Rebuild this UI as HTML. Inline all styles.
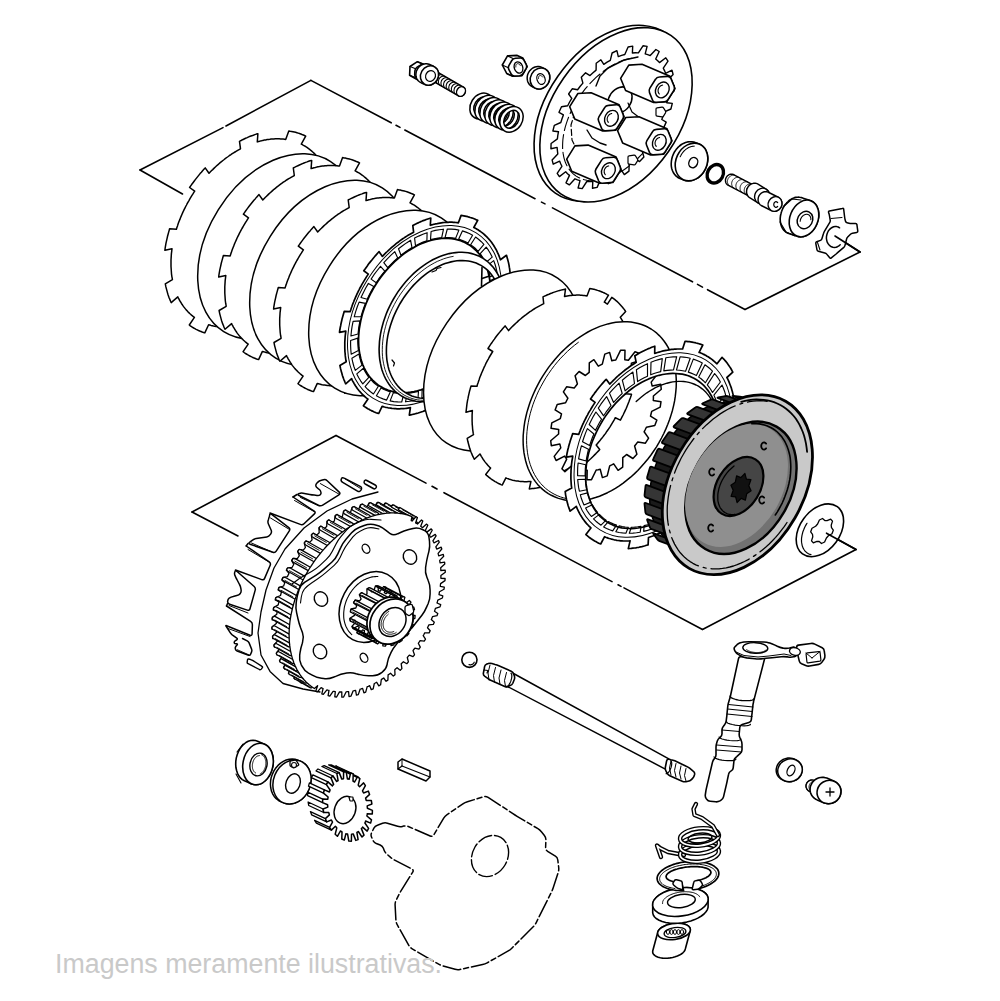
<!DOCTYPE html>
<html><head><meta charset="utf-8"><style>html,body{margin:0;padding:0;background:#fff;overflow:hidden}svg{display:block}</style></head>
<body><svg width="1000" height="1001" viewBox="0 0 1000 1001"><path d="M310.9,80.4 L226,126" stroke="#000" stroke-width="1.6" fill="none" stroke-linejoin="round" stroke-linecap="round"/>
<path d="M223,127.6 L140,170" stroke="#000" stroke-width="1.6" fill="none" stroke-linejoin="round" stroke-linecap="round"/>
<path d="M140,170 L182.5,194" stroke="#000" stroke-width="1.6" fill="none" stroke-linejoin="round" stroke-linecap="round"/>
<path d="M310.9,80.4 L391.2,122.8" stroke="#000" stroke-width="1.6" fill="none" stroke-linejoin="round" stroke-linecap="round"/>
<path d="M396,125.3 L400,127.4" stroke="#000" stroke-width="1.6" fill="none" stroke-linejoin="round" stroke-linecap="round"/>
<path d="M404.8,130 L535,198.7" stroke="#000" stroke-width="1.6" fill="none" stroke-linejoin="round" stroke-linecap="round"/>
<path d="M541.5,202.1 L545,203.9" stroke="#000" stroke-width="1.6" fill="none" stroke-linejoin="round" stroke-linecap="round"/>
<path d="M552.5,207.9 L692.5,281.8" stroke="#000" stroke-width="1.6" fill="none" stroke-linejoin="round" stroke-linecap="round"/>
<path d="M697.5,284.4 L702.5,287.1" stroke="#000" stroke-width="1.6" fill="none" stroke-linejoin="round" stroke-linecap="round"/>
<path d="M707.5,289.7 L745,309.5" stroke="#000" stroke-width="1.6" fill="none" stroke-linejoin="round" stroke-linecap="round"/>
<path d="M745,309.5 L860,252" stroke="#000" stroke-width="1.6" fill="none" stroke-linejoin="round" stroke-linecap="round"/>
<path d="M860,252 L835,236" stroke="#000" stroke-width="1.6" fill="none" stroke-linejoin="round" stroke-linecap="round"/>
<path d="M336,435.5 L192,512" stroke="#000" stroke-width="1.6" fill="none" stroke-linejoin="round" stroke-linecap="round"/>
<path d="M192,512 L238,536" stroke="#000" stroke-width="1.6" fill="none" stroke-linejoin="round" stroke-linecap="round"/>
<path d="M336,435.5 L426,483.1" stroke="#000" stroke-width="1.6" fill="none" stroke-linejoin="round" stroke-linecap="round"/>
<path d="M432,486.3 L437,489" stroke="#000" stroke-width="1.6" fill="none" stroke-linejoin="round" stroke-linecap="round"/>
<path d="M444,492.7 L612,581.6" stroke="#000" stroke-width="1.6" fill="none" stroke-linejoin="round" stroke-linecap="round"/>
<path d="M618,584.8 L621,586.4" stroke="#000" stroke-width="1.6" fill="none" stroke-linejoin="round" stroke-linecap="round"/>
<path d="M624,587.9 L702.5,629.5" stroke="#000" stroke-width="1.6" fill="none" stroke-linejoin="round" stroke-linecap="round"/>
<path d="M702.5,629.5 L856,549.5" stroke="#000" stroke-width="1.6" fill="none" stroke-linejoin="round" stroke-linecap="round"/>
<path d="M856,549.5 L826.5,533.2" stroke="#000" stroke-width="1.6" fill="none" stroke-linejoin="round" stroke-linecap="round"/>
<path d="M305.6,146.5 L306.6,147.2 L307.6,147.9 L308.6,148.6 L309.6,149.3 L310.5,150.1 L311.5,150.9 L312.4,151.7 L313.3,152.5 L314.2,153.4 L315.1,154.3 L315.9,155.2 L316.8,156.1 L317.6,157.1 L318.4,158.1 L319.2,159.1 L319.9,160.1 L320.6,161.2 L321.4,162.3 L322,163.4 L322.7,164.5 L323.4,165.6 L324,166.8 L324.6,167.9 L325.2,169.1 L325.7,170.4 L326.2,171.6 L326.8,172.9 L327.2,174.1 L327.7,175.4 L328.2,176.7 L335.1,171.7 L335.5,173.1 L335.9,174.6 L336.3,176.1 L336.7,177.6 L337.1,179.1 L337.4,180.6 L337.7,182.2 L338,183.7 L338.2,185.3 L338.5,186.9 L338.6,188.5 L338.8,190.1 L339,191.8 L331.7,195.2 L331.8,196.7 L331.9,198.2 L332,199.7 L332,201.3 L332,202.8 L332,204.4 L332,206 L331.9,207.5 L331.8,209.1 L331.7,210.7 L331.6,212.3 L331.4,213.9 L331.2,215.5 L331,217.2 L330.8,218.8 L330.5,220.4 L330.2,222 L329.9,223.7 L329.6,225.3 L329.2,227 L328.8,228.6 L328.4,230.2 L335.4,230 L334.9,231.8 L334.4,233.6 L333.9,235.4 L333.4,237.2 L332.8,239 L332.2,240.7 L331.6,242.5 L330.9,244.3 L330.3,246.1 L329.6,247.9 L328.9,249.6 L328.1,251.4 L327.4,253.2 L321.1,251.5 L320.4,253.1 L319.7,254.7 L318.9,256.3 L318.1,257.9 L317.3,259.5 L316.5,261 L315.7,262.6 L314.8,264.2 L313.9,265.7 L313,267.3 L312.1,268.8 L311.2,270.3 L310.2,271.8 L309.3,273.3 L308.3,274.8 L307.3,276.2 L306.2,277.7 L305.2,279.1 L304.2,280.6 L303.1,282 L302,283.4 L300.9,284.7 L305.3,289.4 L304.1,290.9 L302.9,292.4 L301.6,293.8 L300.4,295.3 L299.1,296.7 L297.8,298.1 L296.5,299.4 L295.2,300.8 L293.8,302.1 L292.5,303.4 L291.1,304.7 L289.7,306 L288.4,307.3 L285.3,301.1 L284,302.3 L282.8,303.4 L281.5,304.4 L280.1,305.5 L278.8,306.5 L277.5,307.6 L276.2,308.5 L274.8,309.5 L273.5,310.5 L272.1,311.4 L270.8,312.3 L269.4,313.2 L268,314 L266.6,314.8 L265.3,315.6 L263.9,316.4 L262.5,317.2 L261.1,317.9 L259.7,318.6 L258.3,319.3 L256.9,319.9 L255.5,320.5 L255.8,328.4 L254.3,329.1 L252.8,329.7 L251.2,330.3 L249.7,330.8 L248.2,331.4 L246.7,331.9 L245.1,332.3 L243.6,332.8 L242.1,333.2 L240.6,333.6 L239,333.9 L237.5,334.2 L236,334.5 L237.3,326.1 L235.9,326.4 L234.5,326.6 L233.2,326.7 L231.8,326.9 L230.4,327 L229.1,327.1 L227.7,327.2 L226.4,327.2 L225.1,327.2 L223.7,327.2 L222.4,327.1 L221.1,327 L219.8,326.9 L218.5,326.8 L217.3,326.6 L216,326.4 L214.7,326.2 L213.5,326 L212.3,325.7 L211,325.4 L209.8,325 L208.6,324.7 L204.8,332.9 L203.5,332.5 L202.2,332 L201,331.5 L199.7,331 L198.5,330.5 L197.3,329.9 L196.1,329.3 L194.9,328.6 L193.7,328 L192.6,327.3 L191.5,326.6 L190.3,325.8 L189.3,325 L194.4,317.4 L193.4,316.7 L192.5,315.9 L191.5,315.1 L190.6,314.3 L189.7,313.5 L188.8,312.6 L187.9,311.7 L187.1,310.8 L186.2,309.9 L185.4,308.9 L184.6,307.9 L183.8,306.9 L183.1,305.9 L182.4,304.8 L181.6,303.7 L181,302.6 L180.3,301.5 L179.6,300.4 L179,299.2 L178.4,298.1 L177.8,296.9 L171.2,302.6 L170.6,301.3 L170,299.9 L169.5,298.6 L168.9,297.2 L168.4,295.8 L167.9,294.3 L167.5,292.9 L167.1,291.4 L166.7,289.9 L166.3,288.4 L165.9,286.9 L165.6,285.4 L165.3,283.8 L172.4,279.6 L172.2,278.2 L171.9,276.8 L171.7,275.3 L171.5,273.8 L171.4,272.3 L171.3,270.8 L171.2,269.3 L171.1,267.8 L171,266.3 L171,264.7 L171,263.2 L171,261.6 L171,260 L171.1,258.5 L171.2,256.9 L171.3,255.3 L171.4,253.7 L171.6,252.1 L171.8,250.5 L172,248.8 L164.9,250.3 L165.1,248.5 L165.4,246.7 L165.7,244.9 L166,243.2 L166.4,241.4 L166.8,239.6 L167.2,237.8 L167.6,236 L168.1,234.2 L168.6,232.4 L169.1,230.6 L169.6,228.8 L176.4,229.2 L176.9,227.5 L177.5,225.9 L178,224.3 L178.6,222.6 L179.2,221 L179.9,219.4 L180.5,217.7 L181.2,216.1 L181.9,214.5 L182.6,212.9 L183.3,211.3 L184.1,209.7 L184.9,208.1 L185.7,206.5 L186.5,205 L187.3,203.4 L188.2,201.8 L189.1,200.3 L190,198.7 L190.9,197.2 L191.8,195.7 L192.8,194.2 L193.7,192.7 L194.7,191.2 L189.6,187.5 L190.7,185.9 L191.8,184.3 L193,182.7 L194.1,181.2 L195.3,179.6 L196.5,178.1 L197.7,176.6 L198.9,175.1 L200.1,173.6 L201.4,172.2 L202.6,170.7 L203.9,169.3 L205.2,167.9 L209,173.3 L210.2,172 L211.4,170.8 L212.7,169.6 L213.9,168.4 L215.1,167.2 L216.4,166 L217.7,164.9 L219,163.7 L220.2,162.6 L221.5,161.6 L222.9,160.5 L224.2,159.5 L225.5,158.4 L226.8,157.5 L228.2,156.5 L229.5,155.5 L230.9,154.6 L232.2,153.7 L233.6,152.8 L235,152 L236.4,151.2 L237.7,150.4 L239.1,149.6 L240.5,148.8 L239.5,141.3 L241.1,140.5 L242.6,139.7 L244.1,139 L245.6,138.3 L247.2,137.6 L248.7,136.9 L250.2,136.3 L251.8,135.7 L253.3,135.2 L254.8,134.6 L256.3,134.1 L257.9,133.7 L257.3,141.9 L258.7,141.5 L260.1,141.1 L261.5,140.8 L262.9,140.4 L264.3,140.1 L265.7,139.9 L267.1,139.6 L268.5,139.4 L269.8,139.3 L271.2,139.1 L272.6,139 L273.9,138.9 L275.3,138.8 L276.6,138.8 L277.9,138.8 L279.3,138.8 L280.6,138.9 L281.9,139 L283.2,139.1 L284.5,139.2 L285.7,139.4 L288.8,130.9 L290.2,131.2 L291.6,131.4 L292.9,131.7 L294.3,132 L295.6,132.3 L296.9,132.7 L298.2,133.1 L299.5,133.5 L300.8,134 L302,134.5 L303.3,135 L304.5,135.5 L305.7,136.1 L301.3,144.1 L302.4,144.7 L303.4,145.3 L304.5,145.9 L305.6,146.5Z" stroke="#000" stroke-width="1.5" fill="#fff" stroke-linejoin="round" stroke-linecap="round"/>
<ellipse cx="277" cy="246.5" rx="100.5" ry="69.3" transform="rotate(-58 277 246.5)" stroke="#000" stroke-width="1.5" fill="#fff" stroke-linejoin="round" stroke-linecap="round"/>
<path d="M359.4,173.2 L360.4,173.9 L361.4,174.6 L362.4,175.3 L363.4,176 L364.3,176.8 L365.3,177.6 L366.2,178.4 L367.1,179.2 L368,180.1 L368.9,181 L369.7,181.9 L370.6,182.8 L371.4,183.8 L372.2,184.8 L373,185.8 L373.7,186.8 L374.4,187.9 L375.2,189 L375.8,190.1 L376.5,191.2 L377.2,192.3 L377.8,193.5 L378.4,194.6 L379,195.8 L379.5,197.1 L380,198.3 L380.6,199.6 L381,200.8 L381.5,202.1 L382,203.4 L388.9,198.4 L389.3,199.8 L389.7,201.3 L390.1,202.8 L390.5,204.3 L390.9,205.8 L391.2,207.3 L391.5,208.9 L391.8,210.4 L392,212 L392.3,213.6 L392.4,215.2 L392.6,216.8 L392.8,218.5 L385.5,221.9 L385.6,223.4 L385.7,224.9 L385.8,226.4 L385.8,228 L385.8,229.5 L385.8,231.1 L385.8,232.7 L385.7,234.2 L385.6,235.8 L385.5,237.4 L385.4,239 L385.2,240.6 L385,242.2 L384.8,243.9 L384.6,245.5 L384.3,247.1 L384,248.7 L383.7,250.4 L383.4,252 L383,253.7 L382.6,255.3 L382.2,256.9 L389.2,256.7 L388.7,258.5 L388.2,260.3 L387.7,262.1 L387.2,263.9 L386.6,265.7 L386,267.4 L385.4,269.2 L384.7,271 L384.1,272.8 L383.4,274.6 L382.7,276.3 L381.9,278.1 L381.2,279.9 L374.9,278.2 L374.2,279.8 L373.5,281.4 L372.7,283 L371.9,284.6 L371.1,286.2 L370.3,287.7 L369.5,289.3 L368.6,290.9 L367.7,292.4 L366.8,294 L365.9,295.5 L365,297 L364,298.5 L363.1,300 L362.1,301.5 L361.1,302.9 L360,304.4 L359,305.8 L358,307.3 L356.9,308.7 L355.8,310.1 L354.7,311.4 L359.1,316.1 L357.9,317.6 L356.7,319.1 L355.4,320.5 L354.2,322 L352.9,323.4 L351.6,324.8 L350.3,326.1 L349,327.5 L347.6,328.8 L346.3,330.1 L344.9,331.4 L343.5,332.7 L342.2,334 L339.1,327.8 L337.8,329 L336.6,330.1 L335.3,331.1 L333.9,332.2 L332.6,333.2 L331.3,334.3 L330,335.2 L328.6,336.2 L327.3,337.2 L325.9,338.1 L324.6,339 L323.2,339.9 L321.8,340.7 L320.4,341.5 L319.1,342.3 L317.7,343.1 L316.3,343.9 L314.9,344.6 L313.5,345.3 L312.1,346 L310.7,346.6 L309.3,347.2 L309.6,355.1 L308.1,355.8 L306.6,356.4 L305,357 L303.5,357.5 L302,358.1 L300.5,358.6 L298.9,359 L297.4,359.5 L295.9,359.9 L294.4,360.3 L292.8,360.6 L291.3,360.9 L289.8,361.2 L291.1,352.8 L289.7,353.1 L288.3,353.3 L287,353.4 L285.6,353.6 L284.2,353.7 L282.9,353.8 L281.5,353.9 L280.2,353.9 L278.9,353.9 L277.5,353.9 L276.2,353.8 L274.9,353.7 L273.6,353.6 L272.3,353.5 L271.1,353.3 L269.8,353.1 L268.5,352.9 L267.3,352.7 L266.1,352.4 L264.8,352.1 L263.6,351.7 L262.4,351.4 L258.6,359.6 L257.3,359.2 L256,358.7 L254.8,358.2 L253.5,357.7 L252.3,357.2 L251.1,356.6 L249.9,356 L248.7,355.3 L247.5,354.7 L246.4,354 L245.3,353.3 L244.1,352.5 L243.1,351.7 L248.2,344.1 L247.2,343.4 L246.3,342.6 L245.3,341.8 L244.4,341 L243.5,340.2 L242.6,339.3 L241.7,338.4 L240.9,337.5 L240,336.6 L239.2,335.6 L238.4,334.6 L237.6,333.6 L236.9,332.6 L236.2,331.5 L235.4,330.4 L234.8,329.3 L234.1,328.2 L233.4,327.1 L232.8,325.9 L232.2,324.8 L231.6,323.6 L225,329.3 L224.4,328 L223.8,326.6 L223.3,325.3 L222.7,323.9 L222.2,322.5 L221.7,321 L221.3,319.6 L220.9,318.1 L220.5,316.6 L220.1,315.1 L219.7,313.6 L219.4,312.1 L219.1,310.5 L226.2,306.3 L226,304.9 L225.7,303.5 L225.5,302 L225.3,300.5 L225.2,299 L225.1,297.5 L225,296 L224.9,294.5 L224.8,293 L224.8,291.4 L224.8,289.9 L224.8,288.3 L224.8,286.7 L224.9,285.2 L225,283.6 L225.1,282 L225.2,280.4 L225.4,278.8 L225.6,277.2 L225.8,275.5 L218.7,277 L218.9,275.2 L219.2,273.4 L219.5,271.6 L219.8,269.9 L220.2,268.1 L220.6,266.3 L221,264.5 L221.4,262.7 L221.9,260.9 L222.4,259.1 L222.9,257.3 L223.4,255.5 L230.2,255.9 L230.7,254.2 L231.3,252.6 L231.8,251 L232.4,249.3 L233,247.7 L233.7,246.1 L234.3,244.4 L235,242.8 L235.7,241.2 L236.4,239.6 L237.1,238 L237.9,236.4 L238.7,234.8 L239.5,233.2 L240.3,231.7 L241.1,230.1 L242,228.5 L242.9,227 L243.8,225.4 L244.7,223.9 L245.6,222.4 L246.6,220.9 L247.5,219.4 L248.5,217.9 L243.4,214.2 L244.5,212.6 L245.6,211 L246.8,209.4 L247.9,207.9 L249.1,206.3 L250.3,204.8 L251.5,203.3 L252.7,201.8 L253.9,200.3 L255.2,198.9 L256.4,197.4 L257.7,196 L259,194.6 L262.8,200 L264,198.7 L265.2,197.5 L266.5,196.3 L267.7,195.1 L268.9,193.9 L270.2,192.7 L271.5,191.6 L272.8,190.4 L274,189.3 L275.3,188.3 L276.7,187.2 L278,186.2 L279.3,185.1 L280.6,184.2 L282,183.2 L283.3,182.2 L284.7,181.3 L286,180.4 L287.4,179.5 L288.8,178.7 L290.2,177.9 L291.5,177.1 L292.9,176.3 L294.3,175.5 L293.3,168 L294.9,167.2 L296.4,166.4 L297.9,165.7 L299.4,165 L301,164.3 L302.5,163.6 L304,163 L305.6,162.4 L307.1,161.9 L308.6,161.3 L310.1,160.8 L311.7,160.4 L311.1,168.6 L312.5,168.2 L313.9,167.8 L315.3,167.5 L316.7,167.1 L318.1,166.8 L319.5,166.6 L320.9,166.3 L322.3,166.1 L323.6,166 L325,165.8 L326.4,165.7 L327.7,165.6 L329.1,165.5 L330.4,165.5 L331.7,165.5 L333.1,165.5 L334.4,165.6 L335.7,165.7 L337,165.8 L338.3,165.9 L339.5,166.1 L342.6,157.6 L344,157.9 L345.4,158.1 L346.7,158.4 L348.1,158.7 L349.4,159 L350.7,159.4 L352,159.8 L353.3,160.2 L354.6,160.7 L355.8,161.2 L357.1,161.7 L358.3,162.2 L359.5,162.8 L355.1,170.8 L356.2,171.4 L357.2,172 L358.3,172.6 L359.4,173.2Z" stroke="#000" stroke-width="1.5" fill="#fff" stroke-linejoin="round" stroke-linecap="round"/>
<ellipse cx="329" cy="273" rx="100.5" ry="69.3" transform="rotate(-58 329 273)" stroke="#000" stroke-width="1.5" fill="#fff" stroke-linejoin="round" stroke-linecap="round"/>
<path d="M414.3,205.2 L415.3,205.9 L416.3,206.6 L417.3,207.3 L418.3,208 L419.2,208.8 L420.2,209.6 L421.1,210.4 L422,211.2 L422.9,212.1 L423.8,213 L424.6,213.9 L425.5,214.8 L426.3,215.8 L427.1,216.8 L427.9,217.8 L428.6,218.8 L429.3,219.9 L430.1,221 L430.7,222.1 L431.4,223.2 L432.1,224.3 L432.7,225.5 L433.3,226.6 L433.9,227.8 L434.4,229.1 L434.9,230.3 L435.5,231.6 L435.9,232.8 L436.4,234.1 L436.9,235.4 L443.8,230.4 L444.2,231.8 L444.6,233.3 L445,234.8 L445.4,236.3 L445.8,237.8 L446.1,239.3 L446.4,240.9 L446.7,242.4 L446.9,244 L447.2,245.6 L447.3,247.2 L447.5,248.8 L447.7,250.5 L440.4,253.9 L440.5,255.4 L440.6,256.9 L440.7,258.4 L440.7,260 L440.7,261.5 L440.7,263.1 L440.7,264.7 L440.6,266.2 L440.5,267.8 L440.4,269.4 L440.3,271 L440.1,272.6 L439.9,274.2 L439.7,275.9 L439.5,277.5 L439.2,279.1 L438.9,280.7 L438.6,282.4 L438.3,284 L437.9,285.7 L437.5,287.3 L437.1,288.9 L444.1,288.7 L443.6,290.5 L443.1,292.3 L442.6,294.1 L442.1,295.9 L441.5,297.7 L440.9,299.4 L440.3,301.2 L439.6,303 L439,304.8 L438.3,306.6 L437.6,308.3 L436.8,310.1 L436.1,311.9 L429.8,310.2 L429.1,311.8 L428.4,313.4 L427.6,315 L426.8,316.6 L426,318.2 L425.2,319.7 L424.4,321.3 L423.5,322.9 L422.6,324.4 L421.7,326 L420.8,327.5 L419.9,329 L418.9,330.5 L418,332 L417,333.5 L416,334.9 L414.9,336.4 L413.9,337.8 L412.9,339.3 L411.8,340.7 L410.7,342.1 L409.6,343.4 L414,348.1 L412.8,349.6 L411.6,351.1 L410.3,352.5 L409.1,354 L407.8,355.4 L406.5,356.8 L405.2,358.1 L403.9,359.5 L402.5,360.8 L401.2,362.1 L399.8,363.4 L398.4,364.7 L397.1,366 L394,359.8 L392.7,361 L391.5,362.1 L390.2,363.1 L388.8,364.2 L387.5,365.2 L386.2,366.3 L384.9,367.2 L383.5,368.2 L382.2,369.2 L380.8,370.1 L379.5,371 L378.1,371.9 L376.7,372.7 L375.3,373.5 L374,374.3 L372.6,375.1 L371.2,375.9 L369.8,376.6 L368.4,377.3 L367,378 L365.6,378.6 L364.2,379.2 L364.5,387.1 L363,387.8 L361.5,388.4 L359.9,389 L358.4,389.5 L356.9,390.1 L355.4,390.6 L353.8,391 L352.3,391.5 L350.8,391.9 L349.3,392.3 L347.7,392.6 L346.2,392.9 L344.7,393.2 L346,384.8 L344.6,385.1 L343.2,385.3 L341.9,385.4 L340.5,385.6 L339.1,385.7 L337.8,385.8 L336.4,385.9 L335.1,385.9 L333.8,385.9 L332.4,385.9 L331.1,385.8 L329.8,385.7 L328.5,385.6 L327.2,385.5 L326,385.3 L324.7,385.1 L323.4,384.9 L322.2,384.7 L321,384.4 L319.7,384.1 L318.5,383.7 L317.3,383.4 L313.5,391.6 L312.2,391.2 L310.9,390.7 L309.7,390.2 L308.4,389.7 L307.2,389.2 L306,388.6 L304.8,388 L303.6,387.3 L302.4,386.7 L301.3,386 L300.2,385.3 L299,384.5 L298,383.7 L303.1,376.1 L302.1,375.4 L301.2,374.6 L300.2,373.8 L299.3,373 L298.4,372.2 L297.5,371.3 L296.6,370.4 L295.8,369.5 L294.9,368.6 L294.1,367.6 L293.3,366.6 L292.5,365.6 L291.8,364.6 L291.1,363.5 L290.3,362.4 L289.7,361.3 L289,360.2 L288.3,359.1 L287.7,357.9 L287.1,356.8 L286.5,355.6 L279.9,361.3 L279.3,360 L278.7,358.6 L278.2,357.3 L277.6,355.9 L277.1,354.5 L276.6,353 L276.2,351.6 L275.8,350.1 L275.4,348.6 L275,347.1 L274.6,345.6 L274.3,344.1 L274,342.5 L281.1,338.3 L280.9,336.9 L280.6,335.5 L280.4,334 L280.2,332.5 L280.1,331 L280,329.5 L279.9,328 L279.8,326.5 L279.7,325 L279.7,323.4 L279.7,321.9 L279.7,320.3 L279.7,318.7 L279.8,317.2 L279.9,315.6 L280,314 L280.1,312.4 L280.3,310.8 L280.5,309.2 L280.7,307.5 L273.6,309 L273.8,307.2 L274.1,305.4 L274.4,303.6 L274.7,301.9 L275.1,300.1 L275.5,298.3 L275.9,296.5 L276.3,294.7 L276.8,292.9 L277.3,291.1 L277.8,289.3 L278.3,287.5 L285.1,287.9 L285.6,286.2 L286.2,284.6 L286.7,283 L287.3,281.3 L287.9,279.7 L288.6,278.1 L289.2,276.4 L289.9,274.8 L290.6,273.2 L291.3,271.6 L292,270 L292.8,268.4 L293.6,266.8 L294.4,265.2 L295.2,263.7 L296,262.1 L296.9,260.5 L297.8,259 L298.7,257.4 L299.6,255.9 L300.5,254.4 L301.5,252.9 L302.4,251.4 L303.4,249.9 L298.3,246.2 L299.4,244.6 L300.5,243 L301.7,241.4 L302.8,239.9 L304,238.3 L305.2,236.8 L306.4,235.3 L307.6,233.8 L308.8,232.3 L310.1,230.9 L311.3,229.4 L312.6,228 L313.9,226.6 L317.7,232 L318.9,230.7 L320.1,229.5 L321.4,228.3 L322.6,227.1 L323.8,225.9 L325.1,224.7 L326.4,223.6 L327.7,222.4 L328.9,221.3 L330.2,220.3 L331.6,219.2 L332.9,218.2 L334.2,217.1 L335.5,216.2 L336.9,215.2 L338.2,214.2 L339.6,213.3 L340.9,212.4 L342.3,211.5 L343.7,210.7 L345.1,209.9 L346.4,209.1 L347.8,208.3 L349.2,207.5 L348.2,200 L349.8,199.2 L351.3,198.4 L352.8,197.7 L354.3,197 L355.9,196.3 L357.4,195.6 L358.9,195 L360.5,194.4 L362,193.9 L363.5,193.3 L365,192.8 L366.6,192.4 L366,200.6 L367.4,200.2 L368.8,199.8 L370.2,199.5 L371.6,199.1 L373,198.8 L374.4,198.6 L375.8,198.3 L377.2,198.1 L378.5,198 L379.9,197.8 L381.3,197.7 L382.6,197.6 L384,197.5 L385.3,197.5 L386.6,197.5 L388,197.5 L389.3,197.6 L390.6,197.7 L391.9,197.8 L393.2,197.9 L394.4,198.1 L397.5,189.6 L398.9,189.9 L400.3,190.1 L401.6,190.4 L403,190.7 L404.3,191 L405.6,191.4 L406.9,191.8 L408.2,192.2 L409.5,192.7 L410.7,193.2 L412,193.7 L413.2,194.2 L414.4,194.8 L410,202.8 L411.1,203.4 L412.1,204 L413.2,204.6 L414.3,205.2Z" stroke="#000" stroke-width="1.5" fill="#fff" stroke-linejoin="round" stroke-linecap="round"/>
<ellipse cx="388" cy="303" rx="100.5" ry="69.3" transform="rotate(-58 388 303)" stroke="#000" stroke-width="1.5" fill="#fff" stroke-linejoin="round" stroke-linecap="round"/>
<path d="M478,229.8 L479,230.5 L480.1,231.2 L481,231.9 L482,232.6 L483,233.4 L483.9,234.2 L484.8,235 L485.7,235.8 L486.6,236.7 L487.5,237.6 L488.3,238.5 L489.1,239.4 L489.9,240.3 L490.7,241.3 L491.5,242.3 L492.2,243.3 L493,244.4 L493.7,245.5 L494.3,246.5 L495,247.6 L495.6,248.8 L496.3,249.9 L496.9,251.1 L497.4,252.3 L498,253.5 L498.5,254.7 L499,255.9 L499.5,257.2 L500,258.5 L500.4,259.8 L506.5,255.3 L506.9,256.7 L507.3,258.2 L507.7,259.6 L508.1,261.1 L508.5,262.6 L508.8,264.1 L509.1,265.6 L509.3,267.2 L509.6,268.7 L509.8,270.3 L510,271.9 L510.2,273.4 L510.3,275 L503.9,278 L504.1,279.5 L504.1,281 L504.2,282.6 L504.2,284.1 L504.2,285.6 L504.2,287.2 L504.2,288.7 L504.1,290.3 L504,291.9 L503.9,293.4 L503.8,295 L503.6,296.6 L503.4,298.2 L503.2,299.8 L503,301.4 L502.7,303 L502.4,304.7 L502.1,306.3 L501.8,307.9 L501.5,309.5 L501.1,311.1 L500.7,312.8 L506.8,312.6 L506.3,314.3 L505.8,316.1 L505.3,317.8 L504.8,319.6 L504.2,321.3 L503.7,323.1 L503.1,324.8 L502.4,326.6 L501.8,328.3 L501.1,330.1 L500.4,331.8 L499.7,333.6 L499,335.3 L493.4,333.8 L492.7,335.4 L492,337 L491.2,338.6 L490.5,340.2 L489.7,341.7 L488.9,343.3 L488,344.8 L487.2,346.4 L486.3,347.9 L485.4,349.4 L484.5,350.9 L483.6,352.4 L482.7,353.9 L481.7,355.4 L480.7,356.9 L479.7,358.3 L478.7,359.8 L477.7,361.2 L476.6,362.6 L475.6,364 L474.5,365.4 L473.4,366.7 L477.3,370.8 L476.1,372.3 L474.9,373.7 L473.7,375.2 L472.4,376.6 L471.2,378 L469.9,379.3 L468.6,380.7 L467.3,382 L466,383.3 L464.7,384.6 L463.4,385.9 L462,387.1 L460.7,388.4 L458,383 L456.7,384.1 L455.4,385.2 L454.2,386.2 L452.9,387.3 L451.6,388.3 L450.2,389.3 L448.9,390.3 L447.6,391.3 L446.3,392.2 L444.9,393.1 L443.6,394 L442.2,394.9 L440.9,395.7 L439.5,396.5 L438.1,397.3 L436.7,398.1 L435.4,398.8 L434,399.6 L432.6,400.3 L431.2,400.9 L429.8,401.6 L428.4,402.2 L428.8,409.1 L427.3,409.7 L425.8,410.4 L424.3,410.9 L422.8,411.5 L421.2,412 L419.7,412.5 L418.2,413 L416.7,413.4 L415.3,413.8 L413.8,414.2 L412.3,414.5 L410.8,414.8 L409.3,415.1 L410.4,407.7 L409.1,407.9 L407.7,408.1 L406.3,408.3 L405,408.5 L403.6,408.6 L402.3,408.7 L401,408.7 L399.6,408.8 L398.3,408.8 L397,408.8 L395.7,408.7 L394.4,408.6 L393.1,408.5 L391.9,408.4 L390.6,408.2 L389.3,408 L388.1,407.8 L386.9,407.5 L385.6,407.3 L384.4,407 L383.2,406.6 L382.1,406.3 L378.7,413.5 L377.4,413.1 L376.1,412.7 L374.9,412.2 L373.7,411.7 L372.5,411.1 L371.3,410.6 L370.1,410 L369,409.3 L367.8,408.7 L366.7,408 L365.6,407.3 L364.5,406.6 L363.4,405.8 L368,399.1 L367,398.4 L366,397.6 L365.1,396.8 L364.2,396 L363.3,395.2 L362.4,394.3 L361.5,393.4 L360.7,392.5 L359.9,391.6 L359.1,390.7 L358.3,389.7 L357.5,388.7 L356.8,387.7 L356,386.6 L355.3,385.5 L354.7,384.5 L354,383.4 L353.4,382.2 L352.7,381.1 L352.1,379.9 L351.6,378.7 L345.7,383.8 L345.1,382.5 L344.6,381.2 L344,379.8 L343.5,378.5 L343,377.1 L342.5,375.7 L342.1,374.3 L341.7,372.8 L341.3,371.4 L340.9,369.9 L340.5,368.4 L340.2,366.9 L339.9,365.4 L346.2,361.7 L345.9,360.3 L345.7,358.8 L345.5,357.4 L345.3,355.9 L345.2,354.4 L345.1,353 L344.9,351.5 L344.9,350 L344.8,348.4 L344.8,346.9 L344.8,345.4 L344.8,343.8 L344.8,342.3 L344.9,340.7 L345,339.1 L345.1,337.6 L345.2,336 L345.4,334.4 L345.6,332.8 L345.8,331.2 L339.5,332.4 L339.7,330.7 L340,329 L340.3,327.2 L340.7,325.5 L341,323.7 L341.4,322 L341.8,320.2 L342.2,318.4 L342.7,316.7 L343.2,314.9 L343.7,313.2 L344.2,311.4 L350.1,311.7 L350.7,310.1 L351.2,308.5 L351.8,306.8 L352.3,305.2 L352.9,303.6 L353.6,302 L354.2,300.4 L354.9,298.8 L355.6,297.2 L356.3,295.6 L357,294 L357.8,292.4 L358.5,290.8 L359.3,289.3 L360.1,287.7 L361,286.2 L361.8,284.6 L362.7,283.1 L363.6,281.6 L364.5,280.1 L365.4,278.6 L366.3,277.1 L367.3,275.6 L368.3,274.1 L363.8,270.8 L364.9,269.3 L366,267.7 L367.1,266.2 L368.2,264.6 L369.3,263.1 L370.5,261.6 L371.7,260.2 L372.9,258.7 L374.1,257.3 L375.3,255.8 L376.6,254.4 L377.8,253 L379.1,251.7 L382.4,256.4 L383.6,255.1 L384.8,253.9 L386,252.7 L387.3,251.5 L388.5,250.3 L389.8,249.2 L391,248 L392.3,246.9 L393.6,245.8 L394.8,244.8 L396.1,243.7 L397.4,242.7 L398.8,241.7 L400.1,240.7 L401.4,239.7 L402.7,238.8 L404.1,237.9 L405.4,237 L406.8,236.1 L408.1,235.3 L409.5,234.5 L410.9,233.7 L412.3,232.9 L413.6,232.2 L412.8,225.5 L414.3,224.7 L415.7,224 L417.2,223.2 L418.7,222.6 L420.2,221.9 L421.7,221.3 L423.2,220.6 L424.7,220.1 L426.2,219.5 L427.8,219 L429.3,218.5 L430.8,218 L430.3,225.3 L431.7,224.9 L433.1,224.5 L434.4,224.2 L435.8,223.8 L437.2,223.6 L438.6,223.3 L439.9,223.1 L441.3,222.9 L442.7,222.7 L444,222.5 L445.4,222.4 L446.7,222.3 L448,222.3 L449.4,222.2 L450.7,222.2 L452,222.2 L453.3,222.3 L454.6,222.4 L455.9,222.5 L457.1,222.6 L458.4,222.8 L461.1,215.4 L462.5,215.6 L463.8,215.8 L465.1,216.1 L466.5,216.4 L467.8,216.7 L469.1,217.1 L470.3,217.5 L471.6,217.9 L472.9,218.3 L474.1,218.8 L475.3,219.3 L476.5,219.9 L477.7,220.4 L473.8,227.5 L474.9,228 L475.9,228.6 L477,229.2 L478,229.8Z M468.7,244.7 L466.1,243.2 L463.4,241.9 L460.6,240.8 L457.6,239.9 L454.6,239.2 L451.5,238.7 L448.3,238.4 L445,238.4 L441.7,238.5 L438.4,238.9 L435,239.5 L431.6,240.3 L428.1,241.3 L424.7,242.4 L421.2,243.8 L417.8,245.4 L414.4,247.2 L411,249.2 L407.6,251.3 L404.3,253.7 L401.1,256.1 L397.9,258.8 L394.7,261.6 L391.7,264.6 L388.8,267.7 L385.9,270.9 L383.2,274.3 L380.5,277.7 L378,281.3 L375.6,285 L373.4,288.7 L371.3,292.5 L369.3,296.4 L367.5,300.4 L365.9,304.3 L364.4,308.3 L363,312.4 L361.9,316.4 L360.9,320.4 L360.1,324.5 L359.4,328.5 L359,332.4 L358.7,336.3 L358.6,340.2 L358.7,344 L358.9,347.7 L359.4,351.3 L360,354.8 L360.8,358.3 L361.7,361.6 L362.9,364.7 L364.2,367.8 L365.7,370.7 L367.3,373.4 L369.1,376 L371.1,378.4 L373.2,380.7 L375.4,382.7 L377.8,384.6 L380.3,386.3 L382.9,387.8 L385.6,389.1 L388.4,390.2 L391.4,391.1 L394.4,391.8 L397.5,392.3 L400.7,392.6 L404,392.6 L407.3,392.5 L410.6,392.1 L414,391.5 L417.4,390.7 L420.9,389.7 L424.3,388.6 L427.8,387.2 L431.2,385.6 L434.6,383.8 L438,381.8 L441.4,379.7 L444.7,377.3 L447.9,374.9 L451.1,372.2 L454.3,369.4 L457.3,366.4 L460.2,363.3 L463.1,360.1 L465.8,356.7 L468.5,353.3 L471,349.7 L473.4,346 L475.6,342.3 L477.7,338.5 L479.7,334.6 L481.5,330.6 L483.1,326.7 L484.6,322.7 L486,318.6 L487.1,314.6 L488.1,310.6 L488.9,306.5 L489.6,302.5 L490,298.6 L490.3,294.7 L490.4,290.8 L490.3,287 L490.1,283.3 L489.6,279.7 L489,276.2 L488.2,272.7 L487.3,269.4 L486.1,266.3 L484.8,263.2 L483.3,260.3 L481.7,257.6 L479.9,255 L477.9,252.6 L475.8,250.3 L473.6,248.3 L471.2,246.4 L468.7,244.7Z" fill="#fff" fill-rule="evenodd" stroke="#000" stroke-width="1.7" stroke-linejoin="round"/>
<path d="M468.7,244.7 L466.1,243.2 L463.4,241.9 L460.6,240.8 L457.6,239.9 L454.6,239.2 L451.5,238.7 L448.3,238.4 L445,238.4 L441.7,238.5 L438.4,238.9 L435,239.5 L431.6,240.3 L428.1,241.3 L424.7,242.4 L421.2,243.8 L417.8,245.4 L414.4,247.2 L411,249.2 L407.6,251.3 L404.3,253.7 L401.1,256.1 L397.9,258.8 L394.7,261.6 L391.7,264.6 L388.8,267.7 L385.9,270.9 L383.2,274.3 L380.5,277.7 L378,281.3 L375.6,285 L373.4,288.7 L371.3,292.5 L369.3,296.4 L367.5,300.4 L365.9,304.3 L364.4,308.3 L363,312.4 L361.9,316.4 L360.9,320.4 L360.1,324.5 L359.4,328.5 L359,332.4 L358.7,336.3 L358.6,340.2 L358.7,344 L358.9,347.7 L359.4,351.3 L360,354.8 L360.8,358.3 L361.7,361.6 L362.9,364.7 L364.2,367.8 L365.7,370.7 L367.3,373.4 L369.1,376 L371.1,378.4 L373.2,380.7 L375.4,382.7 L377.8,384.6 L380.3,386.3 L382.9,387.8 L385.6,389.1 L388.4,390.2 L391.4,391.1 L394.4,391.8 L397.5,392.3 L400.7,392.6 L404,392.6 L407.3,392.5 L410.6,392.1 L414,391.5 L417.4,390.7 L420.9,389.7 L424.3,388.6 L427.8,387.2 L431.2,385.6 L434.6,383.8 L438,381.8 L441.4,379.7 L444.7,377.3 L447.9,374.9 L451.1,372.2 L454.3,369.4 L457.3,366.4 L460.2,363.3 L463.1,360.1 L465.8,356.7 L468.5,353.3 L471,349.7 L473.4,346 L475.6,342.3 L477.7,338.5 L479.7,334.6 L481.5,330.6 L483.1,326.7 L484.6,322.7 L486,318.6 L487.1,314.6 L488.1,310.6 L488.9,306.5 L489.6,302.5 L490,298.6 L490.3,294.7 L490.4,290.8 L490.3,287 L490.1,283.3 L489.6,279.7 L489,276.2 L488.2,272.7 L487.3,269.4 L486.1,266.3 L484.8,263.2 L483.3,260.3 L481.7,257.6 L479.9,255 L477.9,252.6 L475.8,250.3 L473.6,248.3 L471.2,246.4 L468.7,244.7Z" stroke="#000" stroke-width="1.6" fill="#fff" stroke-linejoin="round" stroke-linecap="round"/>
<ellipse cx="424.5" cy="315.5" rx="97.5" ry="67.3" transform="rotate(-58 424.5 315.5)" stroke="#000" stroke-width="1.0" fill="none" stroke-linejoin="round" stroke-linecap="round"/>
<path d="M475.6,237 L478.5,239.2 L481.3,241.7 L483.9,244.3 L478.1,251.3 L475.8,248.8 L473.3,246.6 L470.6,244.7Z" stroke="#000" stroke-width="1.15" fill="none" stroke-linejoin="round" stroke-linecap="round"/>
<path d="M486.2,247.1 L488.4,250.2 L490.4,253.5 L492.2,257.1 L485.6,262.7 L484,259.6 L482.2,256.6 L480.2,253.7Z" stroke="#000" stroke-width="1.15" fill="none" stroke-linejoin="round" stroke-linecap="round"/>
<path d="M493.7,260.6 L495.1,264.5 L496.2,268.5 L497.1,272.7 L490.1,276.9 L489.2,273.1 L488.2,269.4 L487,265.9Z" stroke="#000" stroke-width="1.15" fill="none" stroke-linejoin="round" stroke-linecap="round"/>
<path d="M497.8,276.8 L498.2,281.3 L498.4,285.9 L498.4,290.5 L491.2,292.9 L491.2,288.7 L491,284.6 L490.6,280.6Z" stroke="#000" stroke-width="1.15" fill="none" stroke-linejoin="round" stroke-linecap="round"/>
<path d="M498.1,295 L497.6,299.8 L496.9,304.7 L495.9,309.6 L489,310.1 L489.9,305.7 L490.5,301.3 L491,297Z" stroke="#000" stroke-width="1.15" fill="none" stroke-linejoin="round" stroke-linecap="round"/>
<path d="M494.8,314.2 L493.4,319.1 L491.8,324 L489.9,328.9 L483.6,327.6 L485.2,323.2 L486.7,318.8 L488,314.3Z" stroke="#000" stroke-width="1.15" fill="none" stroke-linejoin="round" stroke-linecap="round"/>
<path d="M488,333.5 L485.7,338.3 L483.3,343 L480.6,347.6 L475.2,344.5 L477.6,340.3 L479.8,336.1 L481.8,331.7Z" stroke="#000" stroke-width="1.15" fill="none" stroke-linejoin="round" stroke-linecap="round"/>
<path d="M477.9,351.9 L475,356.3 L471.8,360.5 L468.5,364.7 L464.2,359.9 L467.2,356.2 L470.1,352.3 L472.8,348.3Z" stroke="#000" stroke-width="1.15" fill="none" stroke-linejoin="round" stroke-linecap="round"/>
<path d="M465.2,368.4 L461.7,372.2 L458,375.8 L454.2,379.3 L451.3,373.1 L454.7,370 L458.1,366.7 L461.3,363.3Z" stroke="#000" stroke-width="1.15" fill="none" stroke-linejoin="round" stroke-linecap="round"/>
<path d="M450.5,382.3 L446.5,385.3 L442.5,388.1 L438.4,390.7 L437,383.4 L440.7,381.1 L444.4,378.5 L448,375.8Z" stroke="#000" stroke-width="1.15" fill="none" stroke-linejoin="round" stroke-linecap="round"/>
<path d="M434.4,392.9 L430.3,394.9 L426.1,396.7 L421.9,398.3 L422.1,390.3 L425.9,388.9 L429.7,387.2 L433.5,385.3Z" stroke="#000" stroke-width="1.15" fill="none" stroke-linejoin="round" stroke-linecap="round"/>
<path d="M417.9,399.5 L413.7,400.6 L409.6,401.3 L405.5,401.8 L407.3,393.4 L411,393 L414.8,392.3 L418.5,391.4Z" stroke="#000" stroke-width="1.15" fill="none" stroke-linejoin="round" stroke-linecap="round"/>
<path d="M401.7,402 L397.7,401.9 L393.8,401.6 L390.1,400.9 L393.4,392.6 L396.8,393.2 L400.3,393.5 L403.9,393.6Z" stroke="#000" stroke-width="1.15" fill="none" stroke-linejoin="round" stroke-linecap="round"/>
<path d="M386.6,400.1 L383,398.9 L379.6,397.5 L376.4,395.8 L381,388 L384,389.5 L387.1,390.8 L390.3,391.9Z" stroke="#000" stroke-width="1.15" fill="none" stroke-linejoin="round" stroke-linecap="round"/>
<path d="M373.4,394 L370.5,391.8 L367.7,389.3 L365.1,386.7 L370.9,379.7 L373.2,382.2 L375.7,384.4 L378.4,386.3Z" stroke="#000" stroke-width="1.15" fill="none" stroke-linejoin="round" stroke-linecap="round"/>
<path d="M362.8,383.9 L360.6,380.8 L358.6,377.5 L356.8,373.9 L363.4,368.3 L365,371.4 L366.8,374.4 L368.8,377.3Z" stroke="#000" stroke-width="1.15" fill="none" stroke-linejoin="round" stroke-linecap="round"/>
<path d="M355.3,370.4 L353.9,366.5 L352.8,362.5 L351.9,358.3 L358.9,354.1 L359.8,357.9 L360.8,361.6 L362,365.1Z" stroke="#000" stroke-width="1.15" fill="none" stroke-linejoin="round" stroke-linecap="round"/>
<path d="M351.2,354.2 L350.8,349.7 L350.6,345.1 L350.6,340.5 L357.8,338.1 L357.8,342.3 L358,346.4 L358.4,350.4Z" stroke="#000" stroke-width="1.15" fill="none" stroke-linejoin="round" stroke-linecap="round"/>
<path d="M350.9,336 L351.4,331.2 L352.1,326.3 L353.1,321.4 L360,320.9 L359.1,325.3 L358.5,329.7 L358,334Z" stroke="#000" stroke-width="1.15" fill="none" stroke-linejoin="round" stroke-linecap="round"/>
<path d="M354.2,316.8 L355.6,311.9 L357.2,307 L359.1,302.1 L365.4,303.4 L363.8,307.8 L362.3,312.2 L361,316.7Z" stroke="#000" stroke-width="1.15" fill="none" stroke-linejoin="round" stroke-linecap="round"/>
<path d="M361,297.5 L363.3,292.7 L365.7,288 L368.4,283.4 L373.8,286.5 L371.4,290.7 L369.2,294.9 L367.2,299.3Z" stroke="#000" stroke-width="1.15" fill="none" stroke-linejoin="round" stroke-linecap="round"/>
<path d="M371.1,279.1 L374,274.7 L377.2,270.5 L380.5,266.3 L384.8,271.1 L381.8,274.8 L378.9,278.7 L376.2,282.7Z" stroke="#000" stroke-width="1.15" fill="none" stroke-linejoin="round" stroke-linecap="round"/>
<path d="M383.8,262.6 L387.3,258.8 L391,255.2 L394.8,251.7 L397.7,257.9 L394.3,261 L390.9,264.3 L387.7,267.7Z" stroke="#000" stroke-width="1.15" fill="none" stroke-linejoin="round" stroke-linecap="round"/>
<path d="M398.5,248.7 L402.5,245.7 L406.5,242.9 L410.6,240.3 L412,247.6 L408.3,249.9 L404.6,252.5 L401,255.2Z" stroke="#000" stroke-width="1.15" fill="none" stroke-linejoin="round" stroke-linecap="round"/>
<path d="M414.6,238.1 L418.7,236.1 L422.9,234.3 L427.1,232.7 L426.9,240.7 L423.1,242.1 L419.3,243.8 L415.5,245.7Z" stroke="#000" stroke-width="1.15" fill="none" stroke-linejoin="round" stroke-linecap="round"/>
<path d="M431.1,231.5 L435.3,230.4 L439.4,229.7 L443.5,229.2 L441.7,237.6 L438,238 L434.2,238.7 L430.5,239.6Z" stroke="#000" stroke-width="1.15" fill="none" stroke-linejoin="round" stroke-linecap="round"/>
<path d="M447.3,229 L451.3,229.1 L455.2,229.4 L458.9,230.1 L455.6,238.4 L452.2,237.8 L448.7,237.5 L445.1,237.4Z" stroke="#000" stroke-width="1.15" fill="none" stroke-linejoin="round" stroke-linecap="round"/>
<path d="M462.4,230.9 L466,232.1 L469.4,233.5 L472.6,235.2 L468,243 L465,241.5 L461.9,240.2 L458.7,239.1Z" stroke="#000" stroke-width="1.15" fill="none" stroke-linejoin="round" stroke-linecap="round"/>
<path d="M482,257.7 L484.5,259.3 L486.9,261 L489.1,263 L491.2,265.1 L493.2,267.3 L495,269.8 L496.7,272.4 L498.3,275.1 L499.7,278 L500.9,281 L502,284.1 L502.9,287.4 L503.6,290.8 L504.2,294.2 L504.6,297.8 L504.8,301.4 L504.9,305.2 L504.7,308.9 L504.5,312.7 L504,316.6 L503.4,320.5 L502.6,324.4 L501.6,328.3 L500.5,332.2 L499.2,336.1 L497.8,340 L496.2,343.8 L494.4,347.6 L492.5,351.3 L490.5,355 L488.3,358.6 L486.1,362.1 L483.6,365.5 L481.1,368.8 L478.5,372 L475.8,375 L472.9,378 L470,380.8 L467.1,383.4 L464,385.9 L460.9,388.2 L457.7,390.4 L454.5,392.4 L451.3,394.2 L448,395.8 L444.7,397.2 L441.4,398.5 L438.1,399.5 L434.9,400.4 L431.6,401 L428.4,401.4 L425.2,401.7 L422,401.7 L418.9,401.5 L415.9,401.2 L413,400.6 L410.1,399.8 L407.3,398.8 L404.6,397.7 L402,396.3 L399.5,394.7 L397.1,393 L394.9,391 L392.8,388.9 L390.8,386.7 L389,384.2 L387.3,381.6 L385.7,378.9 L384.3,376 L383.1,373 L382,369.9 L381.1,366.6 L380.4,363.2 L379.8,359.8 L379.4,356.2 L379.2,352.6 L379.1,348.8 L379.3,345.1 L379.5,341.3 L380,337.4 L380.6,333.5 L381.4,329.6 L382.4,325.7 L383.5,321.8 L384.8,317.9 L386.2,314 L387.8,310.2 L389.6,306.4 L391.5,302.7 L393.5,299 L395.7,295.4 L397.9,291.9 L400.4,288.5 L402.9,285.2 L405.5,282 L408.2,279 L411.1,276 L414,273.2 L416.9,270.6 L420,268.1 L423.1,265.8 L426.3,263.6 L429.5,261.6 L432.7,259.8 L436,258.2 L439.3,256.8 L442.6,255.5 L445.9,254.5 L449.1,253.6 L452.4,253 L455.6,252.6 L458.8,252.3 L462,252.3 L465.1,252.5 L468.1,252.8 L471,253.4 L473.9,254.2 L476.7,255.2 L479.4,256.3 L482,257.7Z M481,265.4 L478.6,264.2 L476.2,263.1 L473.6,262.2 L471,261.5 L468.3,261 L465.5,260.7 L462.7,260.5 L459.8,260.6 L456.9,260.8 L454,261.2 L451,261.9 L448,262.7 L445,263.6 L441.9,264.8 L438.9,266.2 L435.9,267.7 L433,269.4 L430,271.2 L427.1,273.2 L424.2,275.4 L421.4,277.7 L418.7,280.1 L416,282.7 L413.4,285.4 L410.9,288.3 L408.5,291.2 L406.2,294.3 L403.9,297.4 L401.8,300.7 L399.8,304 L398,307.4 L396.2,310.8 L394.6,314.3 L393.1,317.9 L391.8,321.5 L390.6,325.1 L389.5,328.7 L388.6,332.3 L387.8,335.9 L387.2,339.5 L386.8,343 L386.5,346.5 L386.4,350 L386.4,353.4 L386.6,356.8 L386.9,360.1 L387.5,363.3 L388.1,366.4 L388.9,369.4 L389.9,372.2 L391,375 L392.2,377.7 L393.6,380.2 L395.2,382.6 L396.8,384.8 L398.6,386.9 L400.5,388.8 L402.6,390.6 L404.7,392.2 L407,393.6 L409.4,394.8 L411.8,395.9 L414.4,396.8 L417,397.5 L419.7,398 L422.5,398.3 L425.3,398.5 L428.2,398.4 L431.1,398.2 L434,397.8 L437,397.1 L440,396.3 L443,395.4 L446.1,394.2 L449.1,392.8 L452.1,391.3 L455,389.6 L458,387.8 L460.9,385.8 L463.8,383.6 L466.6,381.3 L469.3,378.9 L472,376.3 L474.6,373.6 L477.1,370.7 L479.5,367.8 L481.8,364.7 L484.1,361.6 L486.2,358.3 L488.2,355 L490,351.6 L491.8,348.2 L493.4,344.7 L494.9,341.1 L496.2,337.5 L497.4,333.9 L498.5,330.3 L499.4,326.7 L500.2,323.1 L500.8,319.5 L501.2,316 L501.5,312.5 L501.6,309 L501.6,305.6 L501.4,302.2 L501.1,298.9 L500.5,295.7 L499.9,292.6 L499.1,289.6 L498.1,286.8 L497,284 L495.8,281.3 L494.4,278.8 L492.8,276.4 L491.2,274.2 L489.4,272.1 L487.5,270.2 L485.4,268.4 L483.3,266.8 L481,265.4Z" fill="#fff" fill-rule="evenodd" stroke="#000" stroke-width="1.6"/>
<path d="M432.8,399.6 L429.7,400.1 L426.6,400.3 L423.6,400.3 L420.6,400.2 L417.7,399.8 L414.8,399.3 L412,398.5 L409.4,397.6 L406.8,396.4 L404.2,395.1 L401.9,393.6 L399.6,391.9 L397.4,390.1 L395.4,388 L393.5,385.8 L391.7,383.5 L390.1,381 L388.6,378.3 L387.2,375.5 L386.1,372.6 L385,369.6 L384.2,366.4 L383.5,363.2 L382.9,359.8 L382.5,356.4 L382.3,352.8 L382.3,349.3 L382.4,345.6 L382.7,341.9 L383.1,338.2 L383.7,334.4 L384.5,330.6 L385.5,326.8 L386.5,323.1 L387.8,319.3 L389.2,315.5 L390.7,311.8 L392.4,308.2 L394.3,304.5 L396.2,301 L398.3,297.5 L400.5,294.1 L402.9,290.8 L405.3,287.6 L407.9,284.5 L410.5,281.6 L413.2,278.7 L416,276 L418.9,273.5 L421.9,271.1 L424.9,268.8 L427.9,266.7 L431,264.8 L434.2,263 L437.3,261.4 L440.5,260.1 L443.7,258.8 L446.9,257.8 L450,257 L453.2,256.4" stroke="#000" stroke-width="0.9" fill="none" stroke-linejoin="round" stroke-linecap="round"/>
<path d="M432,272 L436,270.5 L437,268.5 L441,267.5" stroke="#000" stroke-width="1.2" fill="none" stroke-linejoin="round" stroke-linecap="round"/>
<path d="M392,360 L394.5,363 L393.5,366" stroke="#000" stroke-width="1.2" fill="none" stroke-linejoin="round" stroke-linecap="round"/>
<path d="M482,267.5 L481.5,286" stroke="#000" stroke-width="1.6" fill="none" stroke-linejoin="round" stroke-linecap="round"/>
<path d="M482,278.5 L489.5,276" stroke="#000" stroke-width="1.6" fill="none" stroke-linejoin="round" stroke-linecap="round"/>
<ellipse cx="502" cy="360.5" rx="99.5" ry="66.7" transform="rotate(-56 502 360.5)" stroke="#000" stroke-width="1.5" fill="#fff" stroke-linejoin="round" stroke-linecap="round"/>
<path d="M605.3,302.7 L606.3,303.4 L607.4,304.1 L611.8,297.3 L612.9,298.1 L613.9,298.9 L614.9,299.7 L616,300.6 L617,301.4 L617.9,302.3 L618.9,303.3 L619.8,304.2 L620.7,305.2 L621.6,306.2 L622.5,307.2 L623.3,308.3 L624.2,309.4 L625,310.5 L625.7,311.6 L620.3,317.3 L621,318.4 L621.6,319.4 L622.3,320.5 L622.9,321.7 L623.6,322.8 L624.2,324 L624.7,325.2 L625.3,326.4 L625.8,327.6 L626.3,328.8 L626.8,330.1 L627.3,331.4 L627.7,332.7 L628.1,334 L628.5,335.3 L628.9,336.7 L629.2,338 L629.5,339.4 L629.8,340.8 L636.1,337 L636.4,338.5 L636.6,340.1 L636.9,341.6 L637.1,343.2 L637.3,344.8 L637.5,346.3 L637.6,347.9 L637.7,349.6 L637.8,351.2 L637.9,352.8 L637.9,354.5 L637.9,356.1 L637.9,357.8 L637.9,359.5 L637.8,361.2 L631.4,363.2 L631.3,364.8 L631.2,366.3 L631.1,367.9 L630.9,369.5 L630.7,371.1 L630.5,372.7 L630.3,374.3 L630,375.9 L629.7,377.6 L629.4,379.2 L629.1,380.8 L628.8,382.4 L628.4,384 L628,385.7 L627.6,387.3 L627.1,388.9 L626.6,390.6 L626.2,392.2 L625.6,393.8 L631.5,394.2 L631,396 L630.4,397.7 L629.7,399.5 L629.1,401.2 L628.4,403 L627.7,404.7 L627,406.5 L626.3,408.2 L625.5,409.9 L624.7,411.6 L623.9,413.3 L623.1,415 L622.2,416.7 L621.3,418.4 L620.4,420.1 L615.3,417.7 L614.5,419.3 L613.6,420.8 L612.7,422.3 L611.8,423.8 L610.9,425.3 L610,426.8 L609,428.3 L608,429.8 L607,431.2 L606,432.7 L605,434.1 L603.9,435.5 L602.9,436.9 L601.8,438.3 L600.7,439.6 L599.6,441 L598.5,442.3 L597.3,443.7 L596.2,445 L599.7,449.5 L598.5,450.9 L597.2,452.2 L595.9,453.6 L594.6,454.9 L593.3,456.2 L592,457.5 L590.7,458.8 L589.3,460 L588,461.3 L586.6,462.5 L585.2,463.6 L583.8,464.8 L582.4,465.9 L581,467 L579.6,468.1 L577.5,462.2 L576.2,463.2 L574.9,464.2 L573.6,465.1 L572.2,466 L570.9,466.9 L569.5,467.8 L568.2,468.6 L566.8,469.4 L565.4,470.2 L564,471 L562.7,471.7 L561.3,472.5 L559.9,473.2 L558.5,473.8 L557.1,474.5 L555.7,475.1 L554.4,475.7 L553,476.2 L551.6,476.8 L551.6,483.8 L550.1,484.4 L548.5,484.9 L547,485.4 L545.5,485.9 L544,486.3 L542.6,486.7 L541.1,487.1 L539.6,487.4 L538.1,487.7 L536.6,488 L535.1,488.2 L533.7,488.5 L532.2,488.6 L530.7,488.8 L529.3,488.9 L530.9,481.5 L529.6,481.6 L528.3,481.6 L526.9,481.7 L525.6,481.7 L524.3,481.7 L523,481.6 L521.7,481.5 L520.4,481.4 L519.2,481.3 L517.9,481.1 L516.6,480.9 L515.4,480.7 L514.2,480.4 L512.9,480.2 L511.7,479.9 L510.5,479.5 L509.4,479.2 L508.2,478.8 L507,478.4 L505.9,477.9 L502.2,485.1 L501,484.6 L499.8,484 L498.6,483.5 L497.4,482.9 L496.3,482.2 L495.1,481.6 L494,480.9 L492.9,480.2 L491.8,479.5 L490.7,478.7 L489.7,477.9 L488.7,477.1 L487.6,476.2 L486.6,475.4 L485.7,474.5 L490.6,468.1 L489.7,467.2 L488.8,466.3 L488,465.4 L487.2,464.5 L486.4,463.6 L485.6,462.6 L484.8,461.6 L484.1,460.6 L483.3,459.5 L482.6,458.4 L482,457.4 L481.3,456.3 L480.7,455.1 L480,454 L474.3,459.2 L473.7,458 L473,456.7 L472.4,455.4 L471.9,454.1 L471.3,452.7 L470.8,451.4 L470.3,450 L469.8,448.6 L469.4,447.2 L469,445.7 L468.6,444.3 L468.2,442.8 L467.8,441.3 L467.5,439.8 L467.2,438.3 L473.5,434.6 L473.2,433.2 L473,431.7 L472.8,430.3 L472.6,428.8 L472.5,427.3 L472.4,425.9 L472.2,424.4 L472.2,422.9 L472.1,421.3 L472.1,419.8 L472.1,418.3 L472.1,416.7 L472.1,415.2 L472.2,413.6 L472.3,412 L472.4,410.5 L466,412.2 L466.2,410.5 L466.4,408.8 L466.6,407.1 L466.8,405.3 L467,403.6 L467.3,401.9 L467.6,400.1 L468,398.4 L468.3,396.6 L468.7,394.9 L469.1,393.1 L469.5,391.3 L470,389.6 L470.5,387.8 L471,386.1 L477,386.2 L477.4,384.6 L478,383 L478.5,381.4 L479.1,379.7 L479.6,378.1 L480.2,376.5 L480.9,374.9 L481.5,373.3 L482.2,371.7 L482.9,370.1 L483.6,368.5 L484.3,366.9 L485.1,365.3 L485.8,363.7 L486.6,362.2 L487.4,360.6 L488.3,359.1 L489.1,357.5 L490,356 L490.9,354.5 L491.8,353 L492.7,351.5 L488,348.5 L489,346.9 L490,345.3 L491.1,343.7 L492.2,342.2 L493.3,340.6 L494.4,339.1 L495.5,337.5 L496.6,336 L497.8,334.5 L499,333.1 L500.2,331.6 L501.4,330.2 L502.6,328.7 L503.9,327.3 L505.1,325.9 L508.6,330.6 L509.7,329.3 L510.9,328 L512.1,326.8 L513.3,325.6 L514.6,324.4 L515.8,323.2 L517.1,322.1 L518.3,320.9 L519.6,319.8 L520.9,318.7 L522.1,317.7 L523.4,316.6 L524.7,315.6 L526.1,314.6 L527.4,313.6 L528.7,312.6 L530,311.7 L531.4,310.8 L532.7,309.9 L534.1,309 L535.4,308.2 L536.8,307.4 L538.2,306.6 L539.6,305.8 L540.9,305.1 L542.3,304.3 L543.7,303.6 L543,296.9 L544.5,296.1 L546,295.5 L547.5,294.8 L549,294.2 L550.5,293.5 L552,293 L553.5,292.4 L555.1,291.9 L556.6,291.4 L558.1,290.9 L559.6,290.5 L561,290.1 L562.5,289.7 L564,289.4 L565.5,289.1 L564.5,296.5 L565.9,296.2 L567.2,296 L568.6,295.8 L570,295.6 L571.3,295.4 L572.7,295.3 L574,295.2 L575.3,295.2 L576.7,295.1 L578,295.1 L579.3,295.1 L580.6,295.2 L581.9,295.3 L583.2,295.4 L584.4,295.5 L585.7,295.7 L587,295.9 L589.8,288.5 L591.1,288.7 L592.4,289 L593.8,289.3 L595.1,289.6 L596.4,290 L597.6,290.4 L598.9,290.8 L600.2,291.2 L601.4,291.7 L602.6,292.2 L603.8,292.8 L605,293.3 L606.2,293.9 L607.3,294.6 L608.5,295.2 L604.3,302.1 L605.3,302.7Z" stroke="#000" stroke-width="1.5" fill="#fff" stroke-linejoin="round" stroke-linecap="round"/>
<path d="M651.1,329 L654,331 L656.8,333.2 L659.3,335.6 L661.8,338.2 L664,341 L666.1,344 L668,347.2 L669.7,350.6 L671.3,354.1 L672.6,357.8 L673.7,361.6 L674.6,365.6 L675.4,369.7 L675.9,373.9 L676.2,378.2 L676.3,382.6 L676.2,387.1 L675.8,391.6 L675.3,396.2 L674.6,400.9 L673.6,405.6 L672.5,410.2 L671.1,414.9 L669.6,419.6 L667.8,424.3 L665.9,428.9 L663.8,433.5 L661.5,438 L659.1,442.4 L656.5,446.8 L653.7,451 L650.8,455.2 L647.7,459.2 L644.5,463.1 L641.2,466.8 L637.8,470.5 L634.3,473.9 L630.6,477.2 L626.9,480.2 L623.2,483.1 L619.3,485.8 L615.4,488.3 L611.5,490.6 L607.5,492.7 L603.5,494.5 L599.5,496.2 L595.5,497.5 L591.5,498.7 L587.5,499.6 L583.6,500.3 L579.7,500.7 L575.8,500.9 L572.1,500.8 L568.4,500.5 L564.7,499.9 L561.2,499.1 L557.8,498.1 L554.5,496.8 L551.3,495.3 L548.3,493.6 L545.4,491.6 L542.6,489.4 L540.1,487 L537.6,484.4 L535.4,481.6 L533.3,478.6 L531.4,475.4 L529.7,472 L528.1,468.5 L526.8,464.8 L525.7,461 L524.8,457 L524,452.9 L523.5,448.7 L523.2,444.4 L523.1,440 L523.2,435.5 L523.6,431 L524.1,426.4 L524.8,421.7 L525.8,417 L526.9,412.4 L528.3,407.7 L529.8,403 L531.6,398.3 L533.5,393.7 L535.6,389.1 L537.9,384.6 L540.3,380.2 L542.9,375.8 L545.7,371.6 L548.6,367.4 L551.7,363.4 L554.9,359.5 L558.2,355.8 L561.6,352.1 L565.1,348.7 L568.8,345.4 L572.5,342.4 L576.2,339.5 L580.1,336.8 L584,334.3 L587.9,332 L591.9,329.9 L595.9,328.1 L599.9,326.4 L603.9,325.1 L607.9,323.9 L611.9,323 L615.8,322.3 L619.7,321.9 L623.6,321.7 L627.3,321.8 L631,322.1 L634.7,322.7 L638.2,323.5 L641.6,324.5 L644.9,325.8 L648.1,327.3 L651.1,329Z M637.8,364.1 L636.3,363.2 L638.9,353.2 L635,351.8 L628.4,360.3 L626.6,360 L624.8,359.8 L625,350.2 L620.5,350.3 L615.8,360 L613.8,360.3 L611.8,360.8 L609.6,352.4 L604.8,354.1 L602.3,364.1 L600.3,365.1 L598.3,366.2 L593.9,359.7 L589.3,362.8 L589.2,372.4 L587.3,373.9 L585.4,375.5 L579.1,371.5 L575.1,375.8 L577.4,384 L575.8,386 L574.2,388.1 L566.6,386.8 L563.4,391.9 L567.9,398.2 L566.7,400.5 L565.6,402.8 L557.2,404.4 L555.1,409.9 L561.5,413.8 L560.9,416.2 L560.3,418.6 L551.8,422.8 L551,428.3 L558.7,429.5 L558.6,431.7 L558.6,434 L550.7,440.7 L551.3,445.7 L559.8,443.9 L560.3,445.9 L560.8,447.9 L554.2,456.4 L556.1,460.5 L564.6,456.1 L565.6,457.6 L566.7,459.1 L561.9,468.8 L564.9,471.7 L572.7,464.9 L574.2,465.9 L575.7,466.8 L573.1,476.8 L577,478.2 L583.6,469.7 L585.4,470 L587.2,470.2 L587,479.8 L591.5,479.7 L596.2,470 L598.2,469.7 L600.2,469.2 L602.4,477.6 L607.2,475.9 L609.7,465.9 L611.7,464.9 L613.7,463.8 L618.1,470.3 L622.7,467.2 L622.8,457.6 L624.7,456.1 L626.6,454.5 L632.9,458.5 L636.9,454.2 L634.6,446 L636.2,444 L637.8,441.9 L645.4,443.2 L648.6,438.1 L644.1,431.8 L645.3,429.5 L646.4,427.2 L654.8,425.6 L656.9,420.1 L650.5,416.2 L651.1,413.8 L651.7,411.4 L660.2,407.2 L661,401.7 L653.3,400.5 L653.4,398.3 L653.4,396 L661.3,389.3 L660.7,384.3 L652.2,386.1 L651.7,384.1 L651.2,382.1 L657.8,373.6 L655.9,369.5 L647.4,373.9 L646.4,372.4 L645.3,370.9 L650.1,361.2 L647.1,358.3 L639.3,365.1 L637.8,364.1Z" fill="#fff" fill-rule="evenodd" stroke="#000" stroke-width="1.5" stroke-linejoin="round"/>
<path d="M585.5,499 L581.7,499.4 L577.9,499.6 L574.3,499.5 L570.7,499.2 L567.1,498.7 L563.7,497.9 L560.4,496.9 L557.2,495.6 L554.1,494.1 L551.1,492.4 L548.3,490.5 L545.6,488.4 L543.1,486 L540.7,483.5 L538.5,480.8 L536.5,477.8 L534.6,474.7 L533,471.5 L531.5,468 L530.2,464.4 L529.1,460.7 L528.2,456.8 L527.5,452.8 L527,448.7 L526.7,444.5 L526.6,440.2 L526.7,435.9 L527,431.5 L527.5,427 L528.3,422.4 L529.2,417.9 L530.3,413.3 L531.6,408.8 L533.1,404.2 L534.8,399.7 L536.7,395.2 L538.7,390.7 L541,386.3 L543.4,382 L545.9,377.7 L548.6,373.6 L551.4,369.6 L554.4,365.6 L557.5,361.8 L560.7,358.2 L564.1,354.7 L567.5,351.3 L571.1,348.1 L574.7,345.1 L578.4,342.3" stroke="#000" stroke-width="1.0" fill="none" stroke-linejoin="round" stroke-linecap="round"/>
<path d="M636.2,401.6 L638.8,399.2 L641.4,397 L644.2,394.8 L646.9,392.8 L649.7,391 L652.6,389.3 L655.4,387.7 L658.3,386.4 L661.2,385.1 L664.1,384.1 L667,383.2 L669.8,382.5 L672.7,381.9 L675.5,381.6 L678.3,381.4 L681,381.4 L683.7,381.5 L686.4,381.9 L688.9,382.4 L691.4,383.1 L693.8,384 L696.1,385 L698.4,386.2 L700.5,387.6 L702.5,389.1 L704.4,390.8 L706.2,392.6 L707.9,394.6 L709.4,396.7 L710.9,399 L712.2,401.4 L713.3,403.9 L714.3,406.5 L715.2,409.2 L715.9,412.1" stroke="#000" stroke-width="1.4" fill="none" stroke-linejoin="round" stroke-linecap="round"/>
<path d="M708.1,356.8 L709.2,357.5 L710.2,358.2 L711.2,358.9 L712.2,359.7 L713.2,360.5 L714.2,361.3 L715.1,362.1 L716,363 L717,363.8 L722.1,357.3 L723,358.3 L724,359.3 L724.9,360.4 L725.8,361.4 L726.7,362.5 L727.5,363.6 L728.3,364.8 L729.1,365.9 L729.9,367.1 L730.7,368.3 L731.4,369.5 L732.1,370.8 L732.8,372.1 L726.9,377.5 L727.5,378.7 L728.1,379.9 L728.7,381.1 L729.2,382.4 L729.7,383.7 L730.2,385 L730.7,386.3 L731.2,387.6 L731.6,389 L732,390.4 L732.4,391.7 L732.7,393.1 L733.1,394.6 L733.4,396 L733.6,397.4 L733.9,398.9 L734.1,400.4 L734.3,401.9 L734.5,403.4 L734.7,404.9 L741.2,401.7 L741.4,403.3 L741.5,405 L741.6,406.7 L741.6,408.4 L741.7,410.1 L741.7,411.8 L741.7,413.5 L741.6,415.2 L741.5,417 L741.4,418.7 L741.3,420.5 L741.2,422.2 L741,424 L734.5,425.6 L734.3,427.2 L734.1,428.9 L733.8,430.5 L733.5,432.2 L733.3,433.8 L732.9,435.5 L732.6,437.2 L732.2,438.8 L731.9,440.5 L731.4,442.2 L731,443.9 L730.6,445.5 L730.1,447.2 L729.6,448.9 L729,450.6 L728.5,452.2 L727.9,453.9 L727.3,455.6 L726.7,457.2 L726,458.9 L731.9,460 L731.2,461.8 L730.4,463.6 L729.7,465.4 L728.9,467.1 L728.1,468.9 L727.2,470.7 L726.4,472.4 L725.5,474.2 L724.6,475.9 L723.7,477.6 L722.7,479.3 L721.7,481 L720.8,482.7 L715.7,479.9 L714.8,481.5 L713.9,483 L712.9,484.6 L711.9,486.1 L710.9,487.6 L709.9,489.1 L708.8,490.6 L707.8,492 L706.7,493.5 L705.6,494.9 L704.5,496.4 L703.4,497.8 L702.2,499.2 L701.1,500.5 L699.9,501.9 L698.7,503.2 L697.5,504.6 L696.3,505.9 L695.1,507.2 L693.8,508.4 L697.1,513.5 L695.8,514.8 L694.4,516.2 L693,517.5 L691.6,518.8 L690.2,520 L688.8,521.3 L687.4,522.5 L686,523.7 L684.5,524.8 L683.1,526 L681.6,527.1 L680.2,528.2 L678.7,529.3 L676.8,523 L675.4,524 L674,524.9 L672.6,525.8 L671.2,526.7 L669.8,527.6 L668.4,528.4 L667,529.3 L665.6,530.1 L664.2,530.8 L662.8,531.6 L661.3,532.3 L659.9,533 L658.5,533.6 L657.1,534.3 L655.6,534.9 L654.2,535.4 L652.8,536 L651.3,536.5 L649.9,537 L648.5,537.5 L648.1,544.9 L646.6,545.3 L645,545.8 L643.5,546.2 L641.9,546.6 L640.4,546.9 L638.9,547.3 L637.4,547.5 L635.8,547.8 L634.3,548 L632.8,548.2 L631.3,548.4 L629.8,548.5 L628.3,548.6 L630.1,540.9 L628.8,541 L627.4,541 L626,541 L624.7,541 L623.4,541 L622,540.9 L620.7,540.8 L619.4,540.6 L618.1,540.5 L616.8,540.3 L615.5,540 L614.2,539.8 L613,539.5 L611.7,539.2 L610.5,538.8 L609.3,538.5 L608.1,538.1 L606.9,537.6 L605.7,537.2 L604.6,536.7 L600.7,544 L599.4,543.5 L598.2,542.9 L597,542.3 L595.8,541.6 L594.6,541 L593.5,540.3 L592.3,539.5 L591.2,538.8 L590.1,538 L589,537.2 L588,536.3 L586.9,535.4 L585.9,534.5 L590.9,527.9 L590,527 L589,526.2 L588.2,525.3 L587.3,524.3 L586.4,523.4 L585.6,522.4 L584.8,521.4 L584,520.3 L583.2,519.3 L582.5,518.2 L581.8,517.1 L581.1,516 L580.4,514.9 L579.7,513.7 L579.1,512.5 L578.5,511.3 L577.9,510.1 L577.3,508.9 L576.8,507.6 L576.3,506.3 L570.1,511.2 L569.6,509.8 L569.1,508.4 L568.6,507 L568.1,505.5 L567.7,504 L567.3,502.5 L566.9,501 L566.5,499.5 L566.2,497.9 L565.9,496.4 L565.6,494.8 L565.4,493.2 L565.2,491.6 L571.7,488.1 L571.5,486.6 L571.3,485.1 L571.2,483.6 L571.1,482 L571,480.5 L570.9,478.9 L570.9,477.3 L570.9,475.8 L570.9,474.2 L571,472.6 L571,471 L571.1,469.3 L571.2,467.7 L571.4,466.1 L571.5,464.4 L571.7,462.8 L571.9,461.1 L572.2,459.5 L572.5,457.8 L572.7,456.2 L566.3,457.1 L566.7,455.3 L567,453.5 L567.4,451.7 L567.8,449.8 L568.3,448 L568.7,446.2 L569.2,444.4 L569.8,442.6 L570.3,440.8 L570.9,439 L571.5,437.2 L572.1,435.4 L572.7,433.6 L578.7,434.4 L579.3,432.8 L580,431.1 L580.6,429.4 L581.3,427.8 L582,426.1 L582.7,424.5 L583.5,422.9 L584.3,421.2 L585.1,419.6 L585.9,418 L586.7,416.4 L587.6,414.8 L588.4,413.2 L589.3,411.6 L590.3,410.1 L591.2,408.5 L592.1,407 L593.1,405.4 L594.1,403.9 L595.1,402.4 L590.5,399 L591.6,397.4 L592.7,395.8 L593.9,394.2 L595,392.6 L596.2,391.1 L597.4,389.5 L598.6,388 L599.8,386.5 L601.1,385 L602.3,383.6 L603.6,382.1 L604.9,380.7 L606.2,379.3 L609.7,384.1 L610.9,382.8 L612.2,381.6 L613.4,380.3 L614.7,379.1 L615.9,377.9 L617.2,376.7 L618.5,375.5 L619.8,374.4 L621.1,373.3 L622.5,372.2 L623.8,371.1 L625.1,370 L626.5,369 L627.9,368 L629.2,367 L630.6,366 L632,365.1 L633.4,364.2 L634.8,363.3 L636.2,362.4 L634.8,355.8 L636.3,354.9 L637.9,354 L639.4,353.1 L640.9,352.3 L642.4,351.5 L644,350.7 L645.5,350 L647.1,349.3 L648.6,348.6 L650.2,348 L651.7,347.3 L653.3,346.7 L654.8,346.2 L654.7,353.5 L656.1,353 L657.5,352.5 L659,352.1 L660.4,351.7 L661.8,351.3 L663.2,350.9 L664.7,350.6 L666.1,350.3 L667.5,350.1 L668.9,349.8 L670.3,349.6 L671.7,349.4 L673.1,349.3 L674.5,349.2 L675.9,349.1 L677.2,349 L678.6,349 L680,349 L681.3,349 L682.6,349 L685,341.4 L686.5,341.4 L687.9,341.6 L689.3,341.7 L690.7,341.9 L692.1,342.1 L693.5,342.4 L694.9,342.6 L696.2,343 L697.6,343.3 L698.9,343.7 L700.2,344.1 L701.5,344.5 L702.8,345 L699.1,352.4 L700.3,352.8 L701.4,353.3 L702.6,353.8 L703.7,354.4 L704.9,354.9 L706,355.5 L707,356.2 L708.1,356.8Z M696.5,379.8 L693.9,378.3 L691.1,376.9 L688.3,375.8 L685.3,374.9 L682.3,374.2 L679.1,373.8 L675.9,373.5 L672.7,373.4 L669.3,373.6 L666,374 L662.6,374.5 L659.1,375.3 L655.7,376.3 L652.2,377.5 L648.7,378.9 L645.3,380.5 L641.8,382.3 L638.4,384.3 L635,386.4 L631.7,388.8 L628.4,391.3 L625.2,394 L622.1,396.8 L619,399.8 L616,402.9 L613.2,406.1 L610.4,409.5 L607.8,413 L605.2,416.6 L602.8,420.3 L600.6,424.1 L598.5,427.9 L596.5,431.8 L594.7,435.8 L593,439.8 L591.5,443.8 L590.2,447.9 L589,451.9 L588,456 L587.2,460 L586.5,464 L586.1,468 L585.8,472 L585.7,475.8 L585.8,479.7 L586,483.4 L586.5,487 L587.1,490.6 L587.9,494 L588.9,497.3 L590,500.5 L591.3,503.6 L592.8,506.5 L594.5,509.3 L596.3,511.9 L598.2,514.3 L600.3,516.6 L602.6,518.6 L605,520.5 L607.5,522.2 L610.1,523.7 L612.9,525.1 L615.7,526.2 L618.7,527.1 L621.7,527.8 L624.9,528.2 L628.1,528.5 L631.3,528.6 L634.7,528.4 L638,528 L641.4,527.5 L644.9,526.7 L648.3,525.7 L651.8,524.5 L655.3,523.1 L658.7,521.5 L662.2,519.7 L665.6,517.7 L669,515.6 L672.3,513.2 L675.6,510.7 L678.8,508 L681.9,505.2 L685,502.2 L688,499.1 L690.8,495.9 L693.6,492.5 L696.2,489 L698.8,485.4 L701.2,481.7 L703.4,477.9 L705.5,474.1 L707.5,470.2 L709.3,466.2 L711,462.2 L712.5,458.2 L713.8,454.1 L715,450.1 L716,446 L716.8,442 L717.5,438 L717.9,434 L718.2,430 L718.3,426.2 L718.2,422.3 L718,418.6 L717.5,415 L716.9,411.4 L716.1,408 L715.1,404.7 L714,401.5 L712.7,398.4 L711.2,395.5 L709.5,392.7 L707.7,390.1 L705.8,387.7 L703.7,385.4 L701.4,383.4 L699,381.5 L696.5,379.8Z" fill="#fff" fill-rule="evenodd" stroke="#000" stroke-width="1.7" stroke-linejoin="round"/>
<ellipse cx="653" cy="445" rx="100" ry="69" transform="rotate(-58 653 445)" stroke="#000" stroke-width="1.0" fill="none" stroke-linejoin="round" stroke-linecap="round"/>
<path d="M705,364.8 L707.6,366.7 L710.1,368.8 L712.5,371.1 L705.4,382.8 L703.3,380.7 L701.1,378.8 L698.7,377.1Z" stroke="#000" stroke-width="1.15" fill="none" stroke-linejoin="round" stroke-linecap="round"/>
<path d="M714.6,373.5 L716.7,376.2 L718.7,379 L720.4,382 L712.5,392.5 L710.9,389.8 L709.2,387.3 L707.3,384.9Z" stroke="#000" stroke-width="1.15" fill="none" stroke-linejoin="round" stroke-linecap="round"/>
<path d="M722,385 L723.4,388.3 L724.7,391.7 L725.7,395.3 L717.2,404.3 L716.3,401.1 L715.1,398 L713.9,395.1Z" stroke="#000" stroke-width="1.15" fill="none" stroke-linejoin="round" stroke-linecap="round"/>
<path d="M726.6,398.8 L727.4,402.6 L727.9,406.5 L728.3,410.5 L719.5,417.8 L719.2,414.3 L718.7,410.8 L718,407.4Z" stroke="#000" stroke-width="1.15" fill="none" stroke-linejoin="round" stroke-linecap="round"/>
<path d="M728.4,414.3 L728.4,418.5 L728.3,422.7 L727.9,427 L719.1,432.5 L719.5,428.7 L719.6,425 L719.6,421.3Z" stroke="#000" stroke-width="1.15" fill="none" stroke-linejoin="round" stroke-linecap="round"/>
<path d="M727.4,431.1 L726.6,435.4 L725.7,439.8 L724.6,444.2 L716.3,447.9 L717.2,444 L718,440.1 L718.7,436.2Z" stroke="#000" stroke-width="1.15" fill="none" stroke-linejoin="round" stroke-linecap="round"/>
<path d="M723.5,448.3 L722,452.7 L720.4,457.1 L718.6,461.4 L710.9,463.2 L712.5,459.4 L713.9,455.5 L715.2,451.6Z" stroke="#000" stroke-width="1.15" fill="none" stroke-linejoin="round" stroke-linecap="round"/>
<path d="M716.8,465.5 L714.7,469.7 L712.5,473.9 L710.1,478 L703.3,478 L705.4,474.4 L707.4,470.6 L709.3,466.9Z" stroke="#000" stroke-width="1.15" fill="none" stroke-linejoin="round" stroke-linecap="round"/>
<path d="M707.7,481.9 L705.1,485.8 L702.3,489.6 L699.4,493.4 L693.8,491.7 L696.3,488.4 L698.8,485 L701.2,481.4Z" stroke="#000" stroke-width="1.15" fill="none" stroke-linejoin="round" stroke-linecap="round"/>
<path d="M696.5,496.8 L693.4,500.3 L690.2,503.6 L686.9,506.9 L682.6,503.7 L685.6,500.9 L688.4,497.9 L691.2,494.8Z" stroke="#000" stroke-width="1.15" fill="none" stroke-linejoin="round" stroke-linecap="round"/>
<path d="M683.7,509.8 L680.2,512.7 L676.7,515.4 L673.1,518 L670.3,513.6 L673.5,511.3 L676.7,508.9 L679.7,506.3Z" stroke="#000" stroke-width="1.15" fill="none" stroke-linejoin="round" stroke-linecap="round"/>
<path d="M669.6,520.2 L666,522.4 L662.2,524.4 L658.5,526.3 L657.3,521 L660.6,519.4 L663.9,517.6 L667.2,515.6Z" stroke="#000" stroke-width="1.15" fill="none" stroke-linejoin="round" stroke-linecap="round"/>
<path d="M655,527.8 L651.2,529.2 L647.5,530.4 L643.7,531.4 L644.1,525.6 L647.5,524.7 L650.8,523.7 L654.1,522.4Z" stroke="#000" stroke-width="1.15" fill="none" stroke-linejoin="round" stroke-linecap="round"/>
<path d="M640.2,532.2 L636.5,532.8 L632.9,533.1 L629.3,533.3 L631.3,527.3 L634.5,527.1 L637.7,526.8 L641,526.3Z" stroke="#000" stroke-width="1.15" fill="none" stroke-linejoin="round" stroke-linecap="round"/>
<path d="M625.9,533.2 L622.5,532.9 L619.1,532.5 L615.8,531.7 L619.2,525.9 L622.2,526.5 L625.2,527 L628.3,527.2Z" stroke="#000" stroke-width="1.15" fill="none" stroke-linejoin="round" stroke-linecap="round"/>
<path d="M612.7,530.9 L609.6,529.8 L606.6,528.4 L603.7,526.9 L608.4,521.6 L611,522.9 L613.7,524.1 L616.5,525.1Z" stroke="#000" stroke-width="1.15" fill="none" stroke-linejoin="round" stroke-linecap="round"/>
<path d="M601,525.2 L598.4,523.3 L595.9,521.2 L593.5,518.9 L599.4,514.4 L601.5,516.5 L603.7,518.4 L606.1,520.1Z" stroke="#000" stroke-width="1.15" fill="none" stroke-linejoin="round" stroke-linecap="round"/>
<path d="M591.4,516.5 L589.3,513.8 L587.3,511 L585.6,508 L592.3,504.7 L593.9,507.4 L595.6,509.9 L597.5,512.3Z" stroke="#000" stroke-width="1.15" fill="none" stroke-linejoin="round" stroke-linecap="round"/>
<path d="M584,505 L582.6,501.7 L581.3,498.3 L580.3,494.7 L587.6,492.9 L588.5,496.1 L589.7,499.2 L590.9,502.1Z" stroke="#000" stroke-width="1.15" fill="none" stroke-linejoin="round" stroke-linecap="round"/>
<path d="M579.4,491.2 L578.6,487.4 L578.1,483.5 L577.7,479.5 L585.3,479.4 L585.6,482.9 L586.1,486.4 L586.8,489.8Z" stroke="#000" stroke-width="1.15" fill="none" stroke-linejoin="round" stroke-linecap="round"/>
<path d="M577.6,475.7 L577.6,471.5 L577.7,467.3 L578.1,463 L585.7,464.7 L585.3,468.5 L585.2,472.2 L585.2,475.9Z" stroke="#000" stroke-width="1.15" fill="none" stroke-linejoin="round" stroke-linecap="round"/>
<path d="M578.6,458.9 L579.4,454.6 L580.3,450.2 L581.4,445.8 L588.5,449.3 L587.6,453.2 L586.8,457.1 L586.1,461Z" stroke="#000" stroke-width="1.15" fill="none" stroke-linejoin="round" stroke-linecap="round"/>
<path d="M582.5,441.7 L584,437.3 L585.6,432.9 L587.4,428.6 L593.9,434 L592.3,437.8 L590.9,441.7 L589.6,445.6Z" stroke="#000" stroke-width="1.15" fill="none" stroke-linejoin="round" stroke-linecap="round"/>
<path d="M589.2,424.5 L591.3,420.3 L593.5,416.1 L595.9,412 L601.5,419.2 L599.4,422.8 L597.4,426.6 L595.5,430.3Z" stroke="#000" stroke-width="1.15" fill="none" stroke-linejoin="round" stroke-linecap="round"/>
<path d="M598.3,408.1 L600.9,404.2 L603.7,400.4 L606.6,396.6 L611,405.5 L608.5,408.8 L606,412.2 L603.6,415.8Z" stroke="#000" stroke-width="1.15" fill="none" stroke-linejoin="round" stroke-linecap="round"/>
<path d="M609.5,393.2 L612.6,389.7 L615.8,386.4 L619.1,383.1 L622.2,393.5 L619.2,396.3 L616.4,399.3 L613.6,402.4Z" stroke="#000" stroke-width="1.15" fill="none" stroke-linejoin="round" stroke-linecap="round"/>
<path d="M622.3,380.2 L625.8,377.3 L629.3,374.6 L632.9,372 L634.5,383.6 L631.3,385.9 L628.1,388.3 L625.1,390.9Z" stroke="#000" stroke-width="1.15" fill="none" stroke-linejoin="round" stroke-linecap="round"/>
<path d="M636.4,369.8 L640,367.6 L643.8,365.6 L647.5,363.7 L647.5,376.2 L644.2,377.8 L640.9,379.6 L637.6,381.6Z" stroke="#000" stroke-width="1.15" fill="none" stroke-linejoin="round" stroke-linecap="round"/>
<path d="M651,362.2 L654.8,360.8 L658.5,359.6 L662.3,358.6 L660.7,371.6 L657.3,372.5 L654,373.5 L650.7,374.8Z" stroke="#000" stroke-width="1.15" fill="none" stroke-linejoin="round" stroke-linecap="round"/>
<path d="M665.8,357.8 L669.5,357.2 L673.1,356.9 L676.7,356.7 L673.5,369.9 L670.3,370.1 L667.1,370.4 L663.8,370.9Z" stroke="#000" stroke-width="1.15" fill="none" stroke-linejoin="round" stroke-linecap="round"/>
<path d="M680.1,356.8 L683.5,357.1 L686.9,357.5 L690.2,358.3 L685.6,371.3 L682.6,370.7 L679.6,370.2 L676.5,370Z" stroke="#000" stroke-width="1.15" fill="none" stroke-linejoin="round" stroke-linecap="round"/>
<path d="M693.3,359.1 L696.4,360.2 L699.4,361.6 L702.3,363.1 L696.4,375.6 L693.8,374.3 L691.1,373.1 L688.3,372.1Z" stroke="#000" stroke-width="1.15" fill="none" stroke-linejoin="round" stroke-linecap="round"/>
<ellipse cx="611" cy="113.3" rx="97.3" ry="64.8" transform="rotate(-55.1 611 113.3)" stroke="#000" stroke-width="1.6" fill="#fff" stroke-linejoin="round" stroke-linecap="round"/>
<ellipse cx="616" cy="114.8" rx="96.5" ry="64" transform="rotate(-55.1 616 114.8)" stroke="#000" stroke-width="1.6" fill="#fff" stroke-linejoin="round" stroke-linecap="round"/>
<path d="M655.7,59 L657.7,60.7 L659.5,62.6 L665.8,57.8 L668,61.1 L663.3,68.1 L664.5,70.6 L665.6,73.3 L672,70.2 L673.1,74.5 L667.4,80.5 L667.8,83.7 L668.1,87 L674.3,85.7 L674.1,90.9 L667.8,95.5 L667.4,99.1 L666.7,102.7 L672.3,103.4 L670.9,109 L664.4,111.9 L663.2,115.7 L661.8,119.5 L666.2,122.1 L663.7,127.6 L657.5,128.7 L655.6,132.4 L653.4,136 L656.6,140.4 L653,145.6 L647.6,144.7 L645,148.1 L642.3,151.3 L643.9,157.1 L639.6,161.6 L635.2,158.8 L632.2,161.6 L629.1,164.3 L629,171.1 L624.3,174.6 L621.4,170.1 L618.1,172.2 L614.9,174.1 L613.1,181.4 L608.3,183.7 L606.9,177.8 L603.6,179 L600.4,179.9 L597.1,187.4 L592.5,188.3 L592.8,181.4 L589.8,181.6 L586.8,181.5 L582.2,188.6 L578.1,188 L580,180.6 L577.5,179.8 L575,178.8 L569.3,184.9 L566,182.9 L569.5,175.4 L567.5,173.7 L565.7,171.8 L559.4,176.6 L557.2,173.3 L561.9,166.3 L560.7,163.8 L559.6,161.1 L553.2,164.2 L552.1,159.9 L557.8,153.9 L557.4,150.7 L557.1,147.4 L550.9,148.7 L551.1,143.5 L557.4,138.9 L557.8,135.3 L558.5,131.7 L552.9,131 L554.3,125.4 L560.8,122.5 L562,118.7 L563.4,114.9 L559,112.3 L561.5,106.8 L567.7,105.7 L569.6,102 L571.8,98.4 L568.6,94 L572.2,88.8 L577.6,89.7 L580.2,86.3 L582.9,83.1 L581.3,77.3 L585.6,72.8 L590,75.6 L593,72.8 L596.1,70.1 L596.2,63.3 L600.9,59.8 L603.8,64.3 L607.1,62.2 L610.3,60.3 L612.1,53 L616.9,50.7 L618.3,56.6 L621.6,55.4 L624.8,54.5 L628.1,47 L632.7,46.1 L632.4,53 L635.4,52.8 L638.4,52.9 L643,45.8 L647.1,46.4 L645.2,53.8 L647.7,54.6 L650.2,55.6 L655.9,49.5 L659.2,51.5Z" stroke="#000" stroke-width="1.4" fill="#fff" stroke-linejoin="round" stroke-linecap="round"/>
<path d="M642.7,153.3 L640.2,155.9 L637.7,158.5 L635.1,160.9 L632.5,163.3 L629.8,165.5 L627.1,167.5 L624.4,169.5 L621.6,171.3 L618.8,172.9 L616,174.5 L613.2,175.8 L610.4,177 L607.6,178 L604.9,178.9 L602.2,179.6 L599.5,180.1 L596.8,180.5 L594.2,180.7 L591.7,180.7 L589.2,180.6 L586.8,180.2 L584.5,179.7 L582.3,179.1 L580.2,178.3 L578.1,177.3 L576.2,176.1 L574.4,174.8 L572.7,173.3 L571.1,171.7 L569.6,169.9 L568.3,168 L567.1,166 L566,163.8 L565.1,161.5 L564.3,159.1 L563.7,156.6 L563.2,153.9 L562.8,151.2 L562.6,148.4 L562.6,145.5 L562.7,142.5 L562.9,139.5 L563.3,136.4 L563.8,133.3 L564.5,130.1 L565.3,126.9 L566.3,123.6 L567.4,120.4 L568.6,117.1 L570,113.9 L571.4,110.7 L573.1,107.5 L574.8,104.3 L576.6,101.1 L578.6,98.1 L580.6,95 L582.8,92.1 L585,89.2 L587.4,86.4 L589.8,83.7 L592.3,81.1 L594.8,78.6 L597.4,76.2 L600.1,74 L602.8,71.8 L605.5,69.8 L608.3,68 L611.1,66.2 L613.9,64.6 L616.7,63.2 L619.4,62 L622.2,60.8 L625,59.9 L627.7,59.1 L630.5,58.5 L633.1,58.1" stroke="#000" stroke-width="1.1" fill="none" stroke-linejoin="round" stroke-linecap="round" stroke-dasharray="14 4"/>
<ellipse cx="620" cy="100" rx="14" ry="11" transform="rotate(-55 620 100)" stroke="#000" stroke-width="1.5" fill="#fff" stroke-linejoin="round" stroke-linecap="round"/>
<path d="M596,86 L600,76 L608,68 L624,60 L638,57" stroke="#000" stroke-width="1.4" fill="none" stroke-linejoin="round" stroke-linecap="round"/>
<path d="M624,77 L628,83 L631,90" stroke="#000" stroke-width="1.2" fill="none" stroke-linejoin="round" stroke-linecap="round"/>
<path d="M587,130 L592,138 L600,143 L606,145" stroke="#000" stroke-width="1.4" fill="none" stroke-linejoin="round" stroke-linecap="round"/>
<path d="M575,112 L571,125 L572,140 L578,152" stroke="#000" stroke-width="1.2" fill="none" stroke-linejoin="round" stroke-linecap="round" stroke-dasharray="6 3"/>
<path d="M628,103 L632,112 L640,118" stroke="#000" stroke-width="1.2" fill="none" stroke-linejoin="round" stroke-linecap="round"/>
<path d="M582,148 L590,160 L596,165" stroke="#000" stroke-width="1.2" fill="none" stroke-linejoin="round" stroke-linecap="round"/>
<path d="M620.6,78.3 L628.8,65.1 L642,64.3 L670,76.3 L675,88.5 L666.8,101.7 L653.6,102.5 L625.6,90.5Z" stroke="#000" stroke-width="1.6" fill="#fff" stroke-linejoin="round" stroke-linecap="round"/>
<path d="M671,78.6 L674.1,86.2 Q675,88.5 673.7,90.6 L668.1,99.5 Q666.8,101.7 664.3,101.8 L656.1,102.4 Q653.6,102.5 652.6,100.2 L649.5,92.6 Q648.6,90.3 649.9,88.2 L655.5,79.3 Q656.8,77.1 659.3,77 L667.5,76.4 Q670,76.3 671,78.6Z" stroke="#000" stroke-width="1.6" fill="#fff" stroke-linejoin="round" stroke-linecap="round"/>
<ellipse cx="662.3" cy="89.9" rx="8.3" ry="6.5" transform="rotate(-62 662.3 89.9)" stroke="#000" stroke-width="1.4" fill="#fff" stroke-linejoin="round" stroke-linecap="round"/>
<path d="M659.4,93.9 L659.2,93.8 L659.1,93.6 L658.9,93.5 L658.8,93.3 L658.7,93.1 L658.6,92.9 L658.5,92.7 L658.4,92.5 L658.3,92.3 L658.2,92 L658.2,91.8 L658.1,91.6 L658.1,91.3 L658.1,91.1 L658.1,90.8 L658.1,90.6 L658.1,90.3 L658.1,90.1 L658.1,89.8 L658.2,89.6 L658.3,89.3 L658.3,89.1 L658.4,88.8 L658.5,88.6 L658.6,88.3 L658.7,88.1 L658.9,87.9 L659,87.6 L659.1,87.4 L659.3,87.2 L659.5,87 L659.6,86.8 L659.8,86.6 L660,86.4 L660.2,86.2 L660.4,86.1 L660.6,85.9 L660.8,85.8 L661,85.7 L661.2,85.6 L661.4,85.5 L661.7,85.4 L661.9,85.3 L662.1,85.2 L662.3,85.2 L662.6,85.1" stroke="#000" stroke-width="1.1" fill="none" stroke-linejoin="round" stroke-linecap="round"/>
<path d="M569.7,106.7 L577.9,93.5 L591.1,92.7 L619.1,104.7 L624.1,116.9 L615.9,130.1 L602.7,130.9 L574.7,118.9Z" stroke="#000" stroke-width="1.6" fill="#fff" stroke-linejoin="round" stroke-linecap="round"/>
<path d="M620.1,107 L623.2,114.6 Q624.1,116.9 622.8,119 L617.2,127.9 Q615.9,130.1 613.4,130.2 L605.2,130.8 Q602.7,130.9 601.7,128.6 L598.6,121 Q597.7,118.7 599,116.6 L604.6,107.7 Q605.9,105.5 608.4,105.4 L616.6,104.8 Q619.1,104.7 620.1,107Z" stroke="#000" stroke-width="1.6" fill="#fff" stroke-linejoin="round" stroke-linecap="round"/>
<ellipse cx="611.4" cy="118.3" rx="8.3" ry="6.5" transform="rotate(-62 611.4 118.3)" stroke="#000" stroke-width="1.4" fill="#fff" stroke-linejoin="round" stroke-linecap="round"/>
<path d="M608.5,122.3 L608.3,122.2 L608.2,122 L608,121.9 L607.9,121.7 L607.8,121.5 L607.7,121.3 L607.6,121.1 L607.5,120.9 L607.4,120.7 L607.3,120.4 L607.3,120.2 L607.2,120 L607.2,119.7 L607.2,119.5 L607.2,119.2 L607.2,119 L607.2,118.7 L607.2,118.5 L607.2,118.2 L607.3,118 L607.4,117.7 L607.4,117.5 L607.5,117.2 L607.6,117 L607.7,116.7 L607.8,116.5 L608,116.3 L608.1,116 L608.2,115.8 L608.4,115.6 L608.6,115.4 L608.7,115.2 L608.9,115 L609.1,114.8 L609.3,114.6 L609.5,114.5 L609.7,114.3 L609.9,114.2 L610.1,114.1 L610.3,114 L610.5,113.9 L610.8,113.8 L611,113.7 L611.2,113.6 L611.4,113.6 L611.7,113.5" stroke="#000" stroke-width="1.1" fill="none" stroke-linejoin="round" stroke-linecap="round"/>
<path d="M617.6,130.7 L625.8,117.5 L639,116.7 L667,128.7 L672,140.9 L663.8,154.1 L650.6,154.9 L622.6,142.9Z" stroke="#000" stroke-width="1.6" fill="#fff" stroke-linejoin="round" stroke-linecap="round"/>
<path d="M668,131 L671.1,138.6 Q672,140.9 670.7,143 L665.1,151.9 Q663.8,154.1 661.3,154.2 L653.1,154.8 Q650.6,154.9 649.6,152.6 L646.5,145 Q645.6,142.7 646.9,140.6 L652.5,131.7 Q653.8,129.5 656.3,129.4 L664.5,128.8 Q667,128.7 668,131Z" stroke="#000" stroke-width="1.6" fill="#fff" stroke-linejoin="round" stroke-linecap="round"/>
<ellipse cx="659.3" cy="142.3" rx="8.3" ry="6.5" transform="rotate(-62 659.3 142.3)" stroke="#000" stroke-width="1.4" fill="#fff" stroke-linejoin="round" stroke-linecap="round"/>
<path d="M656.4,146.3 L656.2,146.2 L656.1,146 L655.9,145.9 L655.8,145.7 L655.7,145.5 L655.6,145.3 L655.5,145.1 L655.4,144.9 L655.3,144.7 L655.2,144.4 L655.2,144.2 L655.1,144 L655.1,143.7 L655.1,143.5 L655.1,143.2 L655.1,143 L655.1,142.7 L655.1,142.5 L655.1,142.2 L655.2,142 L655.3,141.7 L655.3,141.5 L655.4,141.2 L655.5,141 L655.6,140.7 L655.7,140.5 L655.9,140.3 L656,140 L656.1,139.8 L656.3,139.6 L656.5,139.4 L656.6,139.2 L656.8,139 L657,138.8 L657.2,138.6 L657.4,138.5 L657.6,138.3 L657.8,138.2 L658,138.1 L658.2,138 L658.4,137.9 L658.7,137.8 L658.9,137.7 L659.1,137.6 L659.3,137.6 L659.6,137.5" stroke="#000" stroke-width="1.1" fill="none" stroke-linejoin="round" stroke-linecap="round"/>
<path d="M566.7,159.1 L574.9,145.9 L588.1,145.1 L616.1,157.1 L621.1,169.3 L612.9,182.5 L599.7,183.3 L571.7,171.3Z" stroke="#000" stroke-width="1.6" fill="#fff" stroke-linejoin="round" stroke-linecap="round"/>
<path d="M617.1,159.4 L620.2,167 Q621.1,169.3 619.8,171.4 L614.2,180.3 Q612.9,182.5 610.4,182.6 L602.2,183.2 Q599.7,183.3 598.7,181 L595.6,173.4 Q594.7,171.1 596,169 L601.6,160.1 Q602.9,157.9 605.4,157.8 L613.6,157.2 Q616.1,157.1 617.1,159.4Z" stroke="#000" stroke-width="1.6" fill="#fff" stroke-linejoin="round" stroke-linecap="round"/>
<ellipse cx="608.4" cy="170.7" rx="8.3" ry="6.5" transform="rotate(-62 608.4 170.7)" stroke="#000" stroke-width="1.4" fill="#fff" stroke-linejoin="round" stroke-linecap="round"/>
<path d="M605.5,174.7 L605.3,174.6 L605.2,174.4 L605,174.3 L604.9,174.1 L604.8,173.9 L604.7,173.7 L604.6,173.5 L604.5,173.3 L604.4,173.1 L604.3,172.8 L604.3,172.6 L604.2,172.4 L604.2,172.1 L604.2,171.9 L604.2,171.6 L604.2,171.4 L604.2,171.1 L604.2,170.9 L604.2,170.6 L604.3,170.4 L604.4,170.1 L604.4,169.9 L604.5,169.6 L604.6,169.4 L604.7,169.1 L604.8,168.9 L605,168.7 L605.1,168.4 L605.2,168.2 L605.4,168 L605.6,167.8 L605.7,167.6 L605.9,167.4 L606.1,167.2 L606.3,167 L606.5,166.9 L606.7,166.7 L606.9,166.6 L607.1,166.5 L607.3,166.4 L607.5,166.3 L607.8,166.2 L608,166.1 L608.2,166 L608.4,166 L608.7,165.9" stroke="#000" stroke-width="1.1" fill="none" stroke-linejoin="round" stroke-linecap="round"/>
<path d="M657,107.9 L662,107.1 Q663,107 663.5,107.9 L665.5,111.1 Q666,112 665.5,112.9 L663.5,116.1 Q663,117 662,116.9 L657,116.1 Q656,116 656,115 L656,109 Q656,108 657,107.9Z" stroke="#000" stroke-width="1.2" fill="#fff" stroke-linejoin="round" stroke-linecap="round"/>
<path d="M629,155.9 L634,155.1 Q635,155 635.5,155.9 L637.5,159.1 Q638,160 637.5,160.9 L635.5,164.1 Q635,165 634,164.9 L629,164.1 Q628,164 628,163 L628,157 Q628,156 629,155.9Z" stroke="#000" stroke-width="1.2" fill="#fff" stroke-linejoin="round" stroke-linecap="round"/>
<path d="M430.6,76.8 L430.6,76.2 L430.8,75.6 L431,75 L431.3,74.4 L431.7,73.8 L432.1,73.3 L432.6,72.9 L433.1,72.5 L433.6,72.2 L434.2,71.9 L434.7,71.8 L435.3,71.7 L435.9,71.7 L436.5,71.8 L437,71.9 L437.5,72.2 L463.5,87.2 L464,87.5 L464.4,87.9 L464.7,88.3 L465,88.8 L465.2,89.4 L465.4,89.9 L465.4,90.5 L465.4,91.2 L465.4,91.8 L465.2,92.4 L465,93 L464.7,93.6 L464.3,94.2 L463.9,94.7 L463.4,95.1 L462.9,95.5 L462.4,95.8 L461.8,96.1 L461.3,96.2 L460.7,96.3 L460.1,96.3 L459.5,96.2 L459,96.1 L458.5,95.8 L432.5,80.8 L432,80.5 L431.6,80.1 L431.3,79.7 L431,79.2 L430.8,78.6 L430.6,78.1 L430.6,77.5Z" stroke="#000" stroke-width="1.4" fill="#fff" stroke-linejoin="round" stroke-linecap="round"/>
<ellipse cx="461" cy="91.5" rx="5" ry="4.2" transform="rotate(-60 461 91.5)" stroke="#000" stroke-width="1.4" fill="#fff" stroke-linejoin="round" stroke-linecap="round"/>
<path d="M434.5,81.9 L434.3,81.7 L434.2,81.6 L434,81.4 L433.9,81.2 L433.8,81 L433.7,80.8 L433.6,80.6 L433.5,80.4 L433.4,80.2 L433.3,79.9 L433.3,79.7 L433.2,79.5 L433.2,79.2 L433.2,79 L433.2,78.7 L433.2,78.5 L433.2,78.2 L433.2,78 L433.2,77.7 L433.3,77.5 L433.4,77.2 L433.4,77 L433.5,76.7 L433.6,76.5 L433.7,76.2 L433.9,76 L434,75.8 L434.1,75.5 L434.3,75.3 L434.4,75.1 L434.6,74.9 L434.8,74.7 L435,74.5 L435.2,74.4 L435.4,74.2 L435.6,74.1 L435.8,73.9 L436,73.8 L436.2,73.7 L436.4,73.6 L436.7,73.5 L436.9,73.4 L437.1,73.3 L437.4,73.3 L437.6,73.2 L437.8,73.2 L438.1,73.2 L438.3,73.2 L438.5,73.2 L438.8,73.2 L439,73.3 L439.2,73.3 L439.4,73.4" stroke="#000" stroke-width="1.1" fill="none" stroke-linejoin="round" stroke-linecap="round"/>
<path d="M437.1,83.4 L436.9,83.2 L436.8,83.1 L436.6,82.9 L436.5,82.7 L436.4,82.5 L436.3,82.3 L436.2,82.1 L436.1,81.9 L436,81.7 L435.9,81.4 L435.9,81.2 L435.8,81 L435.8,80.7 L435.8,80.5 L435.8,80.2 L435.8,80 L435.8,79.7 L435.8,79.5 L435.8,79.2 L435.9,79 L436,78.7 L436,78.5 L436.1,78.2 L436.2,78 L436.3,77.7 L436.5,77.5 L436.6,77.3 L436.7,77 L436.9,76.8 L437,76.6 L437.2,76.4 L437.4,76.2 L437.6,76 L437.8,75.9 L438,75.7 L438.2,75.6 L438.4,75.4 L438.6,75.3 L438.8,75.2 L439,75.1 L439.3,75 L439.5,74.9 L439.7,74.8 L440,74.8 L440.2,74.7 L440.4,74.7 L440.7,74.7 L440.9,74.7 L441.1,74.7 L441.4,74.7 L441.6,74.8 L441.8,74.8 L442,74.9" stroke="#000" stroke-width="1.1" fill="none" stroke-linejoin="round" stroke-linecap="round"/>
<path d="M439.7,84.9 L439.5,84.7 L439.4,84.6 L439.2,84.4 L439.1,84.2 L439,84 L438.9,83.8 L438.8,83.6 L438.7,83.4 L438.6,83.2 L438.5,82.9 L438.5,82.7 L438.4,82.5 L438.4,82.2 L438.4,82 L438.4,81.7 L438.4,81.5 L438.4,81.2 L438.4,81 L438.4,80.7 L438.5,80.5 L438.6,80.2 L438.6,80 L438.7,79.7 L438.8,79.5 L438.9,79.2 L439.1,79 L439.2,78.8 L439.3,78.5 L439.5,78.3 L439.6,78.1 L439.8,77.9 L440,77.7 L440.2,77.5 L440.4,77.4 L440.6,77.2 L440.8,77.1 L441,76.9 L441.2,76.8 L441.4,76.7 L441.6,76.6 L441.9,76.5 L442.1,76.4 L442.3,76.3 L442.6,76.3 L442.8,76.2 L443,76.2 L443.3,76.2 L443.5,76.2 L443.7,76.2 L444,76.2 L444.2,76.3 L444.4,76.3 L444.6,76.4" stroke="#000" stroke-width="1.1" fill="none" stroke-linejoin="round" stroke-linecap="round"/>
<path d="M442.3,86.4 L442.1,86.2 L442,86.1 L441.8,85.9 L441.7,85.7 L441.6,85.5 L441.5,85.3 L441.4,85.1 L441.3,84.9 L441.2,84.7 L441.1,84.4 L441.1,84.2 L441,84 L441,83.7 L441,83.5 L441,83.2 L441,83 L441,82.7 L441,82.5 L441,82.2 L441.1,82 L441.2,81.7 L441.2,81.5 L441.3,81.2 L441.4,81 L441.5,80.7 L441.7,80.5 L441.8,80.3 L441.9,80 L442.1,79.8 L442.2,79.6 L442.4,79.4 L442.6,79.2 L442.8,79 L443,78.9 L443.2,78.7 L443.4,78.6 L443.6,78.4 L443.8,78.3 L444,78.2 L444.2,78.1 L444.5,78 L444.7,77.9 L444.9,77.8 L445.2,77.8 L445.4,77.7 L445.6,77.7 L445.9,77.7 L446.1,77.7 L446.3,77.7 L446.6,77.7 L446.8,77.8 L447,77.8 L447.2,77.9" stroke="#000" stroke-width="1.1" fill="none" stroke-linejoin="round" stroke-linecap="round"/>
<path d="M444.9,87.9 L444.7,87.7 L444.6,87.6 L444.4,87.4 L444.3,87.2 L444.2,87 L444.1,86.8 L444,86.6 L443.9,86.4 L443.8,86.2 L443.7,85.9 L443.7,85.7 L443.6,85.5 L443.6,85.2 L443.6,85 L443.6,84.7 L443.6,84.5 L443.6,84.2 L443.6,84 L443.6,83.7 L443.7,83.5 L443.8,83.2 L443.8,83 L443.9,82.7 L444,82.5 L444.1,82.2 L444.3,82 L444.4,81.8 L444.5,81.5 L444.7,81.3 L444.8,81.1 L445,80.9 L445.2,80.7 L445.4,80.5 L445.6,80.4 L445.8,80.2 L446,80.1 L446.2,79.9 L446.4,79.8 L446.6,79.7 L446.8,79.6 L447.1,79.5 L447.3,79.4 L447.5,79.3 L447.8,79.3 L448,79.2 L448.2,79.2 L448.5,79.2 L448.7,79.2 L448.9,79.2 L449.2,79.2 L449.4,79.3 L449.6,79.3 L449.8,79.4" stroke="#000" stroke-width="1.1" fill="none" stroke-linejoin="round" stroke-linecap="round"/>
<path d="M447.5,89.4 L447.3,89.2 L447.2,89.1 L447,88.9 L446.9,88.7 L446.8,88.5 L446.7,88.3 L446.6,88.1 L446.5,87.9 L446.4,87.7 L446.3,87.4 L446.3,87.2 L446.2,87 L446.2,86.7 L446.2,86.5 L446.2,86.2 L446.2,86 L446.2,85.7 L446.2,85.5 L446.2,85.2 L446.3,85 L446.4,84.7 L446.4,84.5 L446.5,84.2 L446.6,84 L446.7,83.7 L446.9,83.5 L447,83.3 L447.1,83 L447.3,82.8 L447.4,82.6 L447.6,82.4 L447.8,82.2 L448,82 L448.2,81.9 L448.4,81.7 L448.6,81.6 L448.8,81.4 L449,81.3 L449.2,81.2 L449.4,81.1 L449.7,81 L449.9,80.9 L450.1,80.8 L450.4,80.8 L450.6,80.7 L450.8,80.7 L451.1,80.7 L451.3,80.7 L451.5,80.7 L451.8,80.7 L452,80.8 L452.2,80.8 L452.4,80.9" stroke="#000" stroke-width="1.1" fill="none" stroke-linejoin="round" stroke-linecap="round"/>
<path d="M450.1,90.9 L449.9,90.7 L449.8,90.6 L449.6,90.4 L449.5,90.2 L449.4,90 L449.3,89.8 L449.2,89.6 L449.1,89.4 L449,89.2 L448.9,88.9 L448.9,88.7 L448.8,88.5 L448.8,88.2 L448.8,88 L448.8,87.7 L448.8,87.5 L448.8,87.2 L448.8,87 L448.8,86.7 L448.9,86.5 L449,86.2 L449,86 L449.1,85.7 L449.2,85.5 L449.3,85.2 L449.5,85 L449.6,84.8 L449.7,84.5 L449.9,84.3 L450,84.1 L450.2,83.9 L450.4,83.7 L450.6,83.5 L450.8,83.4 L451,83.2 L451.2,83.1 L451.4,82.9 L451.6,82.8 L451.8,82.7 L452,82.6 L452.3,82.5 L452.5,82.4 L452.7,82.3 L453,82.3 L453.2,82.2 L453.4,82.2 L453.7,82.2 L453.9,82.2 L454.1,82.2 L454.4,82.2 L454.6,82.3 L454.8,82.3 L455,82.4" stroke="#000" stroke-width="1.1" fill="none" stroke-linejoin="round" stroke-linecap="round"/>
<path d="M452.7,92.4 L452.5,92.2 L452.4,92.1 L452.2,91.9 L452.1,91.7 L452,91.5 L451.9,91.3 L451.8,91.1 L451.7,90.9 L451.6,90.7 L451.5,90.4 L451.5,90.2 L451.4,90 L451.4,89.7 L451.4,89.5 L451.4,89.2 L451.4,89 L451.4,88.7 L451.4,88.5 L451.4,88.2 L451.5,88 L451.6,87.7 L451.6,87.5 L451.7,87.2 L451.8,87 L451.9,86.7 L452.1,86.5 L452.2,86.3 L452.3,86 L452.5,85.8 L452.6,85.6 L452.8,85.4 L453,85.2 L453.2,85 L453.4,84.9 L453.6,84.7 L453.8,84.6 L454,84.4 L454.2,84.3 L454.4,84.2 L454.6,84.1 L454.9,84 L455.1,83.9 L455.3,83.8 L455.6,83.8 L455.8,83.7 L456,83.7 L456.3,83.7 L456.5,83.7 L456.7,83.7 L457,83.7 L457.2,83.8 L457.4,83.8 L457.6,83.9" stroke="#000" stroke-width="1.1" fill="none" stroke-linejoin="round" stroke-linecap="round"/>
<path d="M455.3,93.9 L455.1,93.7 L455,93.6 L454.8,93.4 L454.7,93.2 L454.6,93 L454.5,92.8 L454.4,92.6 L454.3,92.4 L454.2,92.2 L454.1,91.9 L454.1,91.7 L454,91.5 L454,91.2 L454,91 L454,90.7 L454,90.5 L454,90.2 L454,90 L454,89.7 L454.1,89.5 L454.2,89.2 L454.2,89 L454.3,88.7 L454.4,88.5 L454.5,88.2 L454.7,88 L454.8,87.8 L454.9,87.5 L455.1,87.3 L455.2,87.1 L455.4,86.9 L455.6,86.7 L455.8,86.5 L456,86.4 L456.2,86.2 L456.4,86.1 L456.6,85.9 L456.8,85.8 L457,85.7 L457.2,85.6 L457.5,85.5 L457.7,85.4 L457.9,85.3 L458.2,85.3 L458.4,85.2 L458.6,85.2 L458.9,85.2 L459.1,85.2 L459.3,85.2 L459.6,85.2 L459.8,85.3 L460,85.3 L460.2,85.4" stroke="#000" stroke-width="1.1" fill="none" stroke-linejoin="round" stroke-linecap="round"/>
<path d="M409.6,75.2 L410,66.5 L417.4,61.7 L422.4,63.7 L429.4,67.8 L429,76.5 L421.6,81.3 L416.6,79.3Z" stroke="#000" stroke-width="1.6" fill="#fff" stroke-linejoin="round" stroke-linecap="round"/>
<path d="M429.3,70.3 L429.1,74.1 Q429,76.5 426.9,77.9 L423.7,79.9 Q421.6,81.3 419.4,80 L416.8,78.5 Q414.6,77.2 414.7,74.7 L414.9,70.9 Q415,68.5 417.1,67.1 L420.3,65.1 Q422.4,63.7 424.6,65 L427.2,66.5 Q429.4,67.8 429.3,70.3Z" stroke="#000" stroke-width="1.6" fill="#fff" stroke-linejoin="round" stroke-linecap="round"/>
<path d="M414.6,77.2 L409.6,75.2" stroke="#000" stroke-width="1.1" fill="none" stroke-linejoin="round" stroke-linecap="round"/>
<path d="M415,68.5 L410,66.5" stroke="#000" stroke-width="1.1" fill="none" stroke-linejoin="round" stroke-linecap="round"/>
<path d="M422.4,63.7 L417.4,61.7" stroke="#000" stroke-width="1.1" fill="none" stroke-linejoin="round" stroke-linecap="round"/>
<path d="M415.9,74 L416.1,72.8 L416.3,71.5 L416.8,70.3 L417.4,69.1 L418.1,68 L418.9,67 L419.9,66.1 L420.9,65.4 L422,64.7 L423.1,64.3 L424.3,64 L425.5,63.8 L426.7,63.8 L427.9,64 L429,64.3 L433.5,66.3 L434.5,66.8 L435.4,67.5 L436.3,68.3 L437,69.2 L437.6,70.2 L438.1,71.3 L438.4,72.5 L438.6,73.7 L438.6,75 L438.4,76.2 L438.2,77.5 L437.7,78.7 L437.1,79.9 L436.4,81 L435.6,82 L434.6,82.9 L433.6,83.6 L432.5,84.3 L431.4,84.7 L430.2,85 L429,85.2 L427.8,85.2 L426.6,85 L425.5,84.7 L421,82.7 L420,82.2 L419.1,81.5 L418.2,80.7 L417.5,79.8 L416.9,78.8 L416.4,77.7 L416.1,76.5 L415.9,75.3Z" stroke="#000" stroke-width="1.5" fill="#fff" stroke-linejoin="round" stroke-linecap="round"/>
<ellipse cx="429.5" cy="75.5" rx="10" ry="8.8" transform="rotate(-60 429.5 75.5)" stroke="#000" stroke-width="1.5" fill="#fff" stroke-linejoin="round" stroke-linecap="round"/>
<ellipse cx="430.5" cy="76" rx="5.5" ry="4.8" transform="rotate(-60 430.5 76)" stroke="#000" stroke-width="1.2" fill="#fff" stroke-linejoin="round" stroke-linecap="round"/>
<ellipse cx="481.5" cy="106" rx="11.6" ry="8.9" transform="rotate(-58 481.5 106)" stroke="#000" stroke-width="5.4" fill="none" stroke-linejoin="round" stroke-linecap="round"/>
<ellipse cx="481.5" cy="106" rx="11.6" ry="8.9" transform="rotate(-58 481.5 106)" stroke="#fff" stroke-width="2.4" fill="none" stroke-linejoin="round" stroke-linecap="round"/>
<ellipse cx="486.5" cy="108.2" rx="11.6" ry="8.9" transform="rotate(-58 486.5 108.2)" stroke="#000" stroke-width="5.4" fill="none" stroke-linejoin="round" stroke-linecap="round"/>
<ellipse cx="486.5" cy="108.2" rx="11.6" ry="8.9" transform="rotate(-58 486.5 108.2)" stroke="#fff" stroke-width="2.4" fill="none" stroke-linejoin="round" stroke-linecap="round"/>
<ellipse cx="491.5" cy="110.4" rx="11.6" ry="8.9" transform="rotate(-58 491.5 110.4)" stroke="#000" stroke-width="5.4" fill="none" stroke-linejoin="round" stroke-linecap="round"/>
<ellipse cx="491.5" cy="110.4" rx="11.6" ry="8.9" transform="rotate(-58 491.5 110.4)" stroke="#fff" stroke-width="2.4" fill="none" stroke-linejoin="round" stroke-linecap="round"/>
<ellipse cx="496.5" cy="112.7" rx="11.6" ry="8.9" transform="rotate(-58 496.5 112.7)" stroke="#000" stroke-width="5.4" fill="none" stroke-linejoin="round" stroke-linecap="round"/>
<ellipse cx="496.5" cy="112.7" rx="11.6" ry="8.9" transform="rotate(-58 496.5 112.7)" stroke="#fff" stroke-width="2.4" fill="none" stroke-linejoin="round" stroke-linecap="round"/>
<ellipse cx="501.5" cy="114.9" rx="11.6" ry="8.9" transform="rotate(-58 501.5 114.9)" stroke="#000" stroke-width="5.4" fill="none" stroke-linejoin="round" stroke-linecap="round"/>
<ellipse cx="501.5" cy="114.9" rx="11.6" ry="8.9" transform="rotate(-58 501.5 114.9)" stroke="#fff" stroke-width="2.4" fill="none" stroke-linejoin="round" stroke-linecap="round"/>
<ellipse cx="506.5" cy="117.1" rx="11.6" ry="8.9" transform="rotate(-58 506.5 117.1)" stroke="#000" stroke-width="5.4" fill="none" stroke-linejoin="round" stroke-linecap="round"/>
<ellipse cx="506.5" cy="117.1" rx="11.6" ry="8.9" transform="rotate(-58 506.5 117.1)" stroke="#fff" stroke-width="2.4" fill="none" stroke-linejoin="round" stroke-linecap="round"/>
<ellipse cx="511.5" cy="119.3" rx="11.6" ry="8.9" transform="rotate(-58 511.5 119.3)" stroke="#000" stroke-width="5.4" fill="none" stroke-linejoin="round" stroke-linecap="round"/>
<ellipse cx="511.5" cy="119.3" rx="11.6" ry="8.9" transform="rotate(-58 511.5 119.3)" stroke="#fff" stroke-width="2.4" fill="none" stroke-linejoin="round" stroke-linecap="round"/>
<path d="M502.3,65 L507.5,55.9 L517.2,55.4 L522.8,57.9 L527.2,66.5 L522,75.6 L512.2,76.1 L506.8,73.6Z" stroke="#000" stroke-width="1.6" fill="#fff" stroke-linejoin="round" stroke-linecap="round"/>
<path d="M523.9,60.1 L526.1,64.3 Q527.2,66.5 526,68.7 L523.2,73.5 Q522,75.6 519.5,75.8 L514.7,76 Q512.2,76.1 511.1,73.9 L508.9,69.7 Q507.8,67.5 509,65.3 L511.8,60.5 Q513,58.4 515.5,58.2 L520.3,58 Q522.8,57.9 523.9,60.1Z" stroke="#000" stroke-width="1.6" fill="#fff" stroke-linejoin="round" stroke-linecap="round"/>
<path d="M512.2,76.1 L506.8,73.6" stroke="#000" stroke-width="1.1" fill="none" stroke-linejoin="round" stroke-linecap="round"/>
<path d="M507.8,67.5 L502.3,65" stroke="#000" stroke-width="1.1" fill="none" stroke-linejoin="round" stroke-linecap="round"/>
<path d="M513,58.4 L507.5,55.9" stroke="#000" stroke-width="1.1" fill="none" stroke-linejoin="round" stroke-linecap="round"/>
<ellipse cx="518.5" cy="67.5" rx="4.2" ry="5.8" transform="rotate(-20 518.5 67.5)" stroke="#000" stroke-width="1.3" fill="none" stroke-linejoin="round" stroke-linecap="round"/>
<path d="M515.8,67 L515.8,66.8 L515.8,66.6 L515.8,66.4 L515.8,66.2 L515.8,66 L515.8,65.8 L515.8,65.7 L515.9,65.5 L515.9,65.3 L515.9,65.1 L516,65 L516.1,64.8 L516.1,64.7 L516.2,64.6 L516.3,64.4 L516.4,64.3 L516.5,64.2 L516.6,64.1 L516.7,64 L516.8,63.9 L516.9,63.9 L517,63.8 L517.1,63.7 L517.3,63.7 L517.4,63.7 L517.5,63.7 L517.7,63.6 L517.8,63.6 L517.9,63.7 L518.1,63.7 L518.2,63.7 L518.4,63.8 L518.5,63.8 L518.7,63.9 L518.8,64 L518.9,64.1 L519.1,64.2 L519.2,64.3 L519.4,64.4 L519.5,64.5 L519.6,64.6 L519.8,64.8 L519.9,64.9 L520,65.1 L520.1,65.2 L520.2,65.4" stroke="#000" stroke-width="1.0" fill="none" stroke-linejoin="round" stroke-linecap="round"/>
<path d="M527.2,77.6 L527.3,76.2 L527.6,74.8 L528.1,73.5 L528.8,72.2 L529.5,71.1 L530.5,70 L531.5,69 L532.6,68.2 L533.8,67.5 L535,67 L536.3,66.7 L537.6,66.5 L538.8,66.5 L540.1,66.7 L541.3,67.1 L542.4,67.7 L545.4,69.2 L546.4,69.8 L547.4,70.7 L548.1,71.7 L548.8,72.8 L549.3,74 L549.6,75.2 L549.8,76.6 L549.8,77.9 L549.7,79.3 L549.4,80.7 L548.9,82 L548.2,83.2 L547.5,84.4 L546.5,85.5 L545.5,86.5 L544.4,87.3 L543.2,88 L542,88.5 L540.7,88.8 L539.4,89 L538.2,89 L536.9,88.8 L535.7,88.4 L534.6,87.8 L531.6,86.3 L530.6,85.7 L529.6,84.8 L528.9,83.8 L528.2,82.7 L527.7,81.5 L527.4,80.2 L527.2,78.9Z" stroke="#000" stroke-width="1.5" fill="#fff" stroke-linejoin="round" stroke-linecap="round"/>
<ellipse cx="540" cy="78.5" rx="10.8" ry="9.5" transform="rotate(-60 540 78.5)" stroke="#000" stroke-width="1.5" fill="#fff" stroke-linejoin="round" stroke-linecap="round"/>
<ellipse cx="541" cy="79" rx="4" ry="5.5" transform="rotate(-20 541 79)" stroke="#000" stroke-width="1.3" fill="#fff" stroke-linejoin="round" stroke-linecap="round"/>
<path d="M538.5,78.6 L538.5,78.4 L538.5,78.2 L538.5,78 L538.5,77.9 L538.5,77.7 L538.5,77.5 L538.6,77.4 L538.6,77.2 L538.6,77 L538.7,76.9 L538.7,76.7 L538.8,76.6 L538.8,76.5 L538.9,76.4 L539,76.2 L539.1,76.1 L539.2,76 L539.2,75.9 L539.3,75.9 L539.4,75.8 L539.5,75.7 L539.7,75.7 L539.8,75.6 L539.9,75.6 L540,75.6 L540.1,75.5 L540.3,75.5 L540.4,75.5 L540.5,75.5 L540.6,75.6 L540.8,75.6 L540.9,75.6 L541,75.7 L541.2,75.7 L541.3,75.8 L541.4,75.9 L541.6,76 L541.7,76.1 L541.8,76.2 L541.9,76.3 L542.1,76.4 L542.2,76.5 L542.3,76.7 L542.4,76.8 L542.5,77 L542.6,77.1" stroke="#000" stroke-width="1.0" fill="none" stroke-linejoin="round" stroke-linecap="round"/>
<path d="M671.2,163.7 L671.4,161.2 L671.8,158.8 L672.5,156.3 L673.5,153.9 L674.6,151.7 L676.1,149.6 L677.7,147.7 L679.5,146 L681.4,144.5 L683.4,143.4 L685.5,142.5 L687.6,141.9 L689.7,141.7 L691.8,141.7 L693.8,142.1 L695.7,142.8 L699.7,144.3 L701.5,145.3 L703.1,146.6 L704.5,148.2 L705.7,150 L706.6,152 L707.3,154.1 L707.7,156.4 L707.8,158.8 L707.6,161.3 L707.2,163.8 L706.5,166.2 L705.5,168.6 L704.4,170.8 L702.9,172.9 L701.3,174.8 L699.5,176.5 L697.6,178 L695.6,179.1 L693.5,180 L691.4,180.6 L689.3,180.8 L687.2,180.8 L685.2,180.4 L683.3,179.7 L679.3,178.2 L677.5,177.2 L675.9,175.9 L674.5,174.3 L673.3,172.5 L672.4,170.5 L671.7,168.4 L671.3,166.1Z" stroke="#000" stroke-width="1.6" fill="#fff" stroke-linejoin="round" stroke-linecap="round"/>
<ellipse cx="691.5" cy="162" rx="15.5" ry="19.5" transform="rotate(25 691.5 162)" stroke="#000" stroke-width="1.6" fill="#fff" stroke-linejoin="round" stroke-linecap="round"/>
<ellipse cx="693.3" cy="162.6" rx="4.3" ry="5.3" transform="rotate(25 693.3 162.6)" stroke="#000" stroke-width="1.4" fill="#fff" stroke-linejoin="round" stroke-linecap="round"/>
<path d="M680.2,156.7 L680.6,155.9 L681,155.2 L681.4,154.4 L681.9,153.7 L682.4,153 L682.9,152.3 L683.5,151.6 L684.1,151 L684.6,150.4 L685.3,149.9 L685.9,149.3 L686.5,148.9 L687.2,148.4 L687.9,148 L688.6,147.6 L689.3,147.3 L690,147 L690.7,146.7 L691.4,146.5 L692.1,146.4 L692.8,146.2 L693.5,146.2 L694.2,146.1" stroke="#000" stroke-width="1.1" fill="none" stroke-linejoin="round" stroke-linecap="round"/>
<ellipse cx="715.3" cy="173.8" rx="7.8" ry="9.6" transform="rotate(28 715.3 173.8)" stroke="#000" stroke-width="3.4" fill="none" stroke-linejoin="round" stroke-linecap="round"/>
<path d="M725.5,180.3 L725.5,179.5 L725.7,178.7 L726,178 L726.3,177.3 L726.8,176.6 L727.3,176.1 L727.8,175.5 L728.5,175.1 L729.1,174.7 L729.8,174.4 L730.5,174.2 L731.3,174.2 L732,174.2 L732.7,174.3 L733.4,174.5 L734,174.8 L755,185.8 L755.6,186.2 L756.1,186.7 L756.6,187.2 L756.9,187.8 L757.2,188.5 L757.4,189.2 L757.5,190 L757.5,190.7 L757.5,191.5 L757.3,192.3 L757,193 L756.7,193.7 L756.2,194.4 L755.7,194.9 L755.2,195.5 L754.5,195.9 L753.9,196.3 L753.2,196.6 L752.5,196.8 L751.7,196.8 L751,196.8 L750.3,196.7 L749.6,196.5 L749,196.2 L728,185.2 L727.4,184.8 L726.9,184.3 L726.4,183.8 L726.1,183.2 L725.8,182.5 L725.6,181.8 L725.5,181Z" stroke="#000" stroke-width="1.4" fill="#fff" stroke-linejoin="round" stroke-linecap="round"/>
<ellipse cx="752" cy="191" rx="6" ry="5.4" transform="rotate(-60 752 191)" stroke="#000" stroke-width="1.4" fill="#fff" stroke-linejoin="round" stroke-linecap="round"/>
<path d="M729.2,185.6 L729,185.5 L728.8,185.2 L728.6,185 L728.5,184.8 L728.3,184.6 L728.2,184.3 L728,184.1 L727.9,183.8 L727.8,183.5 L727.7,183.2 L727.6,182.9 L727.5,182.6 L727.5,182.3 L727.5,182 L727.4,181.7 L727.4,181.4 L727.5,181.1 L727.5,180.8 L727.5,180.5 L727.6,180.2 L727.7,179.9 L727.7,179.6 L727.9,179.3 L728,179 L728.1,178.7 L728.2,178.4 L728.4,178.2 L728.6,177.9 L728.8,177.6 L729,177.4 L729.2,177.2 L729.4,176.9 L729.6,176.7 L729.8,176.5 L730.1,176.3 L730.3,176.1 L730.6,176 L730.9,175.8 L731.1,175.7 L731.4,175.6 L731.7,175.5 L732,175.4 L732.3,175.3 L732.6,175.2 L732.9,175.2 L733.2,175.2 L733.4,175.1 L733.7,175.1 L734,175.2 L734.3,175.2 L734.6,175.3 L734.9,175.3 L735.1,175.4" stroke="#000" stroke-width="1.0" fill="none" stroke-linejoin="round" stroke-linecap="round"/>
<path d="M733.4,187.8 L733.2,187.7 L733,187.4 L732.8,187.2 L732.7,187 L732.5,186.8 L732.4,186.5 L732.2,186.3 L732.1,186 L732,185.7 L731.9,185.4 L731.8,185.1 L731.7,184.8 L731.7,184.5 L731.7,184.2 L731.6,183.9 L731.6,183.6 L731.7,183.3 L731.7,183 L731.7,182.7 L731.8,182.4 L731.9,182.1 L731.9,181.8 L732.1,181.5 L732.2,181.2 L732.3,180.9 L732.4,180.6 L732.6,180.4 L732.8,180.1 L733,179.8 L733.2,179.6 L733.4,179.4 L733.6,179.1 L733.8,178.9 L734,178.7 L734.3,178.5 L734.5,178.3 L734.8,178.2 L735.1,178 L735.3,177.9 L735.6,177.8 L735.9,177.7 L736.2,177.6 L736.5,177.5 L736.8,177.4 L737.1,177.4 L737.4,177.4 L737.6,177.3 L737.9,177.3 L738.2,177.4 L738.5,177.4 L738.8,177.5 L739.1,177.5 L739.3,177.6" stroke="#000" stroke-width="1.0" fill="none" stroke-linejoin="round" stroke-linecap="round"/>
<path d="M737.6,190 L737.4,189.9 L737.2,189.6 L737,189.4 L736.9,189.2 L736.7,189 L736.6,188.7 L736.4,188.5 L736.3,188.2 L736.2,187.9 L736.1,187.6 L736,187.3 L735.9,187 L735.9,186.7 L735.9,186.4 L735.8,186.1 L735.8,185.8 L735.9,185.5 L735.9,185.2 L735.9,184.9 L736,184.6 L736.1,184.3 L736.1,184 L736.3,183.7 L736.4,183.4 L736.5,183.1 L736.6,182.8 L736.8,182.6 L737,182.3 L737.2,182 L737.4,181.8 L737.6,181.6 L737.8,181.3 L738,181.1 L738.2,180.9 L738.5,180.7 L738.7,180.5 L739,180.4 L739.3,180.2 L739.5,180.1 L739.8,180 L740.1,179.9 L740.4,179.8 L740.7,179.7 L741,179.6 L741.3,179.6 L741.6,179.6 L741.8,179.5 L742.1,179.5 L742.4,179.6 L742.7,179.6 L743,179.7 L743.3,179.7 L743.5,179.8" stroke="#000" stroke-width="1.0" fill="none" stroke-linejoin="round" stroke-linecap="round"/>
<path d="M741.8,192.2 L741.6,192.1 L741.4,191.8 L741.2,191.6 L741.1,191.4 L740.9,191.2 L740.8,190.9 L740.6,190.7 L740.5,190.4 L740.4,190.1 L740.3,189.8 L740.2,189.5 L740.1,189.2 L740.1,188.9 L740.1,188.6 L740,188.3 L740,188 L740.1,187.7 L740.1,187.4 L740.1,187.1 L740.2,186.8 L740.3,186.5 L740.3,186.2 L740.5,185.9 L740.6,185.6 L740.7,185.3 L740.8,185 L741,184.8 L741.2,184.5 L741.4,184.2 L741.6,184 L741.8,183.8 L742,183.5 L742.2,183.3 L742.4,183.1 L742.7,182.9 L742.9,182.7 L743.2,182.6 L743.5,182.4 L743.7,182.3 L744,182.2 L744.3,182.1 L744.6,182 L744.9,181.9 L745.2,181.8 L745.5,181.8 L745.8,181.8 L746,181.7 L746.3,181.7 L746.6,181.8 L746.9,181.8 L747.2,181.9 L747.5,181.9 L747.7,182" stroke="#000" stroke-width="1.0" fill="none" stroke-linejoin="round" stroke-linecap="round"/>
<path d="M746,194.4 L745.8,194.3 L745.6,194 L745.4,193.8 L745.3,193.6 L745.1,193.4 L745,193.1 L744.8,192.9 L744.7,192.6 L744.6,192.3 L744.5,192 L744.4,191.7 L744.3,191.4 L744.3,191.1 L744.3,190.8 L744.2,190.5 L744.2,190.2 L744.3,189.9 L744.3,189.6 L744.3,189.3 L744.4,189 L744.5,188.7 L744.5,188.4 L744.7,188.1 L744.8,187.8 L744.9,187.5 L745,187.2 L745.2,187 L745.4,186.7 L745.6,186.4 L745.8,186.2 L746,186 L746.2,185.7 L746.4,185.5 L746.6,185.3 L746.9,185.1 L747.1,184.9 L747.4,184.8 L747.7,184.6 L747.9,184.5 L748.2,184.4 L748.5,184.3 L748.8,184.2 L749.1,184.1 L749.4,184 L749.7,184 L750,184 L750.2,183.9 L750.5,183.9 L750.8,184 L751.1,184 L751.4,184.1 L751.7,184.1 L751.9,184.2" stroke="#000" stroke-width="1.0" fill="none" stroke-linejoin="round" stroke-linecap="round"/>
<path d="M746.6,191.3 L746.7,190.3 L746.9,189.3 L747.3,188.3 L747.8,187.4 L748.3,186.5 L749,185.7 L749.8,185 L750.6,184.4 L751.5,183.9 L752.4,183.6 L753.4,183.3 L754.4,183.2 L755.3,183.2 L756.2,183.4 L757.1,183.7 L758,184.1 L766,189.1 L766.8,189.6 L767.5,190.2 L768.1,191 L768.6,191.8 L769,192.7 L769.2,193.7 L769.4,194.6 L769.4,195.7 L769.3,196.7 L769.1,197.7 L768.7,198.7 L768.2,199.6 L767.7,200.5 L767,201.3 L766.2,202 L765.4,202.6 L764.5,203.1 L763.6,203.4 L762.6,203.7 L761.6,203.8 L760.7,203.8 L759.8,203.6 L758.9,203.3 L758,202.9 L750,197.9 L749.2,197.4 L748.5,196.8 L747.9,196 L747.4,195.2 L747,194.3 L746.8,193.3 L746.6,192.4Z" stroke="#000" stroke-width="1.4" fill="#fff" stroke-linejoin="round" stroke-linecap="round"/>
<ellipse cx="762" cy="196" rx="8" ry="7.2" transform="rotate(-60 762 196)" stroke="#000" stroke-width="1.4" fill="#fff" stroke-linejoin="round" stroke-linecap="round"/>
<path d="M758.1,199.3 L758.2,198.4 L758.4,197.4 L758.7,196.5 L759.1,195.6 L759.7,194.8 L760.3,194.1 L761,193.4 L761.8,192.8 L762.6,192.4 L763.5,192 L764.4,191.8 L765.3,191.7 L766.2,191.7 L767.1,191.8 L768,192.1 L768.8,192.5 L778.8,197.5 L779.5,198 L780.1,198.6 L780.7,199.3 L781.2,200.1 L781.5,200.9 L781.8,201.8 L781.9,202.7 L781.9,203.7 L781.8,204.6 L781.6,205.6 L781.3,206.5 L780.9,207.4 L780.3,208.2 L779.7,208.9 L779,209.6 L778.2,210.2 L777.4,210.6 L776.5,211 L775.6,211.2 L774.7,211.3 L773.8,211.3 L772.9,211.2 L772,210.9 L771.2,210.5 L761.2,205.5 L760.5,205 L759.9,204.4 L759.3,203.7 L758.8,202.9 L758.5,202.1 L758.2,201.2 L758.1,200.3Z" stroke="#000" stroke-width="1.4" fill="#fff" stroke-linejoin="round" stroke-linecap="round"/>
<ellipse cx="775" cy="204" rx="7.5" ry="6.8" transform="rotate(-60 775 204)" stroke="#000" stroke-width="1.4" fill="#fff" stroke-linejoin="round" stroke-linecap="round"/>
<path d="M777.7,206.3 L777.6,206.4 L777.5,206.5 L777.4,206.6 L777.4,206.7 L777.3,206.8 L777.2,206.9 L777.1,207 L777,207 L776.9,207.1 L776.7,207.1 L776.6,207.2 L776.5,207.2 L776.4,207.2 L776.3,207.3 L776.2,207.3 L776.1,207.3 L776,207.3 L775.8,207.3 L775.7,207.3 L775.6,207.3 L775.5,207.2 L775.4,207.2 L775.3,207.1 L775.2,207.1 L775.1,207 L775,207 L774.9,206.9 L774.8,206.8 L774.7,206.7 L774.6,206.6 L774.5,206.5 L774.4,206.4 L774.3,206.3 L774.3,206.2 L774.2,206.1 L774.1,206 L774.1,205.8 L774,205.7 L774,205.6 L773.9,205.4 L773.9,205.3 L773.9,205.2 L773.8,205 L773.8,204.9 L773.8,204.7 L773.8,204.6 L773.8,204.4 L773.8,204.3 L773.8,204.1 L773.8,204 L773.9,203.8 L773.9,203.7 L773.9,203.6 L774,203.4 L774,203.3 L774.1,203.2 L774.1,203 L774.2,202.9 L774.3,202.8 L774.3,202.7 L774.4,202.6 L774.5,202.5 L774.6,202.4 L774.7,202.3 L774.8,202.2 L774.9,202.1 L775,202 L775.1,202 L775.2,201.9 L775.3,201.9 L775.4,201.8 L775.5,201.8 L775.6,201.7 L775.7,201.7 L775.8,201.7 L776,201.7 L776.1,201.7 L776.2,201.7 L776.3,201.7 L776.4,201.8 L776.5,201.8 L776.6,201.8 L776.7,201.9 L776.9,201.9 L777,202 L777.1,202 L777.2,202.1 L777.3,202.2 L777.4,202.3 L777.4,202.4 L777.5,202.5 L777.6,202.6 L777.7,202.7" stroke="#000" stroke-width="1.2" fill="none" stroke-linejoin="round" stroke-linecap="round"/>
<path d="M780.2,218.8 L780.2,218.4 Q780.3,217.4 780.4,216.4 L780.5,216 Q780.6,215 780.9,214 L781,213.6 Q781.2,212.6 781.5,211.7 L781.7,211.2 Q782,210.3 782.4,209.4 L782.6,208.9 Q783.1,208 783.6,207.1 L783.8,206.7 Q784.3,205.9 784.9,205.1 L785.1,204.7 Q785.7,203.9 786.4,203.2 L786.6,202.9 Q787.3,202.2 788.1,201.5 L788.3,201.3 Q789,200.6 789.8,200 L790,199.9 Q790.9,199.3 791.7,198.9 L791.9,198.8 Q792.7,198.3 793.6,198 L793.8,197.9 Q794.7,197.6 795.5,197.4 L795.7,197.4 Q796.6,197.2 797.5,197.2 L797.7,197.2 Q798.5,197.1 799.3,197.2 L799.5,197.3 Q800.4,197.3 801.2,197.6 L801.3,197.6 Q802.1,197.9 803.1,198.2 L810.2,200.6 Q811.1,200.9 811.9,201.3 L812,201.3 Q812.8,201.7 813.4,202.2 L813.6,202.3 Q814.2,202.8 814.8,203.5 L815,203.6 Q815.5,204.2 816,205 L816.2,205.1 Q816.6,205.9 817.1,206.7 L817.1,206.9 Q817.5,207.7 817.8,208.6 L817.9,208.8 Q818.2,209.8 818.4,210.7 L818.4,211 Q818.6,211.9 818.7,212.9 L818.7,213.2 Q818.8,214.2 818.8,215.2 L818.8,215.6 Q818.7,216.6 818.6,217.6 L818.5,218 Q818.4,219 818.1,220 L818,220.4 Q817.8,221.4 817.5,222.3 L817.3,222.8 Q817,223.7 816.6,224.6 L816.4,225.1 Q815.9,226 815.4,226.9 L815.2,227.3 Q814.7,228.1 814.1,228.9 L813.9,229.3 Q813.3,230.1 812.6,230.8 L812.4,231.1 Q811.7,231.8 810.9,232.5 L810.7,232.7 Q810,233.4 809.2,234 L809,234.1 Q808.1,234.7 807.3,235.1 L807.1,235.2 Q806.3,235.7 805.4,236 L805.2,236.1 Q804.3,236.4 803.5,236.6 L803.3,236.6 Q802.4,236.8 801.5,236.8 L801.3,236.8 Q800.5,236.9 799.7,236.8 L799.5,236.7 Q798.6,236.7 797.8,236.4 L797.7,236.4 Q796.9,236.1 795.9,235.8 L788.8,233.4 Q787.9,233.1 787.1,232.7 L787,232.7 Q786.2,232.3 785.6,231.8 L785.4,231.7 Q784.8,231.2 784.2,230.5 L784,230.4 Q783.5,229.8 783,229 L782.8,228.9 Q782.4,228.1 781.9,227.3 L781.9,227.1 Q781.5,226.3 781.2,225.4 L781.1,225.2 Q780.8,224.2 780.6,223.3 L780.6,223 Q780.4,222.1 780.3,221.1 L780.3,220.8 Q780.2,219.8 780.2,218.8Z" stroke="#000" stroke-width="1.6" fill="#fff" stroke-linejoin="round" stroke-linecap="round"/>
<ellipse cx="804" cy="218.5" rx="14" ry="19" transform="rotate(22 804 218.5)" stroke="#000" stroke-width="1.6" fill="#fff" stroke-linejoin="round" stroke-linecap="round"/>
<path d="M783,207 L792,199 L801,200" stroke="#000" stroke-width="1.2" fill="none" stroke-linejoin="round" stroke-linecap="round"/>
<path d="M780,222 L786,232 L795,236" stroke="#000" stroke-width="1.2" fill="none" stroke-linejoin="round" stroke-linecap="round"/>
<ellipse cx="805" cy="220" rx="7.5" ry="9" transform="rotate(28 805 220)" stroke="#000" stroke-width="1.5" fill="#fff" stroke-linejoin="round" stroke-linecap="round"/>
<path d="M800.2,221.3 L800.2,221 L800.2,220.7 L800.3,220.4 L800.4,220 L800.4,219.7 L800.5,219.4 L800.7,219.1 L800.8,218.8 L800.9,218.5 L801.1,218.2 L801.3,217.9 L801.4,217.6 L801.6,217.3 L801.8,217 L802,216.7 L802.2,216.5 L802.5,216.3 L802.7,216 L803,215.8 L803.2,215.6 L803.5,215.4 L803.7,215.2 L804,215.1 L804.3,214.9 L804.5,214.8 L804.8,214.7 L805.1,214.6 L805.4,214.5 L805.7,214.4 L805.9,214.4 L806.2,214.3 L806.5,214.3 L806.8,214.3 L807,214.3 L807.3,214.3 L807.6,214.4 L807.8,214.5 L808.1,214.5 L808.3,214.6 L808.6,214.8 L808.8,214.9 L809,215 L809.2,215.2 L809.4,215.4 L809.6,215.6 L809.8,215.8 L809.9,216 L810.1,216.2 L810.2,216.5 L810.4,216.7 L810.5,217 L810.6,217.2 L810.6,217.5 L810.7,217.8 L810.8,218.1 L810.8,218.4 L810.9,218.7 L810.9,219 L810.9,219.3 L810.8,219.7" stroke="#000" stroke-width="1.1" fill="none" stroke-linejoin="round" stroke-linecap="round"/>
<path d="M828.9,213.6 L828.6,212.5 Q828.2,211.4 829.4,211.1 L842.4,208.4 Q843.6,208.1 843.7,209.3 L844.6,216.8 Q844.7,218 845,219.2 L845.5,221.2 Q845.8,222.4 847,222.7 L849,223.2 Q850.2,223.5 851.4,223.5 L855.6,223.5 Q856.8,223.5 856.9,224.7 L857.8,231.1 Q857.9,232.3 856.7,232.5 L852.5,233.2 Q851.3,233.4 850.5,234.2 L847.7,237 Q846.9,237.8 846.6,239 L845,245.4 Q844.7,246.6 843.8,247.4 L837.9,252.4 Q837,253.2 836.1,254 L831.3,257.9 Q830.4,258.7 829.7,257.8 L826.7,254.1 Q826,253.2 824.8,252.9 L818.4,251.3 Q817.2,251 817,249.8 L815.8,243.4 Q815.6,242.2 816.7,241.8 L820.5,240.4 Q821.6,240 821.9,238.8 L823.5,233.5 Q823.8,232.3 824.4,231.3 L829.8,222.3 Q830.4,221.3 830.2,220.1 L829.5,215.9 Q829.3,214.7 828.9,213.6Z" stroke="#000" stroke-width="1.5" fill="#fff" stroke-linejoin="round" stroke-linecap="round"/>
<path d="M840.2,244.8 L838.9,245.9 L837.5,246.7 L836,247.3 L834.4,247.4 L832.9,247.3 L831.4,246.8 L830.1,245.9 L828.9,244.8 L827.9,243.4 L827.1,241.9 L826.7,240.1 L826.4,238.3 L826.5,236.4 L826.9,234.5 L827.5,232.7 L828.3,231 L829.4,229.6 L830.7,228.4 L832.1,227.5 L833.6,226.8 L835.2,226.6 L836.7,226.6 L838.2,227 L839.6,227.8" stroke="#000" stroke-width="1.5" fill="none" stroke-linejoin="round" stroke-linecap="round"/>
<path d="M817.5,242.5 L820,250" stroke="#000" stroke-width="1.1" fill="none" stroke-linejoin="round" stroke-linecap="round"/>
<path d="M831,218.5 L842,217.5" stroke="#000" stroke-width="1.0" fill="none" stroke-linejoin="round" stroke-linecap="round"/>
<path d="M327.2,480.7 L339.2,492.1 Q340.8,493.6 338.9,494.8 L322.7,505.2 Q320.8,506.4 318.8,505.4 L299,495.5 Q297,494.5 298.7,493.7 L299.1,493.6 Q300.8,492.8 303,493.2 L309.8,494.4 Q312,494.8 314.2,495.1 L317,495.5 Q319.2,495.8 320.2,494.8 L320.4,494.6 Q321.4,493.6 320.9,492 L320.8,491.6 Q320.4,490 318.5,488.8 L317.9,488.4 Q316,487.2 315.8,485.9 L315.8,485.7 Q315.6,484.4 317.2,482.8 L317.6,482.4 Q319.2,480.8 321.3,480.3 L323.5,479.7 Q325.6,479.2 327.2,480.7Z" stroke="#000" stroke-width="1.5" fill="#fff" stroke-linejoin="round" stroke-linecap="round"/>
<path d="M320.4,483.6 L338.8,494" stroke="#000" stroke-width="1.0" fill="none" stroke-linejoin="round" stroke-linecap="round"/>
<path d="M271.7,514.4 L288.8,527.6 Q290.5,529 289.3,530.8 L276.2,551.2 Q275,553 272.9,552.3 L250.1,544.2 Q248,543.5 249.8,542.2 L252.2,540.3 Q254,539 256.2,538.6 L266.8,536.9 Q269,536.5 270.2,534.7 L270.8,533.8 Q272,532 271.1,530 L268.4,524 Q267.5,522 268.3,519.9 L268.7,518.6 Q269.5,516.5 269.7,514.9 L269.8,514.6 Q270,513 271.7,514.4Z" stroke="#000" stroke-width="1.5" fill="#fff" stroke-linejoin="round" stroke-linecap="round"/>
<path d="M270.5,518 L289.5,529.5" stroke="#000" stroke-width="1.0" fill="none" stroke-linejoin="round" stroke-linecap="round"/>
<path d="M237.1,571.5 L254.2,586.5 Q255.8,588 255.2,590.1 L250,608.7 Q249.4,610.8 247.3,610.1 L229.6,604.2 Q227.5,603.5 227.6,601.6 L227.7,601.1 Q227.8,599.2 229.2,598.1 L229.6,597.9 Q231,596.8 233.2,596.4 L236.8,595.6 Q239,595.2 240.1,593.8 L240.3,593.4 Q241.4,592 241.1,589.8 L240.9,588.6 Q240.6,586.4 239.5,584.5 L236.9,579.5 Q235.8,577.6 235.1,575.8 L234.9,575.4 Q234.2,573.6 234.8,572 L234.9,571.6 Q235.5,570 237.1,571.5Z" stroke="#000" stroke-width="1.5" fill="#fff" stroke-linejoin="round" stroke-linecap="round"/>
<path d="M229,605.5 L248,613" stroke="#000" stroke-width="1.0" fill="none" stroke-linejoin="round" stroke-linecap="round"/>
<path d="M293,497 L314.2,511.2 Q316,512.4 314.4,513.9 L304,523.7 Q302.4,525.2 300.3,524.4 L270,513" stroke="#000" stroke-width="1.5" fill="none" stroke-linejoin="round" stroke-linecap="round"/>
<path d="M294.5,500.5 L314,511.5" stroke="#000" stroke-width="1.0" fill="none" stroke-linejoin="round" stroke-linecap="round"/>
<path d="M246.2,546 L269.2,561.9 Q271,563.2 270.2,565.2 L264.6,578.4 Q263.8,580.4 261.7,579.6 L235.5,570" stroke="#000" stroke-width="1.5" fill="none" stroke-linejoin="round" stroke-linecap="round"/>
<path d="M248,549.5 L269,562" stroke="#000" stroke-width="1.0" fill="none" stroke-linejoin="round" stroke-linecap="round"/>
<path d="M226.5,606 L250.6,621.3 Q252.5,622.5 252.4,624.7 L252.1,633.8 Q252,636 250,635.2 L226,625.5" stroke="#000" stroke-width="1.5" fill="none" stroke-linejoin="round" stroke-linecap="round"/>
<path d="M228,628.5 L250,636.5" stroke="#000" stroke-width="1.0" fill="none" stroke-linejoin="round" stroke-linecap="round"/>
<path d="M297,494.5 L293,497" stroke="#000" stroke-width="1.5" fill="none" stroke-linejoin="round" stroke-linecap="round"/>
<path d="M248,543.5 L246.2,546" stroke="#000" stroke-width="1.5" fill="none" stroke-linejoin="round" stroke-linecap="round"/>
<path d="M227.5,603.5 L226.5,606" stroke="#000" stroke-width="1.5" fill="none" stroke-linejoin="round" stroke-linecap="round"/>
<path d="M251.5,543 L272,552" stroke="#000" stroke-width="1.0" fill="none" stroke-linejoin="round" stroke-linecap="round"/>
<path d="M300.5,497.5 L319,506" stroke="#000" stroke-width="1.0" fill="none" stroke-linejoin="round" stroke-linecap="round"/>
<path d="M344.2,478.2 L360.2,486.4 Q362.4,487.6 361.1,489.8 L360.9,490.2 Q359.6,492.4 357.5,491.1 L342.7,482.3 Q340.6,481 341.2,479.2 L341.4,478.8 Q342,477 344.2,478.2Z" stroke="#000" stroke-width="1.5" fill="#fff" stroke-linejoin="round" stroke-linecap="round"/>
<path d="M345,478.8 L360.4,488.4" stroke="#000" stroke-width="1.0" fill="none" stroke-linejoin="round" stroke-linecap="round"/>
<path d="M366.8,480.5 L375.2,485 Q377,486 376.1,487.6 L375.9,487.9 Q375,489.5 373.3,488.5 L365.2,484 Q363.5,483 364.2,481.4 L364.3,481.1 Q365,479.5 366.8,480.5Z" stroke="#000" stroke-width="1.5" fill="#fff" stroke-linejoin="round" stroke-linecap="round"/>
<path d="M226,626 L230.2,632.7 Q231,634 232.2,634.9 L236.8,638.1 Q238,639 236.7,639.8 L235.5,640.7 Q234.2,641.5 234.2,642.5 L234.2,642.7 Q234.2,643.7 235.7,643.7 L236.5,643.7 Q238,643.7 237.1,644.9 L235.9,646.3 Q235,647.5 235.3,648.9 L235.4,649.1 Q235.7,650.5 237.1,651 L248.6,655.2 Q250,655.7 250.6,654.3 L251.6,651.9 Q252.2,650.5 251.6,649.1 L249.1,642.9 Q248.5,641.5 247.2,640.8 L242.5,638.5" stroke="#000" stroke-width="1.5" fill="none" stroke-linejoin="round" stroke-linecap="round"/>
<path d="M237.2,649.7 L249.2,655" stroke="#000" stroke-width="0.9" fill="none" stroke-linejoin="round" stroke-linecap="round"/>
<path d="M247.5,659.9 L247.2,662 Q247,663.2 248.1,663.7 L259.4,669.5 Q260.5,670 261.3,669.1 L262.2,667.9 Q263,667 262,666.4 L253,660.6 Q252,660 250.9,659.7 L248.8,659 Q247.7,658.7 247.5,659.9Z" stroke="#000" stroke-width="1.4" fill="#fff" stroke-linejoin="round" stroke-linecap="round"/>
<path d="M378,492 L352,499 L327,511 L304,528 L285,549 L274,568 L266,590 L261,612 L258,633 L261,655 L270,671.4 L283,683.5 L303,689 L320,692" stroke="#000" stroke-width="1.3" fill="none" stroke-linejoin="round" stroke-linecap="round"/>
<path d="M400.7,514.5 L401.6,515.1 L405.8,511.2 L407.3,512.3 L405.3,517.8 L406.3,518.7 L407.1,519.4 L411.5,516 L412.8,517.3 L410.4,522.6 L411.3,523.7 L412,524.5 L416.5,521.6 L417.7,523.2 L414.8,528.4 L415.6,529.6 L416.2,530.6 L420.8,528.2 L421.7,529.9 L418.5,534.9 L419.1,536.3 L419.6,537.3 L424.2,535.5 L424.9,537.4 L421.4,542.1 L421.8,543.6 L422.2,544.8 L426.8,543.5 L427.3,545.6 L423.4,550 L423.7,551.6 L423.9,552.8 L428.5,552.1 L428.7,554.4 L424.6,558.3 L424.7,560.1 L424.8,561.4 L429.2,561.3 L429.3,563.6 L424.9,567.1 L424.9,569 L424.8,570.3 L429.1,570.8 L428.9,573.2 L424.4,576.3 L424.2,578.2 L424,579.5 L428,580.6 L427.6,583.1 L423,585.7 L422.6,587.5 L422.3,589 L426,590.6 L425.4,593.1 L420.7,595.1 L420.2,597 L419.7,598.5 L423.1,600.7 L422.3,603.2 L417.6,604.6 L416.9,606.5 L416.4,607.9 L419.4,610.6 L418.3,613.1 L413.8,614 L412.9,615.8 L412.2,617.2 L414.9,620.4 L413.6,622.8 L409.2,623.1 L408.2,624.9 L407.4,626.3 L409.6,629.9 L408.2,632.3 L403.9,632 L402.7,633.7 L401.9,635 L403.6,639.1 L402,641.3 L398,640.4 L396.7,642 L395.8,643.2 L397,647.6 L395.3,649.7 L391.5,648.2 L390.1,649.7 L389.1,650.8 L389.9,655.6 L388,657.5 L384.5,655.5 L383.1,656.8 L382,657.9 L382.3,662.9 L380.3,664.6 L377.2,662 L375.7,663.2 L374.5,664.1 L374.3,669.4 L372.3,670.9 L369.5,667.8 L368,668.8 L366.8,669.6 L366.1,675 L364,676.2 L361.6,672.7 L360,673.6 L358.8,674.2 L357.6,679.6 L355.5,680.7 L353.6,676.7 L352,677.4 L350.8,677.9 L349.1,683.3 L347,684.1 L345.6,679.7 L344,680.2 L342.8,680.6 L340.6,686 L338.5,686.5 L337.6,681.8 L336,682.1 L334.8,682.3 L332.2,687.6 L330.2,687.8 L329.7,682.8 L328.2,682.9 L327.1,683 L324.1,688.1 L322.1,688 L322.1,682.9 L320.7,682.7 L319.6,682.6 L316.2,687.5 L314.3,687.2 L314.9,681.9 L313.5,681.5 L312.4,681.3 L308.8,685.8 L307,685.3 L308,679.8 L306.7,679.3 L305.8,678.9 L301.8,683.1 L300.2,682.3 L301.7,676.8 L300.5,676.1 L299.6,675.5 L295.4,679.4 L293.9,678.3 L295.9,672.8 L294.9,671.9 L294.1,671.2 L289.7,674.6 L288.4,673.3 L290.8,668 L289.9,666.9 L289.2,666.1 L284.7,669 L283.5,667.4 L286.4,662.2 L285.6,661 L285,660 L280.4,662.4 L279.5,660.7 L282.7,655.7 L282.1,654.3 L281.6,653.3 L277,655.1 L276.3,653.2 L279.8,648.5 L279.4,647 L279,645.8 L274.4,647.1 L273.9,645 L277.8,640.6 L277.5,639 L277.3,637.8 L272.7,638.5 L272.5,636.2 L276.6,632.3 L276.5,630.5 L276.4,629.2 L272,629.3 L271.9,627 L276.3,623.5 L276.3,621.6 L276.4,620.3 L272.1,619.8 L272.3,617.4 L276.8,614.3 L277,612.4 L277.2,611.1 L273.2,610 L273.6,607.5 L278.2,604.9 L278.6,603.1 L278.9,601.6 L275.2,600 L275.8,597.5 L280.5,595.5 L281,593.6 L281.5,592.1 L278.1,589.9 L278.9,587.4 L283.6,586 L284.3,584.1 L284.8,582.7 L281.8,580 L282.9,577.5 L287.4,576.6 L288.3,574.8 L289,573.4 L286.3,570.2 L287.6,567.8 L292,567.5 L293,565.7 L293.8,564.3 L291.6,560.7 L293,558.3 L297.3,558.6 L298.5,556.9 L299.3,555.6 L297.6,551.5 L299.2,549.3 L303.2,550.2 L304.5,548.6 L305.4,547.4 L304.2,543 L305.9,540.9 L309.7,542.4 L311.1,540.9 L312.1,539.8 L311.3,535 L313.2,533.1 L316.7,535.1 L318.1,533.8 L319.2,532.7 L318.9,527.7 L320.9,526 L324,528.6 L325.5,527.4 L326.7,526.5 L326.9,521.2 L328.9,519.7 L331.7,522.8 L333.2,521.8 L334.4,521 L335.1,515.6 L337.2,514.4 L339.6,517.9 L341.2,517 L342.4,516.4 L343.6,511 L345.7,509.9 L347.6,513.9 L349.2,513.2 L350.4,512.7 L352.1,507.3 L354.2,506.5 L355.6,510.9 L357.2,510.4 L358.4,510 L360.6,504.6 L362.7,504.1 L363.6,508.8 L365.2,508.5 L366.4,508.3 L369,503 L371,502.8 L371.5,507.8 L373,507.7 L374.1,507.6 L377.1,502.5 L379.1,502.6 L379.1,507.7 L380.5,507.9 L381.6,508 L385,503.1 L386.9,503.4 L386.3,508.7 L387.7,509.1 L388.8,509.3 L392.4,504.8 L394.2,505.3 L393.2,510.8 L394.5,511.3 L395.4,511.7 L399.4,507.5 L401,508.3 L399.5,513.8Z" stroke="#000" stroke-width="1.3" fill="#fff" stroke-linejoin="round" stroke-linecap="round"/>
<path d="M294.4,677.2 L294.5,677 Q294.9,675.9 295.9,676.4 L309.8,684.3 Q310.9,684.9 311.8,685.6 L312.1,685.8 Q313.1,686.5 312.2,687.2 L312,687.4 Q311.1,688.2 310.1,687.6 L296.2,679.7 Q295.1,679.2 294.6,678.8 L294.5,678.7 Q294,678.4 294.4,677.2Z" stroke="#000" stroke-width="1.3" fill="#fff" stroke-linejoin="round" stroke-linecap="round"/>
<path d="M297.5,679.9 L309.2,686.4" stroke="#000" stroke-width="0.9" fill="none" stroke-linejoin="round" stroke-linecap="round"/>
<path d="M288.9,672.3 L289,672 Q289.5,670.9 290.6,671.5 L304.5,679.3 Q305.5,679.9 306.4,680.8 L306.6,681 Q307.5,681.9 306.5,682.6 L306.3,682.7 Q305.4,683.4 304.4,682.8 L290.5,675 Q289.4,674.4 289,673.9 L288.9,673.8 Q288.5,673.4 288.9,672.3Z" stroke="#000" stroke-width="1.3" fill="#fff" stroke-linejoin="round" stroke-linecap="round"/>
<path d="M291.9,675.1 L303.5,681.6" stroke="#000" stroke-width="0.9" fill="none" stroke-linejoin="round" stroke-linecap="round"/>
<path d="M284.2,666.5 L284.3,666.2 Q284.9,665.1 285.9,665.7 L299.8,673.5 Q300.9,674.1 301.6,675.1 L301.8,675.4 Q302.5,676.4 301.6,677 L301.4,677.1 Q300.4,677.7 299.4,677.1 L285.5,669.2 Q284.4,668.7 284.1,668.2 L284,668 Q283.6,667.5 284.2,666.5Z" stroke="#000" stroke-width="1.3" fill="#fff" stroke-linejoin="round" stroke-linecap="round"/>
<path d="M286.9,669.3 L298.6,675.9" stroke="#000" stroke-width="0.9" fill="none" stroke-linejoin="round" stroke-linecap="round"/>
<path d="M280.2,659.8 L280.3,659.5 Q281,658.5 282,659.1 L295.9,666.9 Q297,667.5 297.5,668.5 L297.8,669 Q298.4,670.1 297.4,670.5 L297.2,670.6 Q296.2,671.1 295.2,670.5 L281.3,662.7 Q280.2,662.1 279.9,661.5 L279.8,661.4 Q279.5,660.8 280.2,659.8Z" stroke="#000" stroke-width="1.3" fill="#fff" stroke-linejoin="round" stroke-linecap="round"/>
<path d="M282.8,662.8 L294.5,669.3" stroke="#000" stroke-width="0.9" fill="none" stroke-linejoin="round" stroke-linecap="round"/>
<path d="M277,652.4 L277.2,652.1 Q277.9,651.1 278.9,651.7 L292.8,659.5 Q293.9,660.1 294.3,661.2 L294.5,661.9 Q295,663 294,663.3 L293.8,663.4 Q292.8,663.7 291.8,663.1 L277.9,655.3 Q276.8,654.7 276.6,654.1 L276.5,654 Q276.3,653.3 277,652.4Z" stroke="#000" stroke-width="1.3" fill="#fff" stroke-linejoin="round" stroke-linecap="round"/>
<path d="M279.4,655.4 L291.1,662" stroke="#000" stroke-width="0.9" fill="none" stroke-linejoin="round" stroke-linecap="round"/>
<path d="M274.7,644.2 L274.9,644 Q275.7,643.1 276.7,643.7 L290.6,651.5 Q291.7,652.1 292,653.3 L292.1,654 Q292.4,655.2 291.5,655.4 L291.3,655.5 Q290.3,655.7 289.3,655.1 L275.3,647.3 Q274.3,646.7 274.1,646 L274.1,645.8 Q273.9,645.2 274.7,644.2Z" stroke="#000" stroke-width="1.3" fill="#fff" stroke-linejoin="round" stroke-linecap="round"/>
<path d="M277,647.4 L288.7,653.9" stroke="#000" stroke-width="0.9" fill="none" stroke-linejoin="round" stroke-linecap="round"/>
<path d="M273.3,635.6 L273.5,635.4 Q274.3,634.5 275.4,635.1 L289.3,642.9 Q290.3,643.5 290.5,644.7 L290.6,645.6 Q290.7,646.8 289.8,646.9 L289.6,646.9 Q288.7,647 287.6,646.4 L273.7,638.6 Q272.7,638 272.6,637.3 L272.6,637.1 Q272.5,636.4 273.3,635.6Z" stroke="#000" stroke-width="1.3" fill="#fff" stroke-linejoin="round" stroke-linecap="round"/>
<path d="M275.4,638.7 L287.1,645.3" stroke="#000" stroke-width="0.9" fill="none" stroke-linejoin="round" stroke-linecap="round"/>
<path d="M272.8,626.4 L273,626.2 Q273.9,625.5 274.9,626 L288.8,633.9 Q289.9,634.5 289.9,635.7 L289.9,636.7 Q290,637.9 289.1,637.9 L288.9,637.9 Q288,637.9 286.9,637.3 L273,629.5 Q272,628.9 271.9,628.1 L271.9,627.9 Q271.9,627.2 272.8,626.4Z" stroke="#000" stroke-width="1.3" fill="#fff" stroke-linejoin="round" stroke-linecap="round"/>
<path d="M274.7,629.6 L286.4,636.2" stroke="#000" stroke-width="0.9" fill="none" stroke-linejoin="round" stroke-linecap="round"/>
<path d="M272.2,618.5 L272.2,618.4 Q272.3,617.6 273.2,616.9 L273.4,616.7 Q274.4,616.1 275.4,616.6 L289.3,624.5 Q290.4,625.1 290.3,626.3 L290.2,627.5 Q290.1,628.7 289.2,628.5 L289,628.5 Q288.2,628.3 287.1,627.7 L273.2,619.9 Q272.2,619.3 272.2,618.5Z" stroke="#000" stroke-width="1.3" fill="#fff" stroke-linejoin="round" stroke-linecap="round"/>
<path d="M275,620.1 L286.7,626.6" stroke="#000" stroke-width="0.9" fill="none" stroke-linejoin="round" stroke-linecap="round"/>
<path d="M273.4,608.7 L273.5,608.5 Q273.6,607.7 274.5,607.1 L274.7,607 Q275.7,606.4 276.7,607 L290.6,614.8 Q291.7,615.4 291.5,616.6 L291.3,617.9 Q291.1,619.1 290.3,618.8 L290.1,618.8 Q289.3,618.5 288.3,617.9 L274.3,610.1 Q273.3,609.5 273.4,608.7Z" stroke="#000" stroke-width="1.3" fill="#fff" stroke-linejoin="round" stroke-linecap="round"/>
<path d="M276.2,610.3 L287.8,616.8" stroke="#000" stroke-width="0.9" fill="none" stroke-linejoin="round" stroke-linecap="round"/>
<path d="M275.5,598.7 L275.6,598.5 Q275.8,597.7 276.7,597.2 L277,597.1 Q277.9,596.6 279,597.2 L292.9,605.1 Q293.9,605.6 293.6,606.8 L293.3,608.2 Q293,609.4 292.2,609 L292.1,608.9 Q291.3,608.5 290.3,607.9 L276.4,600.1 Q275.3,599.5 275.5,598.7Z" stroke="#000" stroke-width="1.3" fill="#fff" stroke-linejoin="round" stroke-linecap="round"/>
<path d="M278.2,600.3 L289.9,606.9" stroke="#000" stroke-width="0.9" fill="none" stroke-linejoin="round" stroke-linecap="round"/>
<path d="M278.5,588.6 L278.6,588.5 Q278.9,587.6 279.8,587.3 L280,587.2 Q281,586.9 282,587.4 L296,595.3 Q297,595.9 296.6,597 L296.1,598.4 Q295.7,599.6 294.7,599 L280.8,591.2 Q279.7,590.6 279.1,590.1 L278.9,590 Q278.2,589.5 278.5,588.6Z" stroke="#000" stroke-width="1.3" fill="#fff" stroke-linejoin="round" stroke-linecap="round"/>
<path d="M281.2,590.3 L292.9,596.9" stroke="#000" stroke-width="0.9" fill="none" stroke-linejoin="round" stroke-linecap="round"/>
<path d="M282.4,578.7 L282.4,578.5 Q282.8,577.7 283.7,577.5 L283.9,577.4 Q284.9,577.2 285.9,577.8 L299.8,585.6 Q300.9,586.2 300.4,587.3 L299.8,588.7 Q299.3,589.8 298.3,589.2 L284.4,581.4 Q283.3,580.8 282.7,580.2 L282.6,580.1 Q282,579.5 282.4,578.7Z" stroke="#000" stroke-width="1.3" fill="#fff" stroke-linejoin="round" stroke-linecap="round"/>
<path d="M285,580.4 L296.6,587" stroke="#000" stroke-width="0.9" fill="none" stroke-linejoin="round" stroke-linecap="round"/>
<path d="M287,568.9 L287.1,568.7 Q287.5,567.9 288.4,567.8 L288.6,567.8 Q289.6,567.7 290.6,568.3 L304.5,576.1 Q305.6,576.7 305,577.8 L304.3,579.2 Q303.7,580.3 302.7,579.7 L288.7,571.8 Q287.7,571.3 287.2,570.5 L287.1,570.4 Q286.6,569.7 287,568.9Z" stroke="#000" stroke-width="1.3" fill="#fff" stroke-linejoin="round" stroke-linecap="round"/>
<path d="M289.5,570.7 L301.2,577.2" stroke="#000" stroke-width="0.9" fill="none" stroke-linejoin="round" stroke-linecap="round"/>
<path d="M292.4,559.4 L292.5,559.3 Q292.9,558.5 293.8,558.5 L294,558.5 Q294.9,558.5 296,559.1 L309.9,567 Q310.9,567.5 310.3,568.6 L309.4,570 Q308.8,571 307.8,570.4 L293.9,562.6 Q292.8,562 292.4,561.2 L292.3,561 Q291.9,560.2 292.4,559.4Z" stroke="#000" stroke-width="1.3" fill="#fff" stroke-linejoin="round" stroke-linecap="round"/>
<path d="M294.9,561.2 L306.6,567.8" stroke="#000" stroke-width="0.9" fill="none" stroke-linejoin="round" stroke-linecap="round"/>
<path d="M298.4,550.4 L298.5,550.2 Q299.1,549.5 299.9,549.7 L300.1,549.7 Q301,549.8 302,550.4 L315.9,558.2 Q317,558.8 316.3,559.8 L315.3,561.1 Q314.6,562.1 313.6,561.5 L299.7,553.7 Q298.6,553.1 298.3,552.2 L298.2,552 Q297.9,551.1 298.4,550.4Z" stroke="#000" stroke-width="1.3" fill="#fff" stroke-linejoin="round" stroke-linecap="round"/>
<path d="M300.9,552.2 L312.6,558.8" stroke="#000" stroke-width="0.9" fill="none" stroke-linejoin="round" stroke-linecap="round"/>
<path d="M305.1,541.9 L305.2,541.7 Q305.8,541.1 306.6,541.3 L306.8,541.4 Q307.6,541.6 308.6,542.2 L322.5,550 Q323.6,550.6 322.8,551.5 L321.8,552.8 Q321,553.7 320,553.1 L306.1,545.3 Q305,544.7 304.8,543.7 L304.7,543.5 Q304.5,542.5 305.1,541.9Z" stroke="#000" stroke-width="1.3" fill="#fff" stroke-linejoin="round" stroke-linecap="round"/>
<path d="M307.5,543.7 L319.2,550.3" stroke="#000" stroke-width="0.9" fill="none" stroke-linejoin="round" stroke-linecap="round"/>
<path d="M312.3,534 L312.4,533.9 Q313,533.2 313.8,533.6 L314,533.7 Q314.7,534.1 315.8,534.7 L329.7,542.5 Q330.7,543.1 329.9,543.9 L328.8,545 Q327.9,545.9 326.9,545.3 L313,537.4 Q311.9,536.9 311.8,535.8 L311.8,535.6 Q311.7,534.6 312.3,534Z" stroke="#000" stroke-width="1.3" fill="#fff" stroke-linejoin="round" stroke-linecap="round"/>
<path d="M314.7,535.9 L326.3,542.4" stroke="#000" stroke-width="0.9" fill="none" stroke-linejoin="round" stroke-linecap="round"/>
<path d="M320,526.8 L320.1,526.7 Q320.7,526.1 321.8,526.7 L335.7,534.6 Q336.7,535.1 337.4,535.6 L337.6,535.7 Q338.2,536.2 337.3,537 L336.2,538 Q335.3,538.7 334.3,538.2 L320.4,530.3 Q319.3,529.7 319.3,528.7 L319.3,528.4 Q319.3,527.4 320,526.8Z" stroke="#000" stroke-width="1.3" fill="#fff" stroke-linejoin="round" stroke-linecap="round"/>
<path d="M322.3,528.7 L333.9,535.3" stroke="#000" stroke-width="0.9" fill="none" stroke-linejoin="round" stroke-linecap="round"/>
<path d="M327.2,522.3 L327.2,522 Q327.3,520.9 328,520.5 L328.1,520.3 Q328.8,519.9 329.8,520.5 L343.7,528.3 Q344.8,528.9 345.4,529.5 L345.5,529.6 Q346.1,530.2 345.1,530.9 L344.1,531.7 Q343.1,532.4 342,531.8 L328.1,524 Q327.1,523.4 327.2,522.3Z" stroke="#000" stroke-width="1.3" fill="#fff" stroke-linejoin="round" stroke-linecap="round"/>
<path d="M330.2,522.4 L341.9,528.9" stroke="#000" stroke-width="0.9" fill="none" stroke-linejoin="round" stroke-linecap="round"/>
<path d="M335.3,516.7 L335.4,516.5 Q335.6,515.4 336.2,515 L336.4,514.9 Q337.1,514.5 338.1,515.1 L352,522.9 Q353.1,523.5 353.6,524.2 L353.7,524.3 Q354.2,525 353.2,525.6 L352.2,526.3 Q351.1,526.9 350.1,526.3 L336.2,518.5 Q335.1,517.9 335.3,516.7Z" stroke="#000" stroke-width="1.3" fill="#fff" stroke-linejoin="round" stroke-linecap="round"/>
<path d="M338.5,516.9 L350.1,523.4" stroke="#000" stroke-width="0.9" fill="none" stroke-linejoin="round" stroke-linecap="round"/>
<path d="M343.6,512.1 L343.7,511.9 Q344,510.7 344.7,510.4 L344.8,510.3 Q345.5,510 346.6,510.6 L360.5,518.4 Q361.5,519 362,519.8 L362.1,520 Q362.5,520.8 361.4,521.3 L360.4,521.8 Q359.3,522.3 358.3,521.7 L344.4,513.9 Q343.3,513.3 343.6,512.1Z" stroke="#000" stroke-width="1.3" fill="#fff" stroke-linejoin="round" stroke-linecap="round"/>
<path d="M346.9,512.3 L358.5,518.9" stroke="#000" stroke-width="0.9" fill="none" stroke-linejoin="round" stroke-linecap="round"/>
<path d="M352,508.5 L352.1,508.2 Q352.5,507.1 353.2,506.9 L353.4,506.8 Q354.1,506.6 355.1,507.1 L369,515 Q370.1,515.6 370.4,516.4 L370.5,516.6 Q370.8,517.5 369.7,517.9 L368.8,518.2 Q367.6,518.6 366.6,518 L352.7,510.2 Q351.6,509.6 352,508.5Z" stroke="#000" stroke-width="1.3" fill="#fff" stroke-linejoin="round" stroke-linecap="round"/>
<path d="M355.3,508.7 L367,515.3" stroke="#000" stroke-width="0.9" fill="none" stroke-linejoin="round" stroke-linecap="round"/>
<path d="M360.4,505.9 L360.5,505.6 Q361,504.5 361.7,504.3 L361.8,504.3 Q362.5,504.1 363.6,504.7 L377.5,512.6 Q378.5,513.1 378.8,514.1 L378.8,514.3 Q379.1,515.2 377.9,515.5 L377.1,515.7 Q375.9,516 374.9,515.4 L361,507.6 Q359.9,507 360.4,505.9Z" stroke="#000" stroke-width="1.3" fill="#fff" stroke-linejoin="round" stroke-linecap="round"/>
<path d="M363.8,506.2 L375.5,512.8" stroke="#000" stroke-width="0.9" fill="none" stroke-linejoin="round" stroke-linecap="round"/>
<path d="M368.7,504.3 L368.8,504 Q369.4,503 370.1,502.9 L370.2,502.9 Q370.9,502.8 371.9,503.4 L385.8,511.2 Q386.9,511.8 387,512.8 L387,513 Q387.2,514 386,514.2 L385.3,514.3 Q384.1,514.4 383.1,513.8 L369.1,506 Q368.1,505.4 368.7,504.3Z" stroke="#000" stroke-width="1.3" fill="#fff" stroke-linejoin="round" stroke-linecap="round"/>
<path d="M372.1,504.7 L383.8,511.3" stroke="#000" stroke-width="0.9" fill="none" stroke-linejoin="round" stroke-linecap="round"/>
<path d="M376.7,503.8 L376.9,503.5 Q377.5,502.5 378.2,502.5 L378.3,502.5 Q379,502.6 380,503.1 L393.9,511 Q395,511.6 395,512.6 L395,512.8 Q395,513.9 393.8,513.9 L393.3,513.9 Q392.1,513.8 391,513.2 L377.1,505.4 Q376.1,504.8 376.7,503.8Z" stroke="#000" stroke-width="1.3" fill="#fff" stroke-linejoin="round" stroke-linecap="round"/>
<path d="M380.2,504.3 L391.9,510.9" stroke="#000" stroke-width="0.9" fill="none" stroke-linejoin="round" stroke-linecap="round"/>
<path d="M384.5,504.4 L384.7,504.1 Q385.4,503.1 386,503.3 L386.1,503.3 Q386.7,503.4 387.8,504 L401.7,511.8 Q402.7,512.4 402.7,513.5 L402.6,513.7 Q402.6,514.8 401.4,514.6 L400.9,514.5 Q399.8,514.4 398.7,513.8 L384.8,505.9 Q383.8,505.4 384.5,504.4Z" stroke="#000" stroke-width="1.3" fill="#fff" stroke-linejoin="round" stroke-linecap="round"/>
<path d="M388,505 L399.7,511.6" stroke="#000" stroke-width="0.9" fill="none" stroke-linejoin="round" stroke-linecap="round"/>
<path d="M391.8,506 L392,505.8 Q392.8,504.9 393.4,505.1 L393.5,505.1 Q394.1,505.3 395.1,505.9 L409,513.7 Q410.1,514.3 409.9,515.4 L409.9,515.7 Q409.7,516.8 408.5,516.4 L408.2,516.3 Q407,515.9 406,515.3 L392.1,507.5 Q391,506.9 391.8,506Z" stroke="#000" stroke-width="1.3" fill="#fff" stroke-linejoin="round" stroke-linecap="round"/>
<path d="M395.3,506.8 L407,513.4" stroke="#000" stroke-width="0.9" fill="none" stroke-linejoin="round" stroke-linecap="round"/>
<path d="M398.7,508.7 L398.9,508.5 Q399.7,507.6 400.3,507.9 L400.4,508 Q400.9,508.2 402,508.8 L415.9,516.7 Q416.9,517.2 416.6,518.4 L416.6,518.6 Q416.3,519.8 415.2,519.2 L414.9,519.1 Q413.8,518.5 412.8,517.9 L398.9,510.1 Q397.8,509.5 398.7,508.7Z" stroke="#000" stroke-width="1.3" fill="#fff" stroke-linejoin="round" stroke-linecap="round"/>
<path d="M402.2,509.6 L413.9,516.2" stroke="#000" stroke-width="0.9" fill="none" stroke-linejoin="round" stroke-linecap="round"/>
<path d="M416.7,523.5 L417.5,524 L421.5,520 L422.8,521 L420.7,526.3 L421.7,527.1 L422.4,527.7 L426.6,524.1 L427.8,525.3 L425.3,530.5 L426.2,531.4 L426.8,532.1 L431.2,528.9 L432.2,530.2 L429.4,535.3 L430.1,536.4 L430.7,537.2 L435.2,534.4 L436.1,535.9 L432.9,540.8 L433.5,542 L434,542.8 L438.5,540.5 L439.3,542.2 L435.8,546.8 L436.3,548.1 L436.7,549.1 L441.2,547.2 L441.8,549 L438.1,553.4 L438.4,554.7 L438.7,555.8 L443.3,554.4 L443.7,556.3 L439.7,560.4 L439.9,561.8 L440.1,562.9 L444.6,562.1 L444.8,564.1 L440.7,567.8 L440.8,569.3 L440.8,570.5 L445.2,570.1 L445.3,572.2 L440.9,575.5 L440.9,577.1 L440.9,578.3 L445.1,578.5 L445,580.6 L440.6,583.6 L440.4,585.2 L440.3,586.4 L444.3,587.1 L444,589.3 L439.5,591.7 L439.2,593.4 L439,594.6 L442.8,595.8 L442.4,598 L437.8,600.1 L437.4,601.7 L437,603 L440.7,604.7 L440,606.9 L435.4,608.4 L434.9,610.1 L434.5,611.3 L437.8,613.5 L437,615.7 L432.5,616.7 L431.8,618.4 L431.3,619.6 L434.3,622.2 L433.3,624.4 L428.9,624.9 L428.1,626.5 L427.5,627.7 L430.2,630.8 L429.1,632.9 L424.7,632.9 L423.9,634.5 L423.2,635.7 L425.5,639.1 L424.2,641.2 L420.1,640.7 L419.1,642.2 L418.3,643.3 L420.3,647.1 L418.9,649.1 L414.9,648.1 L413.8,649.5 L413,650.6 L414.5,654.8 L413,656.6 L409.3,655.1 L408.2,656.4 L407.3,657.5 L408.4,661.9 L406.8,663.7 L403.4,661.7 L402.1,662.9 L401.2,663.8 L401.9,668.6 L400.2,670.2 L397.1,667.7 L395.8,668.8 L394.8,669.7 L395,674.7 L393.3,676.1 L390.5,673.2 L389.1,674.2 L388.1,674.9 L387.9,680.1 L386.1,681.3 L383.7,678 L382.3,678.9 L381.3,679.6 L380.6,684.8 L378.8,685.9 L376.7,682.2 L375.3,683 L374.3,683.5 L373.2,688.9 L371.3,689.7 L369.7,685.7 L368.3,686.3 L367.2,686.7 L365.7,692.1 L363.9,692.8 L362.6,688.4 L361.2,688.9 L360.1,689.2 L358.3,694.6 L356.4,695 L355.6,690.4 L354.2,690.7 L353.1,690.9 L350.9,696.2 L349,696.5 L348.6,691.6 L347.2,691.7 L346.2,691.8 L343.6,697 L341.8,697.1 L341.8,692 L340.5,692 L339.5,691.9 L336.6,697 L334.8,696.8 L335.3,691.6 L334,691.4 L333.1,691.3 L329.8,696.1 L328.1,695.7 L329,690.4 L327.8,690.1 L326.9,689.8 L323.3,694.4 L321.8,693.8 L323.1,688.5 L322,688 L321.1,687.6 L317.3,691.9 L315.8,691.1 L317.6,685.7 L314.4,688.5 L313.6,688 L312.5,687.3 L311.2,686.4 L310.2,685.6 L309.2,684.8 L308.4,684.1 L307.5,683.3 L306.3,682.2 L305.4,681.2 L304.5,680.3 L303.8,679.5 L303,678.5 L301.9,677.3 L301.1,676.2 L300.4,675.1 L299.8,674.3 L299.1,673.1 L298.2,671.7 L297.5,670.5 L296.8,669.3 L296.4,668.4 L295.8,667.1 L295,665.5 L294.5,664.2 L293.9,662.9 L293.6,661.9 L293.1,660.5 L292.5,658.8 L292.1,657.4 L291.7,656 L291.4,654.9 L291.1,653.4 L290.7,651.6 L290.4,650.1 L290.2,648.6 L290,647.4 L289.8,645.9 L289.6,643.9 L289.4,642.3 L289.3,640.8 L289.2,639.6 L289.2,637.9 L289.1,635.9 L289.1,634.3 L289.1,632.6 L289.2,631.4 L289.2,629.7 L289.4,627.6 L289.5,625.9 L289.7,624.2 L289.8,623 L290,621.2 L290.3,619.1 L290.6,617.4 L290.9,615.7 L291.1,614.4 L291.5,612.6 L292,610.5 L292.4,608.7 L292.8,607 L293.2,605.7 L293.7,603.9 L294.3,601.8 L294.8,600 L295.4,598.3 L295.9,597 L296.5,595.3 L297.3,593.1 L297.9,591.4 L298.6,589.7 L299.2,588.4 L299.9,586.7 L300.9,584.5 L301.7,582.8 L302.5,581.1 L303.1,579.9 L304,578.2 L305.1,576.1 L306,574.5 L306.9,572.8 L307.6,571.6 L308.6,570 L309.8,568 L310.9,566.4 L311.9,564.8 L312.7,563.7 L313.7,562.1 L315.1,560.2 L316.2,558.7 L317.4,557.2 L318.2,556.1 L319.4,554.6 L320.8,552.8 L322,551.4 L323.3,549.9 L324.2,548.9 L325.4,547.5 L327,545.8 L328.3,544.5 L329.6,543.2 L330.5,542.2 L331.9,541 L333.5,539.4 L334.9,538.2 L336.2,537 L337.2,536.1 L338.6,535 L340.3,533.6 L341.7,532.5 L343.1,531.4 L344.2,530.7 L345.6,529.6 L347.4,528.4 L348.8,527.5 L350.2,526.5 L351.3,525.9 L352.8,525 L354.6,523.9 L356.1,523.1 L357.5,522.3 L358.6,521.7 L360.1,521 L361.9,520.1 L363.4,519.5 L364.9,518.8 L366,518.4 L367.5,517.8 L369.3,517.1 L370.8,516.6 L372.2,516.2 L373.4,515.8 L374.8,515.4 L376.7,514.9 L378.1,514.6 L379.6,514.3 L380.7,514 L382.1,513.8 L383.9,513.5 L385.3,513.3 L386.8,513.2 L387.8,513.1 L389.3,513 L391,512.9 L392.4,512.9 L393.8,512.9 L394.8,513 L396.2,513 L397.9,513.2 L399.2,513.3 L400.6,513.5 L401.6,513.6 L402.9,513.9 L404.5,514.2 L405.8,514.5 L407,514.9 L408,515.2 L409.2,515.6 L410.7,516.1 L411.9,516.6 L411.2,520.6 L412.1,521 L415.9,516.7 L417.4,517.5 L415.6,522.9Z" stroke="#000" stroke-width="1.3" fill="#fff" stroke-linejoin="round" stroke-linecap="round"/>
<path d="M304.9,582.2 L315.8,575.4 Q320,572.7 323.7,569.4 L332,562 Q335.7,558.7 337.7,554.1 L340.7,547.6 Q342.7,543 346,539.2 L351.6,532.8 Q354.9,529 359.6,527.2 L364.2,525.5 Q368.9,523.7 373.6,524.5 L374.7,524.7 Q379.4,525.5 382.5,527.8 L383.2,528.4 Q386.4,530.7 389.5,533.1 L390.2,533.6 Q393.4,536 397.9,533.7 L399.4,533 Q403.9,530.7 408.8,529.5 L413,528.4 Q417.9,527.2 422.4,529.5 L423.9,530.2 Q428.4,532.5 429,537.5 L429.5,541.5 Q430.1,546.5 428.9,551.4 L427.8,555.6 Q426.6,560.5 425.9,565.5 L425.6,567.7 Q424.9,572.7 426.9,577.3 L428.1,580.3 Q430.1,584.9 430.1,589.9 L430.1,593.9 Q430.1,598.9 428.2,603.5 L426.8,606.6 Q424.9,611.2 421.9,615.2 L415,624 Q412,628 408.5,631.5 L403.5,636.5 Q400,640 397,643.6 L396.4,644.3 Q393.4,647.9 391.1,652.4 L390.4,653.9 Q388.1,658.4 387.3,663.1 L387.2,664.1 Q386.4,668.8 382.5,671.9 L381.6,672.7 Q377.7,675.8 372.7,675.8 L368.7,675.8 Q363.7,675.8 358.9,674.4 L356.2,673.7 Q351.4,672.3 346.7,673.1 L345.6,673.3 Q340.9,674.1 336.3,676.1 L333.3,677.3 Q328.7,679.3 323.7,678.6 L321.5,678.3 Q316.5,677.6 312.2,675.1 L308.5,673.1 Q304.2,670.6 302,666.1 L301.2,664.6 Q299,660.1 299.7,655.1 L300,652.9 Q300.7,647.9 302.3,643.2 L302.6,642.1 Q304.2,637.4 302.5,632.7 L300.7,628.1 Q299,623.4 297.9,618.5 L296.6,612.6 Q295.5,607.7 296.2,602.7 L296.5,600.4 Q297.2,595.4 298.8,590.7 L299.1,589.6 Q300.7,584.9 304.9,582.2Z" stroke="#000" stroke-width="1.5" fill="#fff" stroke-linejoin="round" stroke-linecap="round"/>
<path d="M300.5,603 L301.3,597 Q302,592 304.2,589.3 L304.8,588.7 Q307,586 311.2,583.2 L317.8,578.8 Q322,576 325.8,572.7 L334.2,565.3 Q338,562 340.1,557.5 L342.9,551.5 Q345,547 348.1,543.1 L352.9,536.9 Q356,533 360.5,530.9 L364.5,529.1 Q369,527 373.5,527.9 L379,529" stroke="#000" stroke-width="1.1" fill="none" stroke-linejoin="round" stroke-linecap="round"/>
<path d="M292,584 L296.4,580.7 Q300,578 304.4,575.5 L311.6,571.5 Q316,569 319.7,565.6 L326.3,559.4 Q330,556 332.2,551.5 L335.8,544.5 Q338,540 341.3,536.2 L346.7,529.8 Q350,526 354.6,524 L361.4,521 Q366,519 371,519.3 L381,520" stroke="#000" stroke-width="1.2" fill="none" stroke-linejoin="round" stroke-linecap="round"/>
<ellipse cx="366" cy="548.7" rx="3.5" ry="4.8" transform="rotate(-30 366 548.7)" stroke="#000" stroke-width="1.3" fill="none" stroke-linejoin="round" stroke-linecap="round"/>
<ellipse cx="410" cy="557" rx="6.5" ry="7.5" transform="rotate(-30 410 557)" stroke="#000" stroke-width="1.4" fill="none" stroke-linejoin="round" stroke-linecap="round"/>
<ellipse cx="321" cy="599" rx="6.5" ry="7.5" transform="rotate(-30 321 599)" stroke="#000" stroke-width="1.4" fill="none" stroke-linejoin="round" stroke-linecap="round"/>
<ellipse cx="320" cy="651.5" rx="6.5" ry="7.5" transform="rotate(-30 320 651.5)" stroke="#000" stroke-width="1.4" fill="none" stroke-linejoin="round" stroke-linecap="round"/>
<ellipse cx="364" cy="657.8" rx="3.5" ry="4.8" transform="rotate(-30 364 657.8)" stroke="#000" stroke-width="1.3" fill="none" stroke-linejoin="round" stroke-linecap="round"/>
<ellipse cx="370" cy="607" rx="29" ry="37" transform="rotate(28 370 607)" stroke="#000" stroke-width="1.5" fill="#fff" stroke-linejoin="round" stroke-linecap="round"/>
<path d="M351.8,634.6 L350.8,633.7 L349.9,632.7 L349,631.7 L348.2,630.5 L347.4,629.3 L346.8,628.1 L346.1,626.8 L345.6,625.5 L345.1,624.1 L344.7,622.6 L344.3,621.1 L344,619.6 L343.8,618.1 L343.7,616.5 L343.7,614.9 L343.7,613.3 L343.8,611.7 L344,610 L344.2,608.4 L344.5,606.7 L344.9,605.1 L345.4,603.4 L345.9,601.8 L346.5,600.2 L347.2,598.6 L348,597.1 L348.8,595.5 L349.6,594 L350.5,592.6 L351.5,591.2 L352.5,589.8 L353.6,588.5 L354.8,587.2 L355.9,586 L357.1,584.8 L358.4,583.8 L359.7,582.7 L361,581.8 L362.3,580.9 L363.7,580.1 L365.1,579.4 L366.5,578.7 L367.9,578.2 L369.3,577.7 L370.8,577.3 L372.2,576.9 L373.6,576.7 L375.1,576.6 L376.5,576.5 L377.9,576.5" stroke="#000" stroke-width="1.1" fill="none" stroke-linejoin="round" stroke-linecap="round"/>
<path d="M385.4,593.3 L386,593.8 L390.3,590.4 L392,592.2 L388.9,596.9 L389.5,598 L389.9,598.7 L394.7,597 L395.5,599.5 L391.2,603 L391.4,604.4 L391.5,605.3 L396.1,605.5 L395.9,608.4 L391.2,610.3 L390.8,611.7 L390.6,612.6 L394.5,614.7 L393.3,617.6 L388.6,617.6 L387.8,619 L387.3,619.8 L389.9,623.5 L387.9,625.9 L384,624 L382.8,625.1 L382.1,625.7 L383.1,630.5 L380.5,632.3 L377.8,628.7 L376.5,629.4 L375.7,629.7 L374.9,634.9 L372.1,635.7 L371.1,631 L369.7,631.1 L368.9,631.1 L366.4,636.1 L363.8,635.8 L364.5,630.6 L363.4,630.2 L362.7,629.9 L358.8,633.9 L356.8,632.6 L359.2,627.5 L358.3,626.6 L357.8,626 L353.2,628.6 L351.9,626.4 L355.7,622.2 L355.2,621 L355,620.2 L350.2,621 L349.9,618.2 L354.5,615.4 L354.6,614 L354.6,613.1 L350.3,611.9 L351,609 L355.8,608 L356.4,606.6 L356.8,605.7 L353.5,602.8 L355.1,600 L359.5,601 L360.4,599.8 L361.1,599 L359.3,594.7 L361.6,592.6 L364.9,595.4 L366.2,594.5 L367,594 L366.9,588.9 L369.6,587.6 L371.5,591.8 L372.9,591.4 L373.7,591.2 L375.4,586 L378.1,585.8 L378.3,590.9 L379.6,591 L380.3,591.2 L383.6,586.5 L385.9,587.4 L384.3,592.6Z" stroke="#000" stroke-width="1.3" fill="#fff" stroke-linejoin="round" stroke-linecap="round"/>
<path d="M376.9,643.3 L376.7,643.2 Q375.8,642.6 374.7,642 L357.8,633.1 Q356.8,632.6 357.7,633.2 L357.9,633.3 Q358.8,633.9 359.9,634.5 L376.8,643.4 Q377.8,643.9 376.9,643.3Z" stroke="#000" stroke-width="1.4" fill="#fff" stroke-linejoin="round" stroke-linecap="round"/>
<path d="M360.4,634.1 L375.6,642.1" stroke="#000" stroke-width="0.9" fill="none" stroke-linejoin="round" stroke-linecap="round"/>
<path d="M371.6,637.6 L371.5,637.4 Q370.9,636.4 369.8,635.8 L353,627 Q351.9,626.4 352.5,627.4 L352.6,627.6 Q353.2,628.6 354.2,629.2 L371.1,638.1 Q372.2,638.6 371.6,637.6Z" stroke="#000" stroke-width="1.4" fill="#fff" stroke-linejoin="round" stroke-linecap="round"/>
<path d="M355.1,628.6 L370.3,636.6" stroke="#000" stroke-width="0.9" fill="none" stroke-linejoin="round" stroke-linecap="round"/>
<path d="M369.1,629.8 L369,629.4 Q368.9,628.2 367.8,627.6 L350.9,618.7 Q349.9,618.2 350,619.4 L350.1,619.8 Q350.2,621 351.3,621.5 L368.1,630.4 Q369.2,631 369.1,629.8Z" stroke="#000" stroke-width="1.4" fill="#fff" stroke-linejoin="round" stroke-linecap="round"/>
<path d="M352.4,620.9 L367.6,628.9" stroke="#000" stroke-width="0.9" fill="none" stroke-linejoin="round" stroke-linecap="round"/>
<path d="M369.6,620.8 L369.7,620.1 Q370,619 368.9,618.4 L352.1,609.5 Q351,609 350.7,610.1 L350.6,610.8 Q350.3,611.9 351.4,612.5 L368.2,621.4 Q369.3,621.9 369.6,620.8Z" stroke="#000" stroke-width="1.4" fill="#fff" stroke-linejoin="round" stroke-linecap="round"/>
<path d="M352.8,612 L368,620" stroke="#000" stroke-width="0.9" fill="none" stroke-linejoin="round" stroke-linecap="round"/>
<path d="M373.1,611.7 L373.5,611.1 Q374.1,610 373,609.5 L356.1,600.6 Q355.1,600 354.5,601.1 L354.1,601.7 Q353.5,602.8 354.5,603.3 L371.4,612.2 Q372.5,612.8 373.1,611.7Z" stroke="#000" stroke-width="1.4" fill="#fff" stroke-linejoin="round" stroke-linecap="round"/>
<path d="M356.2,603.1 L371.4,611.1" stroke="#000" stroke-width="0.9" fill="none" stroke-linejoin="round" stroke-linecap="round"/>
<path d="M379.2,603.9 L379.7,603.4 Q380.6,602.6 379.5,602 L362.6,593.1 Q361.6,592.6 360.7,593.4 L360.2,593.9 Q359.3,594.7 360.3,595.3 L377.2,604.2 Q378.3,604.7 379.2,603.9Z" stroke="#000" stroke-width="1.4" fill="#fff" stroke-linejoin="round" stroke-linecap="round"/>
<path d="M362.1,595.4 L377.3,603.4" stroke="#000" stroke-width="0.9" fill="none" stroke-linejoin="round" stroke-linecap="round"/>
<path d="M387,598.4 L387.5,598.1 Q388.6,597.6 387.6,597.1 L370.7,588.2 Q369.6,587.6 368.5,588.1 L368,588.4 Q366.9,588.9 368,589.4 L384.9,598.3 Q385.9,598.9 387,598.4Z" stroke="#000" stroke-width="1.4" fill="#fff" stroke-linejoin="round" stroke-linecap="round"/>
<path d="M369.8,589.9 L385,597.9" stroke="#000" stroke-width="0.9" fill="none" stroke-linejoin="round" stroke-linecap="round"/>
<path d="M395.6,595.9 L395.9,595.9 Q397.1,595.8 396.1,595.3 L379.2,586.4 Q378.1,585.8 376.9,585.9 L376.6,585.9 Q375.4,586 376.5,586.6 L393.4,595.5 Q394.4,596 395.6,595.9Z" stroke="#000" stroke-width="1.4" fill="#fff" stroke-linejoin="round" stroke-linecap="round"/>
<path d="M378.1,587.4 L393.3,595.4" stroke="#000" stroke-width="0.9" fill="none" stroke-linejoin="round" stroke-linecap="round"/>
<path d="M403.6,596.9 L403.9,597 Q404.9,597.4 403.9,596.9 L387,588 Q385.9,587.4 384.9,587 L384.6,586.9 Q383.6,586.5 384.6,587.1 L401.5,596 Q402.6,596.5 403.6,596.9Z" stroke="#000" stroke-width="1.4" fill="#fff" stroke-linejoin="round" stroke-linecap="round"/>
<path d="M386,588.3 L401.2,596.3" stroke="#000" stroke-width="0.9" fill="none" stroke-linejoin="round" stroke-linecap="round"/>
<path d="M404.4,603.3 L405,603.8 L409.3,600.4 L411,602.2 L407.9,606.9 L408.5,608 L408.9,608.7 L413.7,607 L414.5,609.5 L410.2,613 L410.4,614.4 L410.5,615.3 L415.1,615.5 L414.9,618.4 L410.2,620.3 L409.8,621.7 L409.6,622.6 L413.5,624.7 L412.3,627.6 L407.6,627.6 L406.8,629 L406.3,629.8 L408.9,633.5 L406.9,635.9 L403,634 L401.8,635.1 L401.1,635.7 L402.1,640.5 L399.5,642.3 L396.8,638.7 L395.5,639.4 L394.7,639.7 L393.9,644.9 L391.1,645.7 L390.1,641 L388.7,641.1 L387.9,641.1 L385.4,646.1 L382.8,645.8 L383.5,640.6 L382.4,640.2 L381.7,639.9 L377.8,643.9 L375.8,642.6 L378.2,637.5 L377.3,636.6 L376.8,636 L372.2,638.6 L370.9,636.4 L374.7,632.2 L374.2,631 L374,630.2 L369.2,631 L368.9,628.2 L373.5,625.4 L373.6,624 L373.6,623.1 L369.3,621.9 L370,619 L374.8,618 L375.4,616.6 L375.8,615.7 L372.5,612.8 L374.1,610 L378.5,611 L379.4,609.8 L380.1,609 L378.3,604.7 L380.6,602.6 L383.9,605.4 L385.2,604.5 L386,604 L385.9,598.9 L388.6,597.6 L390.5,601.8 L391.9,601.4 L392.7,601.2 L394.4,596 L397.1,595.8 L397.3,600.9 L398.6,601 L399.3,601.2 L402.6,596.5 L404.9,597.4 L403.3,602.6Z" stroke="#000" stroke-width="1.3" fill="#fff" stroke-linejoin="round" stroke-linecap="round"/>
<path d="M366.9,624.2 L367.1,620.6 L367.8,617.1 L368.9,613.6 L370.6,610.3 L372.7,607.2 L375.2,604.4 L378.1,602 L381.2,599.9 L384.4,598.4 L387.8,597.4 L391.2,597 L394.5,597.1 L397.7,597.7 L400.6,598.9 L403.3,600.6 L406.3,602.6 L408.6,604.8 L410.4,607.3 L411.8,610.2 L412.7,613.4 L413.1,616.8 L412.9,620.4 L412.2,623.9 L411.1,627.4 L409.4,630.7 L407.3,633.8 L404.8,636.6 L401.9,639 L398.8,641.1 L395.6,642.6 L392.2,643.6 L388.8,644 L385.5,643.9 L382.3,643.3 L379.4,642.1 L376.7,640.4 L373.7,638.4 L371.4,636.2 L369.6,633.7 L368.2,630.8 L367.3,627.6Z" stroke="#000" stroke-width="1.7" fill="#fff" stroke-linejoin="round" stroke-linecap="round"/>
<ellipse cx="391.5" cy="621.5" rx="24" ry="20" transform="rotate(-52 391.5 621.5)" stroke="#000" stroke-width="1.7" fill="#fff" stroke-linejoin="round" stroke-linecap="round"/>
<ellipse cx="392.5" cy="622" rx="15.5" ry="12.5" transform="rotate(-55 392.5 622)" stroke="#000" stroke-width="1.5" fill="#fff" stroke-linejoin="round" stroke-linecap="round"/>
<path d="M396.2,632.5 L395.7,632.9 L395.1,633.1 L394.5,633.4 L393.9,633.6 L393.3,633.8 L392.7,633.9 L392.1,634.1 L391.5,634.2 L390.9,634.2 L390.3,634.2 L389.8,634.2 L389.2,634.2 L388.6,634.1 L388.1,634 L387.5,633.8 L387,633.7 L386.5,633.5 L386,633.2 L385.5,632.9 L385,632.6 L384.6,632.3 L384.2,632 L383.8,631.6 L383.4,631.2 L383.1,630.7 L382.8,630.3 L382.5,629.8 L382.2,629.3 L382,628.8 L381.7,628.2 L381.6,627.7 L381.4,627.1 L381.3,626.5 L381.2,625.9 L381.1,625.3 L381.1,624.6 L381.1,624 L381.2,623.4 L381.2,622.7 L381.3,622.1 L381.5,621.5 L381.6,620.8 L381.8,620.2 L382,619.6 L382.3,618.9 L382.5,618.3 L382.8,617.7 L383.2,617.1 L383.5,616.5 L383.9,616 L384.3,615.4 L384.7,614.9 L385.2,614.4 L385.6,613.9 L386.1,613.4 L386.6,613 L387.1,612.6 L387.7,612.2 L388.2,611.8 L388.8,611.5" stroke="#000" stroke-width="1.0" fill="none" stroke-linejoin="round" stroke-linecap="round"/>
<path d="M393.8,631.5 L393.3,631.7 L392.8,631.9 L392.3,632 L391.8,632.1 L391.3,632.2 L390.8,632.2 L390.3,632.2 L389.9,632.2 L389.4,632.2 L388.9,632.1 L388.5,632 L388,631.9 L387.6,631.8 L387.2,631.6 L386.8,631.4 L386.4,631.2 L386,630.9 L385.7,630.6 L385.4,630.3 L385,630 L384.7,629.6 L384.5,629.3 L384.2,628.9 L384,628.5 L383.8,628 L383.6,627.6 L383.5,627.1 L383.4,626.7 L383.3,626.2 L383.2,625.7 L383.1,625.2 L383.1,624.6 L383.1,624.1 L383.1,623.6 L383.2,623.1 L383.3,622.5 L383.4,622 L383.5,621.4 L383.7,620.9 L383.8,620.4 L384.1,619.8 L384.3,619.3 L384.5,618.8 L384.8,618.3 L385.1,617.8 L385.4,617.3 L385.7,616.8 L386.1,616.4 L386.5,615.9 L386.9,615.5 L387.3,615.1 L387.7,614.7 L388.1,614.3" stroke="#000" stroke-width="1.0" fill="none" stroke-linejoin="round" stroke-linecap="round"/>
<path d="M406.4,605.6 L410.6,604.4 Q412,604 412.4,605.5 L413.6,610.5 Q414,612 412.8,612.9 L410.2,615.1 Q409,616 407.8,615.1 L406.2,613.9 Q405,613 405,611.5 L405,607.5 Q405,606 406.4,605.6Z" stroke="#000" stroke-width="1.3" fill="#fff" stroke-linejoin="round" stroke-linecap="round"/>
<path d="M690.8,546.8 L689,544.9 L687.3,542.8 L685.8,540.7 L684.3,538.4 L682.9,536 L681.7,533.5 L680.6,530.8 L679.6,528.1 L678.8,525.2 L678.1,522.3 L677.5,519.3 L677.1,516.2 L676.8,513 L676.7,509.8 L676.6,506.5 L676.8,503.2 L677,499.8 L677.4,496.4 L677.9,492.9 L678.6,489.5 L679.4,486 L680.3,482.5 L681.4,479 L682.6,475.6 L683.9,472.2 L685.3,468.8 L686.9,465.4 L688.6,462.1 L690.3,458.8 L692.2,455.6 L694.2,452.4 L696.3,449.4 L698.5,446.4 L700.8,443.5 L703.1,440.6 L705.6,437.9 L708.1,435.3 L710.6,432.8 L713.3,430.5 L716,428.2 L718.7,426.1 L721.5,424.1 L724.3,422.3 L727.1,420.6 L730,419 L732.9,417.6 L735.8,416.3 L738.7,415.2 L741.6,414.3 L744.5,413.5 L747.3,412.9 L750.2,412.4 L753,412.1 L755.8,412 L758.5,412 L761.2,412.2 L763.8,412.6 L766.4,413.1 L768.9,413.8 L771.4,414.7 L744.4,404.7 L741.9,403.8 L739.4,403.1 L736.8,402.6 L734.2,402.2 L731.5,402 L728.8,402 L726,402.1 L723.2,402.4 L720.3,402.9 L717.5,403.5 L714.6,404.3 L711.7,405.2 L708.8,406.3 L705.9,407.6 L703,409 L700.1,410.6 L697.3,412.3 L694.5,414.1 L691.7,416.1 L689,418.2 L686.3,420.5 L683.6,422.8 L681.1,425.3 L678.6,427.9 L676.1,430.6 L673.8,433.5 L671.5,436.4 L669.3,439.4 L667.2,442.4 L665.2,445.6 L663.3,448.8 L661.6,452.1 L659.9,455.4 L658.3,458.8 L656.9,462.2 L655.6,465.6 L654.4,469 L653.3,472.5 L652.4,476 L651.6,479.5 L650.9,482.9 L650.4,486.4 L650,489.8 L649.8,493.2 L649.6,496.5 L649.7,499.8 L649.8,503 L650.1,506.2 L650.5,509.3 L651.1,512.3 L651.8,515.2 L652.6,518.1 L653.6,520.8 L654.7,523.5 L655.9,526 L657.3,528.4 L658.8,530.7 L660.3,532.8 L662,534.9 L663.8,536.8Z" stroke="#000" stroke-width="1.5" fill="#1a1a1a" stroke-linejoin="round" stroke-linecap="round"/>
<path d="M684.4,549.4 L680.4,544 Q679.5,542.8 678.1,542.3 L653.9,533.3 Q652.5,532.8 653.4,534 L657.4,539.4 Q658.3,540.6 659.7,541.1 L683.8,550 Q685.3,550.6 684.4,549.4Z" stroke="#000" stroke-width="1.8" fill="#353535" stroke-linejoin="round" stroke-linecap="round"/>
<path d="M676.8,537.2 L674.2,530.2 Q673.7,528.8 672.3,528.3 L648.1,519.3 Q646.7,518.8 647.2,520.2 L649.8,527.2 Q650.3,528.6 651.7,529.2 L675.9,538.1 Q677.3,538.6 676.8,537.2Z" stroke="#000" stroke-width="1.8" fill="#353535" stroke-linejoin="round" stroke-linecap="round"/>
<path d="M672.4,522.3 L671.5,514 Q671.4,512.5 670,511.9 L645.8,503 Q644.4,502.5 644.5,504 L645.4,512.3 Q645.6,513.8 647,514.3 L671.2,523.3 Q672.6,523.8 672.4,522.3Z" stroke="#000" stroke-width="1.8" fill="#353535" stroke-linejoin="round" stroke-linecap="round"/>
<path d="M671.5,505.4 L672.5,496.1 Q672.6,494.6 671.2,494.1 L647,485.1 Q645.6,484.6 645.5,486.1 L644.5,495.4 Q644.4,496.9 645.8,497.4 L670,506.4 Q671.4,506.9 671.5,505.4Z" stroke="#000" stroke-width="1.8" fill="#353535" stroke-linejoin="round" stroke-linecap="round"/>
<path d="M674.1,487.3 L676.9,477.7 Q677.3,476.3 675.9,475.7 L651.7,466.8 Q650.3,466.3 649.9,467.7 L647.1,477.3 Q646.7,478.8 648.1,479.3 L672.3,488.2 Q673.7,488.8 674.1,487.3Z" stroke="#000" stroke-width="1.8" fill="#353535" stroke-linejoin="round" stroke-linecap="round"/>
<path d="M680.2,469.1 L684.6,459.7 Q685.3,458.3 683.8,457.8 L659.7,448.9 Q658.3,448.3 657.6,449.7 L653.2,459.1 Q652.5,460.4 653.9,460.9 L678.1,469.9 Q679.5,470.4 680.2,469.1Z" stroke="#000" stroke-width="1.8" fill="#353535" stroke-linejoin="round" stroke-linecap="round"/>
<path d="M689.3,451.6 L695.2,443.1 Q696,441.9 694.6,441.3 L670.4,432.4 Q669,431.9 668.2,433.1 L662.3,441.6 Q661.4,442.9 662.8,443.4 L687,452.3 Q688.4,452.9 689.3,451.6Z" stroke="#000" stroke-width="1.8" fill="#353535" stroke-linejoin="round" stroke-linecap="round"/>
<path d="M701,436 L708,428.8 Q709,427.7 707.6,427.2 L683.4,418.2 Q682,417.7 681,418.8 L674,426 Q673,427 674.4,427.6 L698.5,436.5 Q700,437 701,436Z" stroke="#000" stroke-width="1.8" fill="#353535" stroke-linejoin="round" stroke-linecap="round"/>
<path d="M714.7,422.9 L722.3,417.5 Q723.5,416.6 722.1,416.1 L697.9,407.1 Q696.5,406.6 695.3,407.5 L687.7,412.9 Q686.5,413.8 687.9,414.3 L712.1,423.2 Q713.5,423.8 714.7,422.9Z" stroke="#000" stroke-width="1.8" fill="#353535" stroke-linejoin="round" stroke-linecap="round"/>
<path d="M729.7,413.2 L737.4,409.8 Q738.8,409.2 737.4,408.7 L713.2,399.7 Q711.8,399.2 710.4,399.8 L702.7,403.2 Q701.4,403.8 702.8,404.3 L727,413.3 Q728.4,413.8 729.7,413.2Z" stroke="#000" stroke-width="1.8" fill="#353535" stroke-linejoin="round" stroke-linecap="round"/>
<path d="M745.2,407.4 L752.5,406.1 Q754,405.8 752.6,405.3 L728.4,396.4 Q727,395.8 725.5,396.1 L718.2,397.4 Q716.7,397.7 718.1,398.2 L742.3,407.1 Q743.7,407.7 745.2,407.4Z" stroke="#000" stroke-width="1.8" fill="#353535" stroke-linejoin="round" stroke-linecap="round"/>
<path d="M760.2,405.8 L766.8,406.6 Q768.3,406.8 766.9,406.2 L742.7,397.3 Q741.3,396.8 739.8,396.6 L733.2,395.8 Q731.7,395.7 733.1,396.2 L757.3,405.1 Q758.7,405.7 760.2,405.8Z" stroke="#000" stroke-width="1.8" fill="#353535" stroke-linejoin="round" stroke-linecap="round"/>
<path d="M773.9,408.6 L779.6,411.2 Q780.9,411.9 779.5,411.4 L755.3,402.4 Q753.9,401.9 752.6,401.2 L746.9,398.6 Q745.5,398 746.9,398.5 L771.1,407.4 Q772.5,408 773.9,408.6Z" stroke="#000" stroke-width="1.8" fill="#353535" stroke-linejoin="round" stroke-linecap="round"/>
<ellipse cx="737.4" cy="484.8" rx="96.5" ry="66.4" transform="rotate(-60 737.4 484.8)" stroke="#000" stroke-width="2.8" fill="#c9c9c9" stroke-linejoin="round" stroke-linecap="round"/>
<path d="M787,522.5 L784.4,526.4 L781.5,530.2 L778.6,533.9 L775.6,537.4 L772.4,540.8 L769.2,544 L765.9,547 L762.4,549.9 L759,552.6 L755.4,555.1 L751.8,557.5 L748.2,559.6 L744.5,561.5 L740.9,563.2 L737.2,564.7 L733.5,566 L729.8,567 L726.2,567.8 L722.5,568.4 L719,568.8 L715.4,568.9 L711.9,568.8 L708.5,568.4 L705.2,567.9 L702,567.1 L698.9,566 L695.8,564.8 L692.9,563.3 L690.1,561.6 L687.5,559.7 L684.9,557.6 L682.6,555.3 L680.3,552.8 L678.3,550.1 L676.4,547.2 L674.6,544.1 L673.1,540.9 L671.7,537.6 L670.5,534.1 L669.5,530.4 L668.6,526.6 L668,522.7 L667.5,518.8 L667.3,514.7 L667.2,510.5 L667.3,506.2 L667.7,501.9 L668.2,497.6 L668.9,493.2 L669.8,488.8 L670.9,484.4 L672.2,480 L673.6,475.6 L675.2,471.2 L677,466.8 L679,462.6 L681.1,458.3 L683.4,454.2 L685.8,450.1 L688.4,446.1 L691.1,442.3 L693.9,438.5 L696.9,434.9 L700,431.4 L703.1,428.1 L706.4,424.9 L709.8,421.9 L713.2,419 L716.7,416.4 L720.2,413.9 L723.8,411.6 L727.5,409.5 L731.1,407.7 L734.8,406 L738.5,404.6 L742.2,403.4 L745.9,402.4 L749.5,401.6 L753.1,401.1 L756.7,400.8 L760.2,400.7 L763.7,400.9 L767.1,401.3" stroke="#000" stroke-width="1.3" fill="none" stroke-linejoin="round" stroke-linecap="round" stroke-dasharray="40 5 3 5"/>
<path d="M741.2,401.9 L745.1,400.9 L748.9,400.2 L752.7,399.7 L756.4,399.5 L760.1,399.6 L763.7,399.9 L767.3,400.4 L770.7,401.2 L774,402.2 L777.2,403.5 L780.3,405 L783.3,406.8 L786.1,408.8 L788.8,411 L791.3,413.4 L793.7,416 L795.9,418.8 L797.9,421.9 L799.7,425.1 L801.3,428.5 L802.8,432 L804.1,435.7 L805.1,439.6 L806,443.6 L806.6,447.7 L807.1,451.9" stroke="#000" stroke-width="1.8" fill="none" stroke-linejoin="round" stroke-linecap="round"/>
<ellipse cx="740.9" cy="487.8" rx="70.8" ry="49.5" transform="rotate(-59.8 740.9 487.8)" stroke="#000" stroke-width="2.4" fill="#727272" stroke-linejoin="round" stroke-linecap="round"/>
<ellipse cx="736.5" cy="485.5" rx="66" ry="45.5" transform="rotate(-59.8 736.5 485.5)" stroke="#000" stroke-width="0" fill="#8f8f8f" stroke-linejoin="round" stroke-linecap="round"/>
<path d="M751.7,423.7 L754.3,423.6 L756.9,423.7 L759.5,423.9 L762,424.4 L764.4,425 L766.8,425.7 L769,426.7 L771.2,427.8 L773.3,429 L775.3,430.4 L777.3,432 L779,433.7 L780.7,435.6 L782.3,437.6 L783.7,439.7 L785.1,442 L786.2,444.4 L787.3,446.9 L788.2,449.5 L789,452.2 L789.7,455 L790.2,457.9 L790.5,460.9 L790.7,463.9 L790.8,467 L790.7,470.2 L790.5,473.4 L790.2,476.6 L789.7,479.9 L789,483.2 L788.2,486.5 L787.3,489.8 L786.2,493 L785,496.3 L783.7,499.6 L782.3,502.8 L780.7,505.9 L779,509 L777.2,512.1 L775.3,515" stroke="#000" stroke-width="1.6" fill="none" stroke-linejoin="round" stroke-linecap="round"/>
<ellipse cx="738.5" cy="486.5" rx="32" ry="21.5" transform="rotate(-58 738.5 486.5)" stroke="#000" stroke-width="2.2" fill="#454545" stroke-linejoin="round" stroke-linecap="round"/>
<path d="M735.2,514.3 L734.1,514.5 L732.9,514.6 L731.8,514.6 L730.7,514.5 L729.7,514.3 L728.6,514.1 L727.6,513.8 L726.7,513.5 L725.8,513 L724.9,512.5 L724,511.9 L723.2,511.3 L722.5,510.6 L721.8,509.8 L721.1,509 L720.5,508.1 L720,507.2 L719.5,506.2 L719.1,505.1 L718.7,504 L718.4,502.9 L718.1,501.7 L717.9,500.4 L717.8,499.2 L717.8,497.9 L717.8,496.6 L717.8,495.2 L717.9,493.8 L718.1,492.5 L718.4,491.1 L718.7,489.7 L719,488.2 L719.5,486.8 L719.9,485.4 L720.5,484 L721.1,482.6 L721.7,481.2 L722.4,479.8 L723.2,478.5 L724,477.2 L724.8,475.9 L725.7,474.6 L726.6,473.4 L727.6,472.2 L728.6,471 L729.6,469.9 L730.7,468.9 L731.8,467.9 L732.9,466.9 L734,466" stroke="#000" stroke-width="1.3" fill="none" stroke-linejoin="round" stroke-linecap="round"/>
<path d="M744.9,473.5 L746.4,479.1 L750.9,479.7 L748.8,485.8 L751.1,490.7 L746.7,493.8 L745.4,500.2 L741.2,498.4 L737.1,502.5 L735.6,496.9 L731.1,496.3 L733.2,490.2 L730.9,485.3 L735.3,482.2 L736.6,475.8 L740.8,477.6Z" stroke="#000" stroke-width="1.2" fill="#111" stroke-linejoin="round" stroke-linecap="round"/>
<path d="M766.1,448.3 L765.3,449.2 L764.2,449.6 L763,449.4 L762.1,448.6 L761.4,447.4 L761.2,446 L761.4,444.6 L762.1,443.4 L763,442.6 L764.2,442.4 L765.3,442.8 L766.1,443.7" stroke="#000" stroke-width="1.8" fill="none" stroke-linejoin="round" stroke-linecap="round"/>
<path d="M714.1,474.3 L713.3,475.2 L712.2,475.6 L711,475.4 L710.1,474.6 L709.4,473.4 L709.2,472 L709.4,470.6 L710.1,469.4 L711,468.6 L712.2,468.4 L713.3,468.8 L714.1,469.7" stroke="#000" stroke-width="1.8" fill="none" stroke-linejoin="round" stroke-linecap="round"/>
<path d="M764.1,502.3 L763.3,503.2 L762.2,503.6 L761,503.4 L760.1,502.6 L759.4,501.4 L759.2,500 L759.4,498.6 L760.1,497.4 L761,496.6 L762.2,496.4 L763.3,496.8 L764.1,497.7" stroke="#000" stroke-width="1.8" fill="none" stroke-linejoin="round" stroke-linecap="round"/>
<path d="M713.1,530.3 L712.3,531.2 L711.2,531.6 L710,531.4 L709.1,530.6 L708.4,529.4 L708.2,528 L708.4,526.6 L709.1,525.4 L710,524.6 L711.2,524.4 L712.3,524.8 L713.1,525.7" stroke="#000" stroke-width="1.8" fill="none" stroke-linejoin="round" stroke-linecap="round"/>
<ellipse cx="819.9" cy="530.3" rx="29.3" ry="20" transform="rotate(-53.6 819.9 530.3)" stroke="#000" stroke-width="1.6" fill="#fff" stroke-linejoin="round" stroke-linecap="round"/>
<path d="M811.1,554.7 L810.2,554.4 L809.3,554.1 L808.5,553.7 L807.7,553.2 L806.9,552.7 L806.2,552.1 L805.5,551.5 L804.9,550.8 L804.3,550 L803.8,549.2 L803.3,548.4 L802.9,547.5 L802.5,546.6 L802.2,545.6 L802,544.6 L801.8,543.5 L801.6,542.4 L801.5,541.3 L801.5,540.2 L801.5,539 L801.6,537.8 L801.8,536.6 L802,535.4 L802.3,534.2 L802.6,533 L802.9,531.7 L803.4,530.5 L803.9,529.3 L804.4,528 L805,526.8 L805.6,525.6 L806.3,524.4 L807,523.3" stroke="#000" stroke-width="1.2" fill="none" stroke-linejoin="round" stroke-linecap="round"/>
<path d="M830.7,519.2 L832.5,521.1 L831.2,525.2 L831.5,527.7 L833.3,530.2 L832,533.7 L828.4,535.7 L826.4,538 L824.6,542 L821.5,543.5 L819.2,541.5 L816.9,541.3 L813.3,542.8 L811.5,540.9 L812.8,536.8 L812.5,534.3 L810.7,531.8 L812,528.3 L815.6,526.3 L817.6,524 L819.4,520 L822.5,518.5 L824.8,520.5 L827.1,520.7Z" stroke="#000" stroke-width="1.3" fill="none" stroke-linejoin="round" stroke-linecap="round"/>
<ellipse cx="469.4" cy="659.8" rx="7.6" ry="7.6" transform="rotate(0 469.4 659.8)" stroke="#000" stroke-width="1.6" fill="#fff" stroke-linejoin="round" stroke-linecap="round"/>
<path d="M474.2,662.2 L474.1,662.4 L474,662.6 L473.9,662.7 L473.8,662.9 L473.7,663.1 L473.6,663.3 L473.4,663.4 L473.3,663.6 L473.1,663.7 L473,663.9 L472.8,664 L472.6,664.1 L472.5,664.2 L472.3,664.3 L472.1,664.4 L471.9,664.5 L471.7,664.6 L471.5,664.6 L471.3,664.7 L471.1,664.7 L470.9,664.8 L470.7,664.8 L470.5,664.8 L470.3,664.8 L470.1,664.8 L469.8,664.8 L469.6,664.7 L469.4,664.7 L469.2,664.6 L469,664.6" stroke="#000" stroke-width="1.2" fill="none" stroke-linejoin="round" stroke-linecap="round"/>
<path d="M512.6,673 L668.8,758.8 L664.8,768.8 L504.6,685Z" stroke="#000" stroke-width="0" fill="#fff" stroke-linejoin="round" stroke-linecap="round"/>
<path d="M512.6,673 L668.8,758.8" stroke="#000" stroke-width="1.5" fill="none" stroke-linejoin="round" stroke-linecap="round"/>
<path d="M504.6,685 L664.8,768.8" stroke="#000" stroke-width="1.5" fill="none" stroke-linejoin="round" stroke-linecap="round"/>
<path d="M486.9,663.9 L488.1,663.6 Q490,663 491.9,663.5 L495.1,664.5 Q497,665 498.8,665.8 L511.2,671.2 Q513,672 513.6,673.9 L514.4,676.1 Q515,678 514.2,679.8 L512.8,683.2 Q512,685 510.1,685.6 L507.9,686.4 Q506,687 504.2,686.2 L491.8,680.8 Q490,680 488.4,678.8 L484.6,676.2 Q483,675 483.4,673 L483.6,672 Q484,670 484.4,668 L484.6,666.5 Q485,664.5 486.9,663.9Z" stroke="#000" stroke-width="1.6" fill="#fff" stroke-linejoin="round" stroke-linecap="round"/>
<path d="M490,665 L488,673 L489,680" stroke="#000" stroke-width="1.0" fill="none" stroke-linejoin="round" stroke-linecap="round"/>
<path d="M495.5,667.5 L493.5,675.5 L494.5,682.2" stroke="#000" stroke-width="1.0" fill="none" stroke-linejoin="round" stroke-linecap="round"/>
<path d="M501,670 L499,678 L500,684.4" stroke="#000" stroke-width="1.0" fill="none" stroke-linejoin="round" stroke-linecap="round"/>
<path d="M506.5,672.5 L504.5,680.5 L505.5,686.6" stroke="#000" stroke-width="1.0" fill="none" stroke-linejoin="round" stroke-linecap="round"/>
<path d="M511,673.2 L511.1,673.4 L511.2,673.5 L511.3,673.7 L511.4,673.9 L511.5,674.1 L511.6,674.3 L511.7,674.5 L511.7,674.7 L511.7,675 L511.8,675.3 L511.8,675.6 L511.8,675.9 L511.8,676.2 L511.8,676.5 L511.8,676.8 L511.7,677.2 L511.7,677.5 L511.7,677.9 L511.6,678.2 L511.5,678.6 L511.4,679 L511.3,679.3 L511.2,679.7 L511.1,680.1 L511,680.5 L510.9,680.8 L510.8,681.2 L510.6,681.6 L510.5,681.9 L510.3,682.3 L510.1,682.7 L510,683 L509.8,683.3 L509.6,683.7 L509.4,684 L509.2,684.3 L509.1,684.6 L508.9,684.9 L508.7,685.1 L508.5,685.4 L508.3,685.6 L508.1,685.8 L507.9,686 L507.7,686.2 L507.5,686.4 L507.3,686.6 L507.1,686.7 L506.9,686.8 L506.7,686.9 L506.5,687 L506.3,687.1 L506.1,687.1 L506,687.1" stroke="#000" stroke-width="1.2" fill="none" stroke-linejoin="round" stroke-linecap="round"/>
<path d="M484,670 L488,670.5 L487,673" stroke="#000" stroke-width="1.2" fill="none" stroke-linejoin="round" stroke-linecap="round"/>
<path d="M669,759.3 L671,759.7 Q673,760 674.8,760.8 L686.2,766.2 Q688,767 689.6,768.2 L693.4,771.3 Q695,772.5 694.6,774.5 L694.4,775 Q694,777 692.6,778.4 L691.4,779.6 Q690,781 688,781.3 L686,781.7 Q684,782 682.2,781.2 L669.8,775.8 Q668,775 667.1,773.2 L665.9,770.8 Q665,769 665.4,767 L666.6,761 Q667,759 669,759.3Z" stroke="#000" stroke-width="1.6" fill="#fff" stroke-linejoin="round" stroke-linecap="round"/>
<path d="M671,761 L669.5,768 L671,775" stroke="#000" stroke-width="1.0" fill="none" stroke-linejoin="round" stroke-linecap="round"/>
<path d="M676,763.5 L674.5,770.5 L676,777" stroke="#000" stroke-width="1.0" fill="none" stroke-linejoin="round" stroke-linecap="round"/>
<path d="M681,766 L679.5,773 L681,779" stroke="#000" stroke-width="1.0" fill="none" stroke-linejoin="round" stroke-linecap="round"/>
<path d="M686,768.5 L684.5,775.5 L686,781" stroke="#000" stroke-width="1.0" fill="none" stroke-linejoin="round" stroke-linecap="round"/>
<path d="M670.8,760.7 L671,760.8 L671.1,761 L671.2,761.1 L671.3,761.3 L671.4,761.5 L671.4,761.7 L671.5,761.9 L671.6,762.1 L671.6,762.4 L671.6,762.6 L671.7,762.9 L671.7,763.2 L671.7,763.5 L671.7,763.8 L671.7,764.1 L671.7,764.4 L671.6,764.7 L671.6,765.1 L671.5,765.4 L671.5,765.8 L671.4,766.1 L671.3,766.5 L671.2,766.8 L671.1,767.2 L671,767.5 L670.9,767.9 L670.8,768.2 L670.6,768.5 L670.5,768.9 L670.3,769.2 L670.2,769.5 L670,769.9 L669.9,770.2 L669.7,770.5 L669.5,770.8 L669.3,771.1 L669.1,771.3 L669,771.6 L668.8,771.8 L668.6,772.1 L668.4,772.3 L668.2,772.5 L668,772.7 L667.8,772.9 L667.6,773 L667.4,773.2 L667.2,773.3 L667,773.4 L666.8,773.5 L666.7,773.6 L666.5,773.6 L666.3,773.6 L666.1,773.7" stroke="#000" stroke-width="1.2" fill="none" stroke-linejoin="round" stroke-linecap="round"/>
<path d="M764.5,659.1 L754.5,697.9 Q754,700 753.5,701.8 L753.5,702.2 Q753,704 752.8,706.2 L752.2,711.8 Q752,714 751.7,716.2 L751.3,719.8 Q751,722 748.9,722.6 L742.1,724.4 Q740,725 739.8,727.2 L739.2,733.8 Q739,736 740,738 L741,740 Q742,742 742,744.2 L742,749.8 Q742,752 740.3,753.4 L736.7,756.6 Q735,758 734.5,758.9 L734.5,759.1 Q734,760 733.8,762.2 L733.2,767.8 Q733,770 731.2,770.9 L730.8,771.1 Q729,772 728.6,774.2 L727.4,779.8 Q727,782 726.5,784.1 L723.5,796.9 Q723,799 721.1,800.1 L719.9,800.9 Q718,802 715.8,801.8 L710.2,801.2 Q708,801 706.7,799.2 L706.3,798.8 Q705,797 705.3,794.8 L705.7,792.2 Q706,790 706.5,787.9 L712.5,762.1 Q713,760 714.4,758.6 L714.6,758.4 Q716,757 716,754.8 L716,747.2 Q716,745 716.7,742.9 L717.3,741.1 Q718,739 719.8,737.7 L720.2,737.3 Q722,736 722,733.8 L722,730.2 Q722,728 723.4,726.3 L724.6,724.7 Q726,723 726.2,720.8 L726.8,716.2 Q727,714 727.2,711.8 L727.8,706.2 Q728,704 728.7,701.9 L729.3,700.1 Q730,698 730.5,695.8 L738.5,658.7 Q739,656.5 741.2,656.5 L762.8,657 Q765,657 764.5,659.1Z" stroke="#000" stroke-width="1.6" fill="#fff" stroke-linejoin="round" stroke-linecap="round"/>
<path d="M753.9,698.8 L753.4,699.5 L752.2,700.1 L750.2,700.5 L747.7,700.7 L744.8,700.7 L741.7,700.5 L738.6,700.1 L735.8,699.5 L733.3,698.7 L731.5,697.9 L730.4,697.1 L730.1,696.2" stroke="#000" stroke-width="1.3" fill="none" stroke-linejoin="round" stroke-linecap="round"/>
<path d="M728.5,704.5 L753,707" stroke="#000" stroke-width="1.1" fill="none" stroke-linejoin="round" stroke-linecap="round"/>
<path d="M727.5,709 L752.5,711.5" stroke="#000" stroke-width="1.1" fill="none" stroke-linejoin="round" stroke-linecap="round"/>
<path d="M727,714 L752,716.5" stroke="#000" stroke-width="1.2" fill="none" stroke-linejoin="round" stroke-linecap="round"/>
<path d="M750.4,724.3 L750,724.9 L748.7,725.3 L746.8,725.6 L744.2,725.8 L741.3,725.7 L738.2,725.5 L735.2,725.1 L732.3,724.5 L729.9,723.9 L728,723.2 L726.9,722.4 L726.6,721.7" stroke="#000" stroke-width="1.2" fill="none" stroke-linejoin="round" stroke-linecap="round"/>
<path d="M722,730 L739.5,731.5" stroke="#000" stroke-width="1.0" fill="none" stroke-linejoin="round" stroke-linecap="round"/>
<path d="M740.9,739.1 L740.5,739.8 L739.3,740.2 L737.6,740.6 L735.2,740.7 L732.6,740.7 L729.7,740.5 L726.9,740.1 L724.3,739.6 L722.1,738.9 L720.4,738.2 L719.4,737.5 L719.1,736.9" stroke="#000" stroke-width="1.1" fill="none" stroke-linejoin="round" stroke-linecap="round"/>
<path d="M716.5,745 L741.5,747" stroke="#000" stroke-width="1.0" fill="none" stroke-linejoin="round" stroke-linecap="round"/>
<path d="M716.5,750 L741.5,752" stroke="#000" stroke-width="1.0" fill="none" stroke-linejoin="round" stroke-linecap="round"/>
<path d="M735.9,759.1 L735.5,759.8 L734.3,760.2 L732.6,760.6 L730.2,760.7 L727.6,760.7 L724.7,760.5 L721.9,760.1 L719.3,759.6 L717.1,758.9 L715.4,758.2 L714.4,757.5 L714.1,756.9" stroke="#000" stroke-width="1.2" fill="none" stroke-linejoin="round" stroke-linecap="round"/>
<path d="M736.9,644.8 L737.3,644.4 Q739.3,642.7 742.3,642.3 L744,642 Q747,641.6 750,641.7 L763.8,642 Q766.8,642.1 769.3,642.9 L769.8,643 Q772.3,643.8 775,645.1 L777.3,646.3 Q780,647.6 783,648.1 L783.6,648.2 Q786.6,648.7 789.5,648 L792.5,647.2 Q795.4,646.5 795.9,649.5 L796.5,653 Q797,656 794.3,656.7 L793.7,656.8 Q791,657.5 788,657 L787.4,656.9 Q784.4,656.4 781.4,656.7 L772,657.7 Q769,658 766,658.3 L761,658.9 Q758,659.2 755,658.8 L746.7,657.9 Q743.7,657.5 741.1,656 L738.6,654.6 Q736,653.1 735,651.1 L734.8,650.7 Q733.8,648.7 734.3,647.7 L734.4,647.5 Q734.9,646.5 736.9,644.8Z" stroke="#000" stroke-width="1.6" fill="#fff" stroke-linejoin="round" stroke-linecap="round"/>
<path d="M736,652 L744,655.5 L758,657 L769,656 L784,654 L791,655.5" stroke="#000" stroke-width="1.0" fill="none" stroke-linejoin="round" stroke-linecap="round"/>
<ellipse cx="755.3" cy="648" rx="12.5" ry="5.3" transform="rotate(3 755.3 648)" stroke="#000" stroke-width="1.4" fill="#fff" stroke-linejoin="round" stroke-linecap="round"/>
<path d="M765.3,650.4 L765.1,650.5 L764.9,650.7 L764.6,650.9 L764.3,651.1 L764,651.2 L763.7,651.4 L763.4,651.5 L763,651.7 L762.6,651.8 L762.2,651.9 L761.8,652 L761.3,652.1 L760.9,652.2 L760.4,652.3 L759.9,652.4 L759.4,652.4 L758.9,652.5 L758.4,652.5 L757.9,652.5 L757.4,652.5 L756.9,652.5 L756.3,652.5 L755.8,652.5 L755.3,652.5 L754.7,652.4 L754.2,652.4 L753.7,652.3 L753.2,652.2 L752.7,652.1 L752.2,652 L751.7,651.9 L751.2,651.8 L750.8,651.7 L750.3,651.5 L749.9,651.4 L749.5,651.2 L749.1,651.1 L748.7,650.9 L748.4,650.7 L748,650.6 L747.7,650.4 L747.4,650.2 L747.2,650 L746.9,649.8 L746.7,649.6 L746.5,649.4" stroke="#000" stroke-width="0.9" fill="none" stroke-linejoin="round" stroke-linecap="round"/>
<path d="M798.5,645.1 L811,643.5 Q813,643.2 814.8,644.1 L822.2,647.8 Q824,648.7 824.2,650.7 L824.9,655.5 Q825.1,657.5 824,659.2 L821.8,662.4 Q820.7,664.1 818.7,664.4 L809.5,666 Q807.5,666.3 805.7,665.5 L801.6,663.8 Q799.8,663 799.3,661.1 L798.1,656.1 Q797.6,654.2 797.4,652.2 L796.7,647.4 Q796.5,645.4 798.5,645.1Z" stroke="#000" stroke-width="1.6" fill="#fff" stroke-linejoin="round" stroke-linecap="round"/>
<path d="M807.2,652.9 L818.8,651.6 Q820,651.5 820.1,652.7 L820.9,659.8 Q821,661 819.8,661.2 L808.2,662.8 Q807,663 806.9,661.8 L806.1,654.2 Q806,653 807.2,652.9Z" stroke="#000" stroke-width="1.2" fill="none" stroke-linejoin="round" stroke-linecap="round"/>
<path d="M806,653 L812,658" stroke="#000" stroke-width="1.0" fill="none" stroke-linejoin="round" stroke-linecap="round"/>
<path d="M820,651.5 L812,658" stroke="#000" stroke-width="1.0" fill="none" stroke-linejoin="round" stroke-linecap="round"/>
<ellipse cx="794.9" cy="651.5" rx="5.5" ry="3.8" transform="rotate(15 794.9 651.5)" stroke="#000" stroke-width="1.4" fill="#fff" stroke-linejoin="round" stroke-linecap="round"/>
<path d="M776.2,770.9 L776.2,769.4 L776.5,767.9 L776.9,766.4 L777.5,765 L778.3,763.7 L779.3,762.4 L780.5,761.3 L781.7,760.3 L783.1,759.5 L784.6,758.9 L786.2,758.4 L787.8,758.1 L789.4,758.1 L791,758.2 L792.5,758.5 L794,759 L795.4,759.7 L796.9,760.5 L798.2,761.3 L799.3,762.3 L800.3,763.5 L801.1,764.7 L801.7,766 L802.1,767.5 L802.3,768.9 L802.3,770.4 L802,771.9 L801.6,773.4 L801,774.8 L800.2,776.1 L799.2,777.4 L798,778.5 L796.8,779.5 L795.4,780.3 L793.9,780.9 L792.3,781.4 L790.7,781.7 L789.1,781.7 L787.5,781.6 L786,781.3 L784.5,780.8 L783.1,780.1 L781.6,779.3 L780.3,778.5 L779.2,777.5 L778.2,776.4 L777.4,775.1 L776.8,773.8 L776.4,772.3Z" stroke="#000" stroke-width="1.5" fill="#fff" stroke-linejoin="round" stroke-linecap="round"/>
<ellipse cx="790" cy="770.3" rx="11.3" ry="12.4" transform="rotate(70 790 770.3)" stroke="#000" stroke-width="1.5" fill="#fff" stroke-linejoin="round" stroke-linecap="round"/>
<ellipse cx="791" cy="770.5" rx="3.6" ry="5.6" transform="rotate(25 791 770.5)" stroke="#000" stroke-width="1.3" fill="#fff" stroke-linejoin="round" stroke-linecap="round"/>
<path d="M806,786 L806,785.2 L806.2,784.5 L806.5,783.7 L806.8,783 L807.2,782.4 L807.8,781.8 L808.4,781.2 L809,780.8 L809.7,780.5 L810.5,780.2 L811.2,780 L812,780 L812.8,780 L813.5,780.2 L814.3,780.5 L822.3,783.5 L823,783.8 L823.6,784.2 L824.2,784.8 L824.8,785.4 L825.2,786 L825.5,786.7 L825.8,787.5 L826,788.2 L826,789 L826,789.8 L825.8,790.5 L825.5,791.3 L825.2,792 L824.8,792.6 L824.2,793.2 L823.6,793.8 L823,794.2 L822.3,794.5 L821.5,794.8 L820.8,795 L820,795 L819.2,795 L818.5,794.8 L817.7,794.5 L809.7,791.5 L809,791.2 L808.4,790.8 L807.8,790.2 L807.2,789.6 L806.8,789 L806.5,788.3 L806.2,787.5 L806,786.8Z" stroke="#000" stroke-width="1.4" fill="#fff" stroke-linejoin="round" stroke-linecap="round"/>
<ellipse cx="820" cy="789" rx="6" ry="6" transform="rotate(0 820 789)" stroke="#000" stroke-width="1.4" fill="#fff" stroke-linejoin="round" stroke-linecap="round"/>
<path d="M811,791.9 L810.6,791.8 L810.3,791.8 L810,791.7 L809.7,791.6 L809.5,791.4 L809.2,791.3 L808.9,791.1 L808.6,791 L808.4,790.8 L808.1,790.6 L807.9,790.4 L807.7,790.2 L807.5,789.9 L807.3,789.7 L807.1,789.4 L806.9,789.2 L806.7,788.9 L806.6,788.6 L806.5,788.3 L806.3,788 L806.3,787.7 L806.2,787.4 L806.1,787.1 L806.1,786.8 L806,786.5 L806,786.2 L806,785.8 L806,785.5 L806.1,785.2 L806.1,784.9 L806.2,784.6 L806.3,784.3 L806.3,784 L806.5,783.7 L806.6,783.4 L806.7,783.1 L806.9,782.8 L807.1,782.6 L807.3,782.3 L807.5,782.1 L807.7,781.8 L807.9,781.6 L808.1,781.4 L808.4,781.2 L808.6,781 L808.9,780.9 L809.2,780.7 L809.5,780.6 L809.7,780.4 L810,780.3 L810.3,780.2 L810.6,780.2 L811,780.1" stroke="#000" stroke-width="1.0" fill="none" stroke-linejoin="round" stroke-linecap="round"/>
<path d="M814,792.9 L813.6,792.8 L813.3,792.8 L813,792.7 L812.7,792.6 L812.5,792.4 L812.2,792.3 L811.9,792.1 L811.6,792 L811.4,791.8 L811.1,791.6 L810.9,791.4 L810.7,791.2 L810.5,790.9 L810.3,790.7 L810.1,790.4 L809.9,790.2 L809.7,789.9 L809.6,789.6 L809.5,789.3 L809.3,789 L809.3,788.7 L809.2,788.4 L809.1,788.1 L809.1,787.8 L809,787.5 L809,787.2 L809,786.8 L809,786.5 L809.1,786.2 L809.1,785.9 L809.2,785.6 L809.3,785.3 L809.3,785 L809.5,784.7 L809.6,784.4 L809.7,784.1 L809.9,783.8 L810.1,783.6 L810.3,783.3 L810.5,783.1 L810.7,782.8 L810.9,782.6 L811.1,782.4 L811.4,782.2 L811.6,782 L811.9,781.9 L812.2,781.7 L812.5,781.6 L812.7,781.4 L813,781.3 L813.3,781.2 L813.6,781.2 L814,781.1" stroke="#000" stroke-width="1.0" fill="none" stroke-linejoin="round" stroke-linecap="round"/>
<path d="M810.1,789.2 L810.2,787.7 L810.5,786.2 L811.1,784.8 L811.8,783.4 L812.7,782.1 L813.7,780.9 L814.9,779.9 L816.2,779 L817.7,778.3 L819.1,777.8 L820.7,777.5 L822.2,777.4 L823.8,777.4 L825.3,777.7 L826.8,778.1 L833.8,781.1 L835.2,781.8 L836.5,782.6 L837.6,783.6 L838.6,784.7 L839.5,786 L840.1,787.3 L840.6,788.8 L840.9,790.2 L840.9,791.8 L840.8,793.3 L840.5,794.8 L839.9,796.2 L839.2,797.6 L838.3,798.9 L837.3,800.1 L836.1,801.1 L834.8,802 L833.3,802.7 L831.9,803.2 L830.3,803.5 L828.8,803.6 L827.2,803.6 L825.7,803.3 L824.2,802.9 L817.2,799.9 L815.8,799.2 L814.5,798.4 L813.4,797.4 L812.4,796.3 L811.5,795 L810.9,793.7 L810.4,792.2 L810.1,790.8Z" stroke="#000" stroke-width="1.6" fill="#fff" stroke-linejoin="round" stroke-linecap="round"/>
<ellipse cx="829" cy="792" rx="11.5" ry="12.1" transform="rotate(60 829 792)" stroke="#000" stroke-width="1.6" fill="#fff" stroke-linejoin="round" stroke-linecap="round"/>
<path d="M826,792 L834,792" stroke="#000" stroke-width="1.3" fill="none" stroke-linejoin="round" stroke-linecap="round"/>
<path d="M830,788 L830,796" stroke="#000" stroke-width="1.3" fill="none" stroke-linejoin="round" stroke-linecap="round"/>
<path d="M235.7,764.4 L235.8,761.1 L236.3,757.9 L237.2,754.7 L238.4,751.7 L239.9,748.9 L241.7,746.4 L243.7,744.3 L245.9,742.5 L248.2,741.3 L250.6,740.5 L253,740.2 L255.4,740.5 L257.6,741.2 L264.6,744.2 L266.7,745.4 L268.6,747.1 L270.2,749.2 L271.5,751.7 L272.4,754.5 L273.1,757.5 L273.3,760.6 L273.2,763.9 L272.7,767.1 L271.8,770.3 L270.6,773.3 L269.1,776.1 L267.3,778.6 L265.3,780.7 L263.1,782.5 L260.8,783.7 L258.4,784.5 L256,784.8 L253.6,784.5 L251.4,783.8 L244.4,780.8 L242.3,779.6 L240.4,777.9 L238.8,775.8 L237.5,773.3 L236.6,770.5 L235.9,767.5Z" stroke="#000" stroke-width="1.6" fill="#fff" stroke-linejoin="round" stroke-linecap="round"/>
<ellipse cx="258" cy="764" rx="15" ry="21" transform="rotate(12 258 764)" stroke="#000" stroke-width="1.6" fill="#fff" stroke-linejoin="round" stroke-linecap="round"/>
<ellipse cx="258.5" cy="764.5" rx="8.5" ry="11.5" transform="rotate(12 258.5 764.5)" stroke="#000" stroke-width="1.4" fill="#fff" stroke-linejoin="round" stroke-linecap="round"/>
<path d="M255.6,773 L255.4,772.8 L255.1,772.6 L254.8,772.4 L254.6,772.2 L254.3,771.9 L254.1,771.7 L253.9,771.4 L253.7,771.1 L253.5,770.8 L253.3,770.4 L253.1,770.1 L253,769.7 L252.8,769.3 L252.7,768.9 L252.6,768.5 L252.5,768.1 L252.5,767.6 L252.4,767.2 L252.4,766.7 L252.3,766.3 L252.3,765.8 L252.4,765.4 L252.4,764.9 L252.4,764.4 L252.5,764 L252.6,763.5 L252.7,763 L252.8,762.6 L252.9,762.1 L253.1,761.7 L253.2,761.2 L253.4,760.8 L253.6,760.4 L253.8,760 L254,759.6 L254.2,759.2 L254.5,758.8 L254.7,758.5 L255,758.1 L255.3,757.8 L255.6,757.5 L255.8,757.2 L256.1,757 L256.4,756.7 L256.8,756.5 L257.1,756.3 L257.4,756.1 L257.7,756 L258,755.9 L258.4,755.8 L258.7,755.7 L259,755.6 L259.3,755.6" stroke="#000" stroke-width="1.0" fill="none" stroke-linejoin="round" stroke-linecap="round"/>
<path d="M261.8,754.9 L262.2,755.1 L262.5,755.3 L262.8,755.6 L263.1,755.8 L263.4,756.1 L263.7,756.4 L264,756.8 L264.2,757.1 L264.5,757.5 L264.7,757.9 L264.9,758.3 L265.1,758.7 L265.2,759.2 L265.4,759.6 L265.5,760.1 L265.6,760.6 L265.7,761.1 L265.8,761.6 L265.8,762.1 L265.8,762.6 L265.9,763.2 L265.8,763.7 L265.8,764.2 L265.7,764.8 L265.7,765.3 L265.6,765.8 L265.5,766.4 L265.3,766.9 L265.2,767.4 L265,767.9 L264.8,768.4 L264.6,768.9 L264.4,769.4 L264.1,769.8 L263.9,770.3 L263.6,770.7 L263.3,771.1 L263,771.5 L262.7,771.9 L262.3,772.3 L262,772.6 L261.7,772.9 L261.3,773.2 L260.9,773.4 L260.6,773.7 L260.2,773.9" stroke="#000" stroke-width="0.9" fill="none" stroke-linejoin="round" stroke-linecap="round"/>
<path d="M237,752 L243,744" stroke="#000" stroke-width="1.1" fill="none" stroke-linejoin="round" stroke-linecap="round"/>
<path d="M236,774 L241,783" stroke="#000" stroke-width="1.1" fill="none" stroke-linejoin="round" stroke-linecap="round"/>
<path d="M270.4,784.3 L270.6,780.9 L271.2,777.4 L272.4,774.1 L273.9,770.9 L275.8,768 L278,765.4 L280.6,763.1 L283.3,761.4 L286.2,760 L289.2,759.3 L292.2,759 L295.1,759.3 L297.9,760.1 L300.4,761.1 L303,762.5 L305.3,764.3 L307.3,766.6 L308.9,769.2 L310.1,772.1 L310.8,775.3 L311.1,778.7 L310.9,782.1 L310.3,785.6 L309.1,788.9 L307.6,792.1 L305.7,795 L303.5,797.6 L300.9,799.9 L298.2,801.6 L295.3,803 L292.3,803.7 L289.3,804 L286.4,803.7 L283.6,802.9 L281.1,801.9 L278.5,800.5 L276.2,798.7 L274.2,796.4 L272.6,793.8 L271.4,790.9 L270.7,787.7Z" stroke="#000" stroke-width="1.5" fill="#fff" stroke-linejoin="round" stroke-linecap="round"/>
<ellipse cx="292" cy="782" rx="18.5" ry="22.5" transform="rotate(22 292 782)" stroke="#000" stroke-width="1.5" fill="#fff" stroke-linejoin="round" stroke-linecap="round"/>
<ellipse cx="293" cy="783.5" rx="7" ry="10" transform="rotate(20 293 783.5)" stroke="#000" stroke-width="1.4" fill="#fff" stroke-linejoin="round" stroke-linecap="round"/>
<path d="M291,760.8 L295,760.2 Q296,760 296.5,760.9 L298.5,764.1 Q299,765 298.1,765.5 L294.9,767.5 Q294,768 293.1,767.6 L290.9,766.4 Q290,766 290,765 L290,762 Q290,761 291,760.8Z" stroke="#000" stroke-width="1.3" fill="#fff" stroke-linejoin="round" stroke-linecap="round"/>
<ellipse cx="294" cy="765" rx="2.5" ry="2.5" transform="rotate(0 294 765)" stroke="#000" stroke-width="1.1" fill="#fff" stroke-linejoin="round" stroke-linecap="round"/>
<path d="M331.4,830.1 L329.6,827.3 L314.6,820.3 L316.4,823.1Z" stroke="#000" stroke-width="1.3" fill="#fff" stroke-linejoin="round" stroke-linecap="round"/>
<path d="M326.7,821.9 L325.4,818.6 L310.4,811.6 L311.7,814.9Z" stroke="#000" stroke-width="1.3" fill="#fff" stroke-linejoin="round" stroke-linecap="round"/>
<path d="M323.7,812.5 L323.1,809 L308.1,802 L308.7,805.5Z" stroke="#000" stroke-width="1.3" fill="#fff" stroke-linejoin="round" stroke-linecap="round"/>
<path d="M322.6,802.6 L322.7,799.1 L307.7,792.1 L307.6,795.6Z" stroke="#000" stroke-width="1.3" fill="#fff" stroke-linejoin="round" stroke-linecap="round"/>
<path d="M323.5,793.1 L324.4,789.9 L309.4,782.9 L308.5,786.1Z" stroke="#000" stroke-width="1.3" fill="#fff" stroke-linejoin="round" stroke-linecap="round"/>
<path d="M326.4,784.6 L327.9,781.9 L312.9,774.9 L311.4,777.6Z" stroke="#000" stroke-width="1.3" fill="#fff" stroke-linejoin="round" stroke-linecap="round"/>
<path d="M331,777.9 L333,776 L318,769 L316,770.9Z" stroke="#000" stroke-width="1.3" fill="#fff" stroke-linejoin="round" stroke-linecap="round"/>
<path d="M336.9,773.5 L339.2,772.6 L324.2,765.6 L321.9,766.5Z" stroke="#000" stroke-width="1.3" fill="#fff" stroke-linejoin="round" stroke-linecap="round"/>
<path d="M343.6,771.8 L346.2,771.9 L331.2,764.9 L328.6,764.8Z" stroke="#000" stroke-width="1.3" fill="#fff" stroke-linejoin="round" stroke-linecap="round"/>
<path d="M350.7,772.9 L353.2,774 L338.2,767 L335.7,765.9Z" stroke="#000" stroke-width="1.3" fill="#fff" stroke-linejoin="round" stroke-linecap="round"/>
<path d="M357.6,776.7 L359.8,778.7 L344.8,771.7 L342.6,769.7Z" stroke="#000" stroke-width="1.3" fill="#fff" stroke-linejoin="round" stroke-linecap="round"/>
<path d="M352.4,834.1 L351.5,834.2 L351.4,841.2 L348.8,841.1 L347.6,834.1 L346.7,833.9 L345.9,833.7 L344.3,840.1 L341.8,839 L342,832 L341.2,831.5 L340.4,831 L337.4,836.3 L335.2,834.3 L336.8,827.9 L336.1,827.1 L335.4,826.3 L331.4,830.1 L329.6,827.3 L332.5,822.1 L332,821.1 L331.4,820 L326.7,821.9 L325.4,818.6 L329.4,814.9 L329.1,813.8 L328.8,812.6 L323.7,812.5 L323.1,809 L327.8,807.1 L327.7,805.9 L327.6,804.8 L322.6,802.6 L322.7,799.1 L327.8,799.3 L327.9,798.1 L328.1,797 L323.5,793.1 L324.4,789.9 L329.4,792 L329.7,791 L330.1,790 L326.4,784.6 L327.9,781.9 L332.4,785.9 L333,785.1 L333.6,784.4 L331,777.9 L333,776 L336.7,781.5 L337.4,781 L338.1,780.6 L336.9,773.5 L339.2,772.6 L341.8,779.1 L342.6,778.9 L343.5,778.8 L343.6,771.8 L346.2,771.9 L347.4,778.9 L348.3,779.1 L349.1,779.3 L350.7,772.9 L353.2,774 L353,781 L353.8,781.5 L354.6,782 L357.6,776.7 L359.8,778.7 L358.2,785.1 L358.9,785.9 L359.6,786.7 L363.6,782.9 L365.4,785.7 L362.5,790.9 L363,791.9 L363.6,793 L368.3,791.1 L369.6,794.4 L365.6,798.1 L365.9,799.2 L366.2,800.4 L371.3,800.5 L371.9,804 L367.2,805.9 L367.3,807.1 L367.4,808.2 L372.4,810.4 L372.3,813.9 L367.2,813.7 L367.1,814.9 L366.9,816 L371.5,819.9 L370.6,823.1 L365.6,821 L365.3,822 L364.9,823 L368.6,828.4 L367.1,831.1 L362.6,827.1 L362,827.9 L361.4,828.6 L364,835.1 L362,837 L358.3,831.5 L357.6,832 L356.9,832.4 L358.1,839.5 L355.8,840.4 L353.2,833.9 L352.4,834.1Z" stroke="#000" stroke-width="1.5" fill="#fff" stroke-linejoin="round" stroke-linecap="round"/>
<ellipse cx="345" cy="810" rx="10.5" ry="14" transform="rotate(20 345 810)" stroke="#000" stroke-width="1.4" fill="#fff" stroke-linejoin="round" stroke-linecap="round"/>
<path d="M349.5,797 L352.5,797 Q353,797 353,797.5 L353,800.5 Q353,801 352.5,801 L350.5,801 Q350,801 349.9,800.5 L349.1,797.5 Q349,797 349.5,797Z" stroke="#000" stroke-width="1.2" fill="#fff" stroke-linejoin="round" stroke-linecap="round"/>
<path d="M398,762 L402,759 L430,771 L430,777 L426,781 L398,769Z" stroke="#000" stroke-width="1.5" fill="#fff" stroke-linejoin="round" stroke-linecap="round"/>
<path d="M402,759 L402,766" stroke="#000" stroke-width="1.0" fill="none" stroke-linejoin="round" stroke-linecap="round"/>
<path d="M398,769 L402,766" stroke="#000" stroke-width="1.2" fill="none" stroke-linejoin="round" stroke-linecap="round"/>
<path d="M402,766 L430,777" stroke="#000" stroke-width="1.2" fill="none" stroke-linejoin="round" stroke-linecap="round"/>
<path d="M387.4,823.2 L397.6,826.3 Q400,827 402.4,826.4 L403.6,826.1 Q406,825.5 408.3,826.5 L430.2,836 Q432.5,837 433.8,834.9 L443.7,818.1 Q445,816 447.1,814.6 L462.9,803.9 Q465,802.5 467.4,801.8 L483.6,796.7 Q486,796 488.1,797.4 L512.9,813.6 Q515,815 517.1,816.3 L537.9,828.7 Q540,830 541.6,832 L544.4,835.5 Q546,837.5 545.9,840 L545.6,847.5 Q545.5,850 547.6,851.3 L555.4,856.2 Q557.5,857.5 557.8,860 L558.7,867.5 Q559,870 558.2,872.4 L553.3,887.6 Q552.5,890 551.4,892.2 L536.1,922.8 Q535,925 533.2,926.8 L511.8,948.2 Q510,950 507.8,951.2 L487.2,962.8 Q485,964 482.6,964.5 L459.9,969.5 Q457.5,970 455.1,969.3 L442.4,965.7 Q440,965 437.8,963.7 L412.2,948.8 Q410,947.5 408.8,945.3 L397.2,924.7 Q396,922.5 395.9,920 L395.1,905 Q395,902.5 396.1,900.3 L398.9,894.7 Q400,892.5 401.3,890.4 L412.7,872.1 Q414,870 411.8,868.9 L394.7,860.1 Q392.5,859 390.6,857.4 L386.9,854.1 Q385,852.5 384.1,850.2 L383.4,848.3 Q382.5,846 380.2,845 L376.3,843.5 Q374,842.5 372.9,840.2 L371.6,837.3 Q370.5,835 371.6,832.8 L373.9,828.2 Q375,826 377.4,825.2 L382.6,823.3 Q385,822.5 387.4,823.2Z" stroke="#000" stroke-width="1.5" fill="none" stroke-linejoin="round" stroke-linecap="round" stroke-dasharray="18 3 5 3"/>
<ellipse cx="490" cy="856" rx="17.5" ry="21.5" transform="rotate(30 490 856)" stroke="#000" stroke-width="1.4" fill="none" stroke-linejoin="round" stroke-linecap="round" stroke-dasharray="14 3"/>
<path d="M673,931.5 L673,931.4 L673,931.2 L673.1,931 L673.2,930.9 L673.3,930.8 L673.4,930.7 L673.5,930.6 L673.7,930.5 L673.9,930.5 L674,930.5 L674.1,930.5 L674.3,930.5 L674.5,930.6 L674.6,930.7 L674.7,930.8 L674.8,930.9 L674.9,931 L675,931.2 L675,931.4 L675,931.5 L675,931.6 L675,931.8 L674.9,932 L674.8,932.1 L674.7,932.2 L674.6,932.3 L674.5,932.4 L674.3,932.5 L674.1,932.5 L674,932.5 L673.9,932.5 L673.7,932.5 L673.5,932.4 L673.4,932.3 L673.3,932.2 L673.2,932.1 L673.1,932 L673,931.8 L673,931.6Z" stroke="#000" stroke-width="0" fill="#fff" stroke-linejoin="round" stroke-linecap="round"/>
<ellipse cx="674" cy="931.5" rx="1" ry="1" transform="rotate(0 674 931.5)" stroke="#000" stroke-width="0" fill="#fff" stroke-linejoin="round" stroke-linecap="round"/>
<path d="M652.7,952.3 L652.7,951 L657.7,932.5 L658.1,931.2 L658.9,930 L660.1,928.7 L661.7,927.5 L663.5,926.4 L665.6,925.5 L667.9,924.7 L670.3,924 L672.9,923.6 L675.5,923.3 L678,923.3 L680.4,923.4 L682.7,923.7 L684.8,924.3 L686.6,925 L688,925.9 L689.2,926.9 L690,928 L690.3,929.2 L690.3,930.5 L685.3,949 L684.9,950.3 L684.1,951.5 L682.9,952.8 L681.3,954 L679.5,955.1 L677.4,956 L675.1,956.8 L672.7,957.5 L670.1,957.9 L667.5,958.2 L665,958.2 L662.6,958.1 L660.3,957.8 L658.2,957.2 L656.4,956.5 L655,955.6 L653.8,954.6 L653,953.5Z" stroke="#000" stroke-width="1.6" fill="#fff" stroke-linejoin="round" stroke-linecap="round"/>
<ellipse cx="674" cy="931.5" rx="16.5" ry="8" transform="rotate(-8 674 931.5)" stroke="#000" stroke-width="1.6" fill="#fff" stroke-linejoin="round" stroke-linecap="round"/>
<ellipse cx="675" cy="932.5" rx="11" ry="5" transform="rotate(-8 675 932.5)" stroke="#000" stroke-width="1.3" fill="#fff" stroke-linejoin="round" stroke-linecap="round"/>
<ellipse cx="668" cy="932" rx="1.6" ry="2.4" transform="rotate(0 668 932)" stroke="#000" stroke-width="1.0" fill="none" stroke-linejoin="round" stroke-linecap="round"/>
<ellipse cx="671.5" cy="932" rx="1.6" ry="2.4" transform="rotate(0 671.5 932)" stroke="#000" stroke-width="1.0" fill="none" stroke-linejoin="round" stroke-linecap="round"/>
<ellipse cx="675" cy="932" rx="1.6" ry="2.4" transform="rotate(0 675 932)" stroke="#000" stroke-width="1.0" fill="none" stroke-linejoin="round" stroke-linecap="round"/>
<ellipse cx="678.5" cy="932" rx="1.6" ry="2.4" transform="rotate(0 678.5 932)" stroke="#000" stroke-width="1.0" fill="none" stroke-linejoin="round" stroke-linecap="round"/>
<ellipse cx="682" cy="932" rx="1.6" ry="2.4" transform="rotate(0 682 932)" stroke="#000" stroke-width="1.0" fill="none" stroke-linejoin="round" stroke-linecap="round"/>
<path d="M652.7,905.9 L652.7,903.7 L653.4,901.4 L654.8,899.2 L656.8,897 L659.4,895 L662.5,893.1 L666.1,891.4 L670,890 L674.1,888.9 L678.5,888.1 L682.8,887.7 L687.1,887.6 L691.2,887.9 L695.1,888.5 L698.6,889.4 L701.7,890.7 L704.2,892.2 L706.2,894 L707.5,896 L708.1,898.1 L708.1,905.1 L708.1,907.3 L707.4,909.6 L706,911.8 L704,914 L701.4,916 L698.3,917.9 L694.7,919.6 L690.8,921 L686.7,922.1 L682.4,922.9 L678,923.3 L673.7,923.4 L669.5,923.1 L665.7,922.5 L662.2,921.6 L659.1,920.3 L656.6,918.8 L654.6,917 L653.3,915 L652.7,912.9Z" stroke="#000" stroke-width="1.6" fill="#fff" stroke-linejoin="round" stroke-linecap="round"/>
<ellipse cx="680.4" cy="902" rx="28" ry="14" transform="rotate(-8 680.4 902)" stroke="#000" stroke-width="1.6" fill="#fff" stroke-linejoin="round" stroke-linecap="round"/>
<ellipse cx="681.4" cy="901" rx="14" ry="6.5" transform="rotate(-8 681.4 901)" stroke="#000" stroke-width="1.4" fill="#fff" stroke-linejoin="round" stroke-linecap="round"/>
<path d="M662.6,903.6 L662.5,903.2 L662.6,902.7 L662.6,902.2 L662.7,901.7 L662.9,901.2 L663.1,900.7 L663.4,900.2 L663.7,899.7 L664.1,899.3 L664.5,898.8 L665,898.3 L665.5,897.8 L666.1,897.4 L666.7,896.9 L667.3,896.5 L668,896.1 L668.7,895.7 L669.5,895.3 L670.3,894.9 L671.1,894.5 L672,894.2 L672.8,893.9 L673.7,893.5 L674.7,893.3 L675.6,893 L676.6,892.8 L677.5,892.5 L678.5,892.4 L679.5,892.2 L680.5,892 L681.5,891.9 L682.5,891.8 L683.5,891.8 L684.5,891.7 L685.5,891.7 L686.4,891.7 L687.4,891.8 L688.3,891.8 L689.2,891.9 L690.1,892 L691,892.2 L691.9,892.3 L692.7,892.5 L693.5,892.7 L694.2,893 L694.9,893.2 L695.6,893.5 L696.2,893.8 L696.8,894.1 L697.4,894.5 L697.9,894.8 L698.4,895.2 L698.8,895.6 L699.1,896 L699.4,896.4 L699.7,896.8" stroke="#000" stroke-width="1.0" fill="none" stroke-linejoin="round" stroke-linecap="round"/>
<path d="M683.6,890.7 L681.1,890.7 L678.6,890.5 L676.1,890.3 L673.8,890 L671.5,889.6 L669.4,889.1 L667.4,888.5 L665.6,887.8 L663.9,887 L662.3,886.2 L661,885.2 L659.8,884.2 L658.9,883.2 L658.1,882.1 L657.6,881 L657.3,879.8 L657.1,878.6 L657.2,877.4 L657.5,876.1 L658.1,874.9 L658.8,873.7 L659.8,872.5 L660.9,871.3 L662.2,870.2 L663.7,869.1 L665.4,868 L667.3,867 L669.3,866.1 L671.4,865.2 L673.6,864.4 L675.9,863.7 L678.4,863.1 L680.8,862.5 L683.4,862.1 L686,861.7 L688.5,861.5 L691.1,861.4 L693.7,861.3 L696.2,861.4 L698.7,861.6 L701,861.8 L703.3,862.2 L705.5,862.7 L707.6,863.2 L709.5,863.9 L711.3,864.6 L712.9,865.4 L714.3,866.3 L715.6,867.3 L716.7,868.3 L717.5,869.3 L718.2,870.5 L718.6,871.6 L718.8,872.8 L718.8,874 L718.6,875.2 L718.2,876.5 L717.6,877.7 L716.7,878.9 L715.7,880.1 L714.5,881.3 L713,882.4 L711.4,883.5 L709.7,884.5 L707.8,885.5 L705.7,886.4 L703.5,887.2 L701.2,888 L698.9,888.6 L696.4,889.2 L697.6,880.6 L699.2,880.2 L700.7,879.8 L702.2,879.3 L703.5,878.8 L704.8,878.2 L706,877.7 L707,877.1 L708,876.5 L708.8,875.9 L709.5,875.2 L710,874.6 L710.4,874 L710.7,873.4 L710.9,872.7 L710.9,872.1 L710.7,871.5 L710.5,871 L710,870.4 L709.5,869.9 L708.8,869.4 L708,868.9 L707.1,868.5 L706,868.1 L704.9,867.8 L703.6,867.5 L702.2,867.2 L700.8,867 L699.3,866.8 L697.7,866.7 L696,866.6 L694.3,866.6 L692.6,866.6 L690.9,866.7 L689.1,866.8 L687.3,867 L685.5,867.2 L683.8,867.5 L682.1,867.8 L680.4,868.1 L678.8,868.5 L677.2,869 L675.7,869.4 L674.3,869.9 L673,870.4 L671.7,871 L670.6,871.6 L669.6,872.2 L668.7,872.8 L667.9,873.4 L667.3,874 L666.8,874.6 L666.4,875.3 L666.2,875.9 L666.1,876.5 L666.2,877.1 L666.4,877.7 L666.7,878.2 L667.1,878.8 L667.7,879.3 L668.5,879.8 L669.3,880.2 L670.3,880.6 L671.4,881 L672.6,881.4 L673.9,881.6 L675.3,881.9 L676.8,882.1 L678.3,882.2 L679.9,882.4 L681.6,882.4Z" stroke="#000" stroke-width="1.7" fill="#fff" stroke-linejoin="round" stroke-linecap="round"/>
<path d="M674.9,888.5 L673.6,888.3 L672.4,888.1 L671.2,887.8 L670,887.5 L668.9,887.2 L667.8,886.8 L666.8,886.5 L665.8,886 L664.9,885.6 L664.1,885.1 L663.3,884.7 L662.6,884.2 L662,883.6 L661.4,883.1 L661,882.5 L660.5,881.9 L660.2,881.3 L659.9,880.7 L659.8,880.1 L659.7,879.5 L659.6,878.8 L659.7,878.2 L659.8,877.5 L660,876.9 L660.3,876.2 L660.6,875.6 L661.1,874.9 L661.6,874.3 L662.2,873.6 L662.8,873 L663.5,872.4 L664.3,871.8 L665.2,871.2 L666.1,870.6 L667.1,870 L668.1,869.5 L669.2,868.9 L670.3,868.4 L671.5,867.9 L672.7,867.5 L674,867 L675.3,866.6 L676.7,866.2 L678,865.9 L679.4,865.6 L680.9,865.3 L682.3,865 L683.8,864.7 L685.2,864.5 L686.7,864.4 L688.2,864.2 L689.7,864.1 L691.2,864.1 L692.6,864 L694.1,864 L695.5,864 L697,864.1 L698.4,864.2 L699.7,864.3 L701.1,864.5 L702.4,864.7 L703.6,864.9 L704.8,865.2 L706,865.5 L707.1,865.8 L708.2,866.2 L709.2,866.5 L710.2,867 L711.1,867.4 L711.9,867.9 L712.7,868.3 L713.4,868.8 L714,869.4 L714.6,869.9 L715,870.5 L715.5,871.1 L715.8,871.7 L716.1,872.3 L716.2,872.9 L716.3,873.5 L716.4,874.2 L716.3,874.8 L716.2,875.5 L716,876.1 L715.7,876.8 L715.4,877.4 L714.9,878.1 L714.4,878.7 L713.8,879.4 L713.2,880 L712.5,880.6 L711.7,881.2 L710.8,881.8 L709.9,882.4 L708.9,883 L707.9,883.5 L706.8,884.1 L705.7,884.6 L704.5,885.1 L703.3,885.5" stroke="#000" stroke-width="1.0" fill="none" stroke-linejoin="round" stroke-linecap="round"/>
<path d="M681.6,889.5 L678.4,888.5 Q677,888 675.9,887 L673.6,885 Q672.5,884 673.2,882.7 L674.3,880.8 Q675,879.5 676.5,879.8 L680.5,880.7 Q682,881 682.2,882.5 L682.8,888.5 Q683,890 681.6,889.5Z" stroke="#000" stroke-width="1.5" fill="#fff" stroke-linejoin="round" stroke-linecap="round"/>
<path d="M693.5,889.8 L697.5,889.2 Q699,889 700.1,887.9 L701.9,886.1 Q703,885 702.2,883.7 L700.8,881.3 Q700,880 698.5,880.2 L695.5,880.8 Q694,881 693.7,882.5 L692.3,888.5 Q692,890 693.5,889.8Z" stroke="#000" stroke-width="1.5" fill="#fff" stroke-linejoin="round" stroke-linecap="round"/>
<path d="M684,855 L668,852 L660,848 L657,845.5 L661,857" stroke="#000" stroke-width="4.4" fill="none" stroke-linejoin="round" stroke-linecap="round"/>
<path d="M684,855 L668,852 L660,848 L657,845.5 L661,857" stroke="#fff" stroke-width="1.6" fill="none" stroke-linejoin="round" stroke-linecap="round"/>
<ellipse cx="699.5" cy="853" rx="19.5" ry="8.6" transform="rotate(-6 699.5 853)" stroke="#000" stroke-width="4.6" fill="none" stroke-linejoin="round" stroke-linecap="round"/>
<ellipse cx="699.5" cy="853" rx="19.5" ry="8.6" transform="rotate(-6 699.5 853)" stroke="#fff" stroke-width="1.8" fill="none" stroke-linejoin="round" stroke-linecap="round"/>
<ellipse cx="699.5" cy="845" rx="19.5" ry="8.6" transform="rotate(-6 699.5 845)" stroke="#000" stroke-width="4.6" fill="none" stroke-linejoin="round" stroke-linecap="round"/>
<ellipse cx="699.5" cy="845" rx="19.5" ry="8.6" transform="rotate(-6 699.5 845)" stroke="#fff" stroke-width="1.8" fill="none" stroke-linejoin="round" stroke-linecap="round"/>
<ellipse cx="699.5" cy="837" rx="19.5" ry="8.6" transform="rotate(-6 699.5 837)" stroke="#000" stroke-width="4.6" fill="none" stroke-linejoin="round" stroke-linecap="round"/>
<ellipse cx="699.5" cy="837" rx="19.5" ry="8.6" transform="rotate(-6 699.5 837)" stroke="#fff" stroke-width="1.8" fill="none" stroke-linejoin="round" stroke-linecap="round"/>
<ellipse cx="700" cy="838" rx="12" ry="4.8" transform="rotate(-6 700 838)" stroke="#000" stroke-width="1.4" fill="none" stroke-linejoin="round" stroke-linecap="round"/>
<path d="M718,835 L713,826 L702,818 L694.5,815 L693.5,809 L696,804" stroke="#000" stroke-width="4.4" fill="none" stroke-linejoin="round" stroke-linecap="round"/>
<path d="M718,835 L713,826 L702,818 L694.5,815 L693.5,809 L696,804" stroke="#fff" stroke-width="1.6" fill="none" stroke-linejoin="round" stroke-linecap="round"/>
<text x="0" y="0" font-family="Liberation Sans" font-size="28" fill="#c9c9c9" transform="translate(55 973.3) scale(0.957 1)">Imagens meramente ilustrativas.</text>
<path d="M856,549.5 L826.5,533.2" stroke="#000" stroke-width="1.6" fill="none" stroke-linejoin="round" stroke-linecap="round"/>
<path d="M860,252 L835,236" stroke="#000" stroke-width="1.6" fill="none" stroke-linejoin="round" stroke-linecap="round"/></svg></body></html>
